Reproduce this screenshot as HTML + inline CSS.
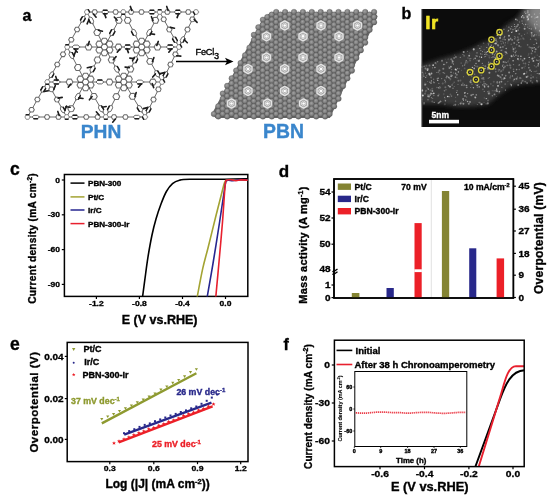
<!DOCTYPE html>
<html><head><meta charset="utf-8"><style>
html,body{margin:0;padding:0;background:#fff;}
svg{display:block;filter:blur(0.3px);}
</style></head><body>
<svg width="550" height="500" viewBox="0 0 550 500" font-family="Liberation Sans, sans-serif" font-weight="bold">
<text x="22.5" y="20.5" font-size="16" text-anchor="start" fill="#000"  stroke="#000" stroke-width="0.36">a</text>
<text x="401.5" y="19.0" font-size="16" text-anchor="start" fill="#000"  stroke="#000" stroke-width="0.36">b</text>
<text x="10.0" y="174.5" font-size="17.5" text-anchor="start" fill="#000"  stroke="#000" stroke-width="0.36">c</text>
<text x="278.8" y="176.8" font-size="17" text-anchor="start" fill="#000"  stroke="#000" stroke-width="0.36">d</text>
<text x="10.0" y="350.3" font-size="17.5" text-anchor="start" fill="#000"  stroke="#000" stroke-width="0.36">e</text>
<text x="283.5" y="350.0" font-size="16" text-anchor="start" fill="#000"  stroke="#000" stroke-width="0.36">f</text>
<g stroke-linecap="round">
<line x1="87.0" y1="12.0" x2="123.3" y2="12.0" stroke="#6a6a6a" stroke-width="1.0" />
<polyline points="97.4,12.0 96.1,14.3 93.4,14.3 92.0,12.0 93.4,9.7 96.1,9.7 97.4,12.0" fill="#fff" stroke="#6a6a6a" stroke-width="1.05" stroke-linejoin="round" />
<line x1="93.4" y1="14.0" x2="96.1" y2="17.2" stroke="#1c1c1c" stroke-width="1.6" />
<polyline points="108.8,12.0 107.0,13.7 103.4,13.7 101.6,12.0 103.4,10.3 107.0,10.3 108.8,12.0" fill="#fff" stroke="#6a6a6a" stroke-width="1.0" stroke-linejoin="round" />
<line x1="107.0" y1="13.7" x2="103.4" y2="13.7" stroke="#1c1c1c" stroke-width="1.5" />
<line x1="103.4" y1="10.3" x2="107.0" y2="10.3" stroke="#1c1c1c" stroke-width="1.5" />
<line x1="104.4" y1="13.6" x2="105.9" y2="17.6" stroke="#1c1c1c" stroke-width="1.6" />
<polyline points="118.3,12.0 117.0,14.3 114.3,14.3 112.9,12.0 114.3,9.7 117.0,9.7 118.3,12.0" fill="#fff" stroke="#6a6a6a" stroke-width="1.05" stroke-linejoin="round" />
<line x1="87.0" y1="12.0" x2="67.2" y2="47.0" stroke="#6a6a6a" stroke-width="1.0" />
<polyline points="81.1,22.4 80.5,20.0 82.3,16.9 84.6,16.2 85.2,18.6 83.5,21.7 81.1,22.4" fill="#fff" stroke="#6a6a6a" stroke-width="1.0" stroke-linejoin="round" />
<line x1="80.5" y1="20.0" x2="82.3" y2="16.9" stroke="#1c1c1c" stroke-width="1.5" />
<line x1="85.2" y1="18.6" x2="83.5" y2="21.7" stroke="#1c1c1c" stroke-width="1.5" />
<polyline points="75.8,31.8 74.4,29.5 75.7,27.2 78.4,27.2 79.8,29.5 78.5,31.8 75.8,31.8" fill="#fff" stroke="#6a6a6a" stroke-width="1.05" stroke-linejoin="round" />
<polyline points="70.0,42.1 68.6,39.7 69.9,37.4 72.6,37.4 74.0,39.7 72.7,42.0 70.0,42.1" fill="#fff" stroke="#6a6a6a" stroke-width="1.05" stroke-linejoin="round" />
<line x1="87.0" y1="12.0" x2="104.4" y2="47.0" stroke="#6a6a6a" stroke-width="1.0" />
<polyline points="92.9,23.8 90.3,22.9 88.6,19.4 89.4,16.8 92.0,17.7 93.7,21.2 92.9,23.8" fill="#fff" stroke="#6a6a6a" stroke-width="1.0" stroke-linejoin="round" />
<line x1="90.3" y1="22.9" x2="88.6" y2="19.4" stroke="#1c1c1c" stroke-width="1.5" />
<line x1="88.8" y1="20.0" x2="87.1" y2="23.8" stroke="#1c1c1c" stroke-width="1.6" />
<polyline points="98.7,35.5 95.3,35.3 93.8,32.2 95.7,29.4 99.1,29.6 100.6,32.6 98.7,35.5" fill="#fff" stroke="#6a6a6a" stroke-width="1.05" stroke-linejoin="round" />
<line x1="98.4" y1="30.3" x2="102.4" y2="31.3" stroke="#1c1c1c" stroke-width="1.6" />
<line x1="123.3" y1="12.0" x2="159.7" y2="12.0" stroke="#6a6a6a" stroke-width="1.0" />
<polyline points="133.8,12.0 132.4,14.3 129.7,14.3 128.4,12.0 129.7,9.7 132.4,9.7 133.8,12.0" fill="#fff" stroke="#6a6a6a" stroke-width="1.05" stroke-linejoin="round" />
<line x1="130.3" y1="6.4" x2="131.8" y2="10.4" stroke="#1c1c1c" stroke-width="1.6" />
<polyline points="144.2,12.0 142.8,14.3 140.2,14.3 138.8,12.0 140.2,9.7 142.8,9.7 144.2,12.0" fill="#fff" stroke="#6a6a6a" stroke-width="1.05" stroke-linejoin="round" />
<polyline points="155.5,12.0 153.7,13.7 150.1,13.7 148.3,12.0 150.1,10.3 153.7,10.3 155.5,12.0" fill="#fff" stroke="#6a6a6a" stroke-width="1.0" stroke-linejoin="round" />
<line x1="153.7" y1="13.7" x2="150.1" y2="13.7" stroke="#1c1c1c" stroke-width="1.5" />
<line x1="150.1" y1="10.3" x2="153.7" y2="10.3" stroke="#1c1c1c" stroke-width="1.5" />
<line x1="123.3" y1="12.0" x2="104.4" y2="47.0" stroke="#6a6a6a" stroke-width="1.0" />
<polyline points="117.2,23.3 115.4,20.4 117.1,17.4 120.5,17.3 122.2,20.2 120.6,23.2 117.2,23.3" fill="#fff" stroke="#6a6a6a" stroke-width="1.05" stroke-linejoin="round" />
<line x1="114.3" y1="17.0" x2="117.1" y2="20.2" stroke="#1c1c1c" stroke-width="1.6" />
<polyline points="110.4,36.0 109.7,33.3 111.5,29.9 114.1,29.1 114.9,31.7 113.0,35.1 110.4,36.0" fill="#fff" stroke="#6a6a6a" stroke-width="1.0" stroke-linejoin="round" />
<line x1="109.7" y1="33.3" x2="111.5" y2="29.9" stroke="#1c1c1c" stroke-width="1.5" />
<line x1="114.9" y1="31.7" x2="113.0" y2="35.1" stroke="#1c1c1c" stroke-width="1.5" />
<line x1="123.3" y1="12.0" x2="141.7" y2="47.0" stroke="#6a6a6a" stroke-width="1.0" />
<polyline points="129.3,23.3 125.9,23.2 124.3,20.2 126.1,17.3 129.5,17.4 131.1,20.4 129.3,23.3" fill="#fff" stroke="#6a6a6a" stroke-width="1.05" stroke-linejoin="round" />
<polyline points="135.9,35.9 133.3,35.1 131.5,31.7 132.3,29.0 134.9,29.9 136.7,33.3 135.9,35.9" fill="#fff" stroke="#6a6a6a" stroke-width="1.0" stroke-linejoin="round" />
<line x1="133.3" y1="35.1" x2="131.5" y2="31.7" stroke="#1c1c1c" stroke-width="1.5" />
<line x1="159.7" y1="12.0" x2="196.0" y2="12.0" stroke="#6a6a6a" stroke-width="1.0" />
<polyline points="170.1,12.0 168.7,14.3 166.0,14.3 164.7,12.0 166.0,9.7 168.7,9.7 170.1,12.0" fill="#fff" stroke="#6a6a6a" stroke-width="1.05" stroke-linejoin="round" />
<line x1="166.7" y1="6.4" x2="168.1" y2="10.4" stroke="#1c1c1c" stroke-width="1.6" />
<polyline points="181.4,12.0 179.6,13.7 176.0,13.7 174.2,12.0 176.0,10.3 179.6,10.3 181.4,12.0" fill="#fff" stroke="#6a6a6a" stroke-width="1.0" stroke-linejoin="round" />
<line x1="179.6" y1="13.7" x2="176.0" y2="13.7" stroke="#1c1c1c" stroke-width="1.5" />
<line x1="176.0" y1="10.3" x2="179.6" y2="10.3" stroke="#1c1c1c" stroke-width="1.5" />
<line x1="177.1" y1="17.6" x2="178.6" y2="13.6" stroke="#1c1c1c" stroke-width="1.6" />
<polyline points="191.0,12.0 189.6,14.3 186.9,14.3 185.6,12.0 186.9,9.7 189.6,9.7 191.0,12.0" fill="#fff" stroke="#6a6a6a" stroke-width="1.05" stroke-linejoin="round" />
<line x1="159.7" y1="12.0" x2="141.7" y2="47.0" stroke="#6a6a6a" stroke-width="1.0" />
<polyline points="153.9,23.3 152.0,20.5 153.6,17.4 157.0,17.3 158.8,20.1 157.3,23.2 153.9,23.3" fill="#fff" stroke="#6a6a6a" stroke-width="1.05" stroke-linejoin="round" />
<line x1="151.4" y1="16.7" x2="153.0" y2="20.6" stroke="#1c1c1c" stroke-width="1.6" />
<polyline points="147.4,35.9 146.6,33.3 148.4,29.9 151.0,29.0 151.8,31.6 150.0,35.1 147.4,35.9" fill="#fff" stroke="#6a6a6a" stroke-width="1.0" stroke-linejoin="round" />
<line x1="151.8" y1="31.6" x2="150.0" y2="35.1" stroke="#1c1c1c" stroke-width="1.5" />
<line x1="154.5" y1="34.4" x2="150.3" y2="33.8" stroke="#1c1c1c" stroke-width="1.6" />
<line x1="159.7" y1="12.0" x2="179.0" y2="47.0" stroke="#6a6a6a" stroke-width="1.0" />
<polyline points="165.0,21.7 162.3,21.6 161.0,19.2 162.4,16.9 165.1,17.0 166.4,19.3 165.0,21.7" fill="#fff" stroke="#6a6a6a" stroke-width="1.05" stroke-linejoin="round" />
<polyline points="170.6,31.9 167.9,31.8 166.6,29.4 168.0,27.1 170.7,27.2 172.0,29.6 170.6,31.9" fill="#fff" stroke="#6a6a6a" stroke-width="1.05" stroke-linejoin="round" />
<line x1="170.4" y1="27.4" x2="174.5" y2="28.2" stroke="#1c1c1c" stroke-width="1.6" />
<polyline points="176.7,42.9 174.4,42.1 172.6,39.0 173.2,36.6 175.6,37.3 177.3,40.5 176.7,42.9" fill="#fff" stroke="#6a6a6a" stroke-width="1.0" stroke-linejoin="round" />
<line x1="174.4" y1="42.1" x2="172.6" y2="39.0" stroke="#1c1c1c" stroke-width="1.5" />
<line x1="175.6" y1="37.3" x2="177.3" y2="40.5" stroke="#1c1c1c" stroke-width="1.5" />
<line x1="196.0" y1="12.0" x2="179.0" y2="47.0" stroke="#6a6a6a" stroke-width="1.0" />
<polyline points="191.3,21.8 189.7,19.5 190.9,17.1 193.6,16.9 195.1,19.1 194.0,21.6 191.3,21.8" fill="#fff" stroke="#6a6a6a" stroke-width="1.05" stroke-linejoin="round" />
<line x1="194.2" y1="19.4" x2="197.1" y2="22.4" stroke="#1c1c1c" stroke-width="1.6" />
<polyline points="186.3,31.9 184.8,29.7 186.0,27.3 188.7,27.1 190.2,29.3 189.0,31.7 186.3,31.9" fill="#fff" stroke="#6a6a6a" stroke-width="1.05" stroke-linejoin="round" />
<polyline points="181.0,42.9 180.2,40.5 181.8,37.3 184.1,36.4 184.9,38.8 183.3,42.0 181.0,42.9" fill="#fff" stroke="#6a6a6a" stroke-width="1.0" stroke-linejoin="round" />
<line x1="184.9" y1="38.8" x2="183.3" y2="42.0" stroke="#1c1c1c" stroke-width="1.5" />
<line x1="184.3" y1="39.7" x2="187.3" y2="42.7" stroke="#1c1c1c" stroke-width="1.6" />
<line x1="67.2" y1="47.0" x2="104.4" y2="47.0" stroke="#6a6a6a" stroke-width="1.0" />
<polyline points="79.9,47.0 77.9,48.9 74.0,48.9 72.1,47.0 74.0,45.1 77.9,45.1 79.9,47.0" fill="#fff" stroke="#6a6a6a" stroke-width="1.0" stroke-linejoin="round" />
<line x1="77.9" y1="48.9" x2="74.0" y2="48.9" stroke="#1c1c1c" stroke-width="1.5" />
<line x1="74.6" y1="49.0" x2="77.3" y2="52.2" stroke="#1c1c1c" stroke-width="1.6" />
<polyline points="92.0,47.0 90.3,49.9 86.9,49.9 85.2,47.0 86.9,44.1 90.3,44.1 92.0,47.0" fill="#fff" stroke="#6a6a6a" stroke-width="1.05" stroke-linejoin="round" />
<line x1="87.9" y1="45.4" x2="89.3" y2="41.4" stroke="#1c1c1c" stroke-width="1.6" />
<line x1="67.2" y1="47.0" x2="47.3" y2="82.0" stroke="#6a6a6a" stroke-width="1.0" />
<polyline points="61.7,56.6 60.3,54.3 61.7,52.0 64.4,51.9 65.7,54.3 64.4,56.6 61.7,56.6" fill="#fff" stroke="#6a6a6a" stroke-width="1.05" stroke-linejoin="round" />
<polyline points="55.9,66.8 54.6,64.5 55.9,62.2 58.6,62.2 59.9,64.5 58.6,66.8 55.9,66.8" fill="#fff" stroke="#6a6a6a" stroke-width="1.05" stroke-linejoin="round" />
<polyline points="49.7,77.8 49.1,75.4 50.9,72.3 53.2,71.6 53.8,74.0 52.1,77.1 49.7,77.8" fill="#fff" stroke="#6a6a6a" stroke-width="1.0" stroke-linejoin="round" />
<line x1="53.8" y1="74.0" x2="52.1" y2="77.1" stroke="#1c1c1c" stroke-width="1.5" />
<line x1="67.2" y1="47.0" x2="85.6" y2="82.0" stroke="#6a6a6a" stroke-width="1.0" />
<polyline points="73.3,58.8 70.8,57.9 68.9,54.5 69.7,51.9 72.3,52.7 74.1,56.1 73.3,58.8" fill="#fff" stroke="#6a6a6a" stroke-width="1.0" stroke-linejoin="round" />
<line x1="72.3" y1="52.7" x2="74.1" y2="56.1" stroke="#1c1c1c" stroke-width="1.5" />
<line x1="75.5" y1="51.7" x2="73.9" y2="55.6" stroke="#1c1c1c" stroke-width="1.6" />
<polyline points="79.5,70.5 76.1,70.4 74.5,67.4 76.4,64.5 79.8,64.6 81.3,67.6 79.5,70.5" fill="#fff" stroke="#6a6a6a" stroke-width="1.05" stroke-linejoin="round" />
<line x1="104.4" y1="47.0" x2="141.7" y2="47.0" stroke="#6a6a6a" stroke-width="1.0" />
<polyline points="121.9,47.0 120.2,49.9 116.8,49.9 115.1,47.0 116.8,44.1 120.2,44.1 121.9,47.0" fill="#fff" stroke="#6a6a6a" stroke-width="1.05" stroke-linejoin="round" />
<line x1="117.2" y1="52.2" x2="119.9" y2="49.0" stroke="#1c1c1c" stroke-width="1.6" />
<polyline points="131.6,47.0 129.6,48.9 125.7,48.9 123.8,47.0 125.7,45.1 129.6,45.1 131.6,47.0" fill="#fff" stroke="#6a6a6a" stroke-width="1.0" stroke-linejoin="round" />
<line x1="129.6" y1="48.9" x2="125.7" y2="48.9" stroke="#1c1c1c" stroke-width="1.5" />
<line x1="125.7" y1="45.1" x2="129.6" y2="45.1" stroke="#1c1c1c" stroke-width="1.5" />
<line x1="126.9" y1="48.6" x2="128.4" y2="52.6" stroke="#1c1c1c" stroke-width="1.6" />
<line x1="104.4" y1="47.0" x2="85.6" y2="82.0" stroke="#6a6a6a" stroke-width="1.0" />
<polyline points="95.9,62.9 94.1,60.0 95.7,57.0 99.1,56.9 100.9,59.8 99.3,62.8 95.9,62.9" fill="#fff" stroke="#6a6a6a" stroke-width="1.05" stroke-linejoin="round" />
<polyline points="90.7,72.5 89.9,69.9 91.8,66.5 94.4,65.6 95.1,68.3 93.3,71.7 90.7,72.5" fill="#fff" stroke="#6a6a6a" stroke-width="1.0" stroke-linejoin="round" />
<line x1="95.1" y1="68.3" x2="93.3" y2="71.7" stroke="#1c1c1c" stroke-width="1.5" />
<line x1="91.4" y1="66.9" x2="87.3" y2="67.8" stroke="#1c1c1c" stroke-width="1.6" />
<line x1="104.4" y1="47.0" x2="123.8" y2="82.0" stroke="#6a6a6a" stroke-width="1.0" />
<polyline points="113.2,62.9 109.8,62.8 108.2,59.8 109.9,56.9 113.3,57.0 115.0,60.0 113.2,62.9" fill="#fff" stroke="#6a6a6a" stroke-width="1.05" stroke-linejoin="round" />
<line x1="116.1" y1="56.6" x2="113.3" y2="59.8" stroke="#1c1c1c" stroke-width="1.6" />
<polyline points="118.5,72.5 115.9,71.7 114.0,68.3 114.8,65.7 117.4,66.5 119.3,69.9 118.5,72.5" fill="#fff" stroke="#6a6a6a" stroke-width="1.0" stroke-linejoin="round" />
<line x1="117.4" y1="66.5" x2="119.3" y2="69.9" stroke="#1c1c1c" stroke-width="1.5" />
<line x1="141.7" y1="47.0" x2="179.0" y2="47.0" stroke="#6a6a6a" stroke-width="1.0" />
<polyline points="160.9,47.0 159.2,49.9 155.8,49.9 154.1,47.0 155.8,44.1 159.2,44.1 160.9,47.0" fill="#fff" stroke="#6a6a6a" stroke-width="1.05" stroke-linejoin="round" />
<line x1="156.8" y1="45.4" x2="158.3" y2="41.4" stroke="#1c1c1c" stroke-width="1.6" />
<polyline points="174.1,47.0 172.1,48.9 168.2,48.9 166.3,47.0 168.2,45.1 172.1,45.1 174.1,47.0" fill="#fff" stroke="#6a6a6a" stroke-width="1.0" stroke-linejoin="round" />
<line x1="172.1" y1="48.9" x2="168.2" y2="48.9" stroke="#1c1c1c" stroke-width="1.5" />
<line x1="168.2" y1="45.1" x2="172.1" y2="45.1" stroke="#1c1c1c" stroke-width="1.5" />
<line x1="168.8" y1="52.2" x2="171.5" y2="49.0" stroke="#1c1c1c" stroke-width="1.6" />
<line x1="141.7" y1="47.0" x2="123.8" y2="82.0" stroke="#6a6a6a" stroke-width="1.0" />
<polyline points="133.3,63.4 132.5,60.8 134.3,57.4 136.8,56.5 137.6,59.1 135.9,62.6 133.3,63.4" fill="#fff" stroke="#6a6a6a" stroke-width="1.0" stroke-linejoin="round" />
<line x1="132.5" y1="60.8" x2="134.3" y2="57.4" stroke="#1c1c1c" stroke-width="1.5" />
<line x1="137.6" y1="59.1" x2="135.9" y2="62.6" stroke="#1c1c1c" stroke-width="1.5" />
<line x1="133.9" y1="58.6" x2="129.8" y2="58.1" stroke="#1c1c1c" stroke-width="1.6" />
<polyline points="128.9,72.0 127.0,69.2 128.6,66.2 132.0,66.0 133.8,68.9 132.3,71.9 128.9,72.0" fill="#fff" stroke="#6a6a6a" stroke-width="1.05" stroke-linejoin="round" />
<line x1="129.3" y1="67.6" x2="125.1" y2="67.1" stroke="#1c1c1c" stroke-width="1.6" />
<line x1="141.7" y1="47.0" x2="162.0" y2="82.0" stroke="#6a6a6a" stroke-width="1.0" />
<polyline points="151.8,64.3 148.4,64.3 146.7,61.4 148.3,58.4 151.7,58.4 153.5,61.4 151.8,64.3" fill="#fff" stroke="#6a6a6a" stroke-width="1.05" stroke-linejoin="round" />
<line x1="153.9" y1="57.6" x2="152.4" y2="61.5" stroke="#1c1c1c" stroke-width="1.6" />
<polyline points="159.1,77.1 156.5,76.3 154.6,72.9 155.2,70.3 157.8,71.0 159.8,74.4 159.1,77.1" fill="#fff" stroke="#6a6a6a" stroke-width="1.0" stroke-linejoin="round" />
<line x1="157.8" y1="71.0" x2="159.8" y2="74.4" stroke="#1c1c1c" stroke-width="1.5" />
<line x1="155.4" y1="73.9" x2="152.7" y2="77.1" stroke="#1c1c1c" stroke-width="1.6" />
<line x1="179.0" y1="47.0" x2="162.0" y2="82.0" stroke="#6a6a6a" stroke-width="1.0" />
<polyline points="174.3,56.8 172.7,54.5 173.9,52.1 176.6,51.9 178.1,54.1 177.0,56.6 174.3,56.8" fill="#fff" stroke="#6a6a6a" stroke-width="1.05" stroke-linejoin="round" />
<line x1="180.8" y1="56.1" x2="176.6" y2="55.7" stroke="#1c1c1c" stroke-width="1.6" />
<polyline points="169.3,66.9 167.8,64.7 169.0,62.3 171.7,62.1 173.2,64.3 172.0,66.7 169.3,66.9" fill="#fff" stroke="#6a6a6a" stroke-width="1.05" stroke-linejoin="round" />
<polyline points="164.0,77.9 163.2,75.5 164.8,72.3 167.1,71.4 167.9,73.8 166.3,77.0 164.0,77.9" fill="#fff" stroke="#6a6a6a" stroke-width="1.0" stroke-linejoin="round" />
<line x1="163.2" y1="75.5" x2="164.8" y2="72.3" stroke="#1c1c1c" stroke-width="1.5" />
<line x1="167.9" y1="73.8" x2="166.3" y2="77.0" stroke="#1c1c1c" stroke-width="1.5" />
<line x1="164.4" y1="72.6" x2="160.3" y2="73.6" stroke="#1c1c1c" stroke-width="1.6" />
<line x1="47.3" y1="82.0" x2="85.6" y2="82.0" stroke="#6a6a6a" stroke-width="1.0" />
<polyline points="60.3,82.0 58.3,83.9 54.4,83.9 52.5,82.0 54.4,80.1 58.3,80.1 60.3,82.0" fill="#fff" stroke="#6a6a6a" stroke-width="1.0" stroke-linejoin="round" />
<line x1="58.3" y1="83.9" x2="54.4" y2="83.9" stroke="#1c1c1c" stroke-width="1.5" />
<line x1="54.4" y1="80.1" x2="58.3" y2="80.1" stroke="#1c1c1c" stroke-width="1.5" />
<line x1="55.7" y1="76.4" x2="57.1" y2="80.4" stroke="#1c1c1c" stroke-width="1.6" />
<polyline points="72.9,82.0 71.2,84.9 67.8,84.9 66.1,82.0 67.8,79.1 71.2,79.1 72.9,82.0" fill="#fff" stroke="#6a6a6a" stroke-width="1.05" stroke-linejoin="round" />
<line x1="68.2" y1="87.2" x2="70.8" y2="84.0" stroke="#1c1c1c" stroke-width="1.6" />
<line x1="47.3" y1="82.0" x2="27.5" y2="117.0" stroke="#6a6a6a" stroke-width="1.0" />
<polyline points="41.4,92.4 40.8,90.0 42.6,86.9 45.0,86.2 45.6,88.6 43.8,91.7 41.4,92.4" fill="#fff" stroke="#6a6a6a" stroke-width="1.0" stroke-linejoin="round" />
<line x1="40.8" y1="90.0" x2="42.6" y2="86.9" stroke="#1c1c1c" stroke-width="1.5" />
<line x1="45.6" y1="88.6" x2="43.8" y2="91.7" stroke="#1c1c1c" stroke-width="1.5" />
<line x1="48.4" y1="90.7" x2="44.3" y2="91.4" stroke="#1c1c1c" stroke-width="1.6" />
<polyline points="36.1,101.8 34.7,99.5 36.0,97.2 38.7,97.2 40.1,99.5 38.8,101.8 36.1,101.8" fill="#fff" stroke="#6a6a6a" stroke-width="1.05" stroke-linejoin="round" />
<polyline points="30.3,112.1 28.9,109.7 30.3,107.4 33.0,107.4 34.3,109.7 33.0,112.0 30.3,112.1" fill="#fff" stroke="#6a6a6a" stroke-width="1.05" stroke-linejoin="round" />
<line x1="47.3" y1="82.0" x2="66.7" y2="117.0" stroke="#6a6a6a" stroke-width="1.0" />
<polyline points="52.7,91.7 50.0,91.6 48.7,89.2 50.1,86.9 52.8,87.0 54.1,89.3 52.7,91.7" fill="#fff" stroke="#6a6a6a" stroke-width="1.05" stroke-linejoin="round" />
<line x1="55.3" y1="85.6" x2="53.8" y2="89.5" stroke="#1c1c1c" stroke-width="1.6" />
<polyline points="58.3,101.9 55.6,101.8 54.3,99.4 55.7,97.1 58.4,97.2 59.7,99.6 58.3,101.9" fill="#fff" stroke="#6a6a6a" stroke-width="1.05" stroke-linejoin="round" />
<line x1="58.1" y1="98.1" x2="62.2" y2="97.4" stroke="#1c1c1c" stroke-width="1.6" />
<polyline points="64.4,112.9 62.0,112.1 60.3,109.0 60.9,106.6 63.3,107.3 65.0,110.5 64.4,112.9" fill="#fff" stroke="#6a6a6a" stroke-width="1.0" stroke-linejoin="round" />
<line x1="63.3" y1="107.3" x2="65.0" y2="110.5" stroke="#1c1c1c" stroke-width="1.5" />
<line x1="66.5" y1="106.0" x2="65.0" y2="109.9" stroke="#1c1c1c" stroke-width="1.6" />
<line x1="85.6" y1="82.0" x2="123.8" y2="82.0" stroke="#6a6a6a" stroke-width="1.0" />
<polyline points="103.8,82.0 101.8,83.9 97.9,83.9 96.0,82.0 97.9,80.1 101.8,80.1 103.8,82.0" fill="#fff" stroke="#6a6a6a" stroke-width="1.0" stroke-linejoin="round" />
<line x1="97.9" y1="80.1" x2="101.8" y2="80.1" stroke="#1c1c1c" stroke-width="1.5" />
<polyline points="112.9,82.0 111.2,84.9 107.8,84.9 106.1,82.0 107.8,79.1 111.2,79.1 112.9,82.0" fill="#fff" stroke="#6a6a6a" stroke-width="1.05" stroke-linejoin="round" />
<line x1="85.6" y1="82.0" x2="66.7" y2="117.0" stroke="#6a6a6a" stroke-width="1.0" />
<polyline points="75.9,99.9 75.1,97.3 77.0,93.9 79.6,93.0 80.3,95.7 78.5,99.1 75.9,99.9" fill="#fff" stroke="#6a6a6a" stroke-width="1.0" stroke-linejoin="round" />
<line x1="80.3" y1="95.7" x2="78.5" y2="99.1" stroke="#1c1c1c" stroke-width="1.5" />
<line x1="83.0" y1="98.5" x2="78.8" y2="97.9" stroke="#1c1c1c" stroke-width="1.6" />
<polyline points="69.5,111.7 67.8,108.8 69.4,105.8 72.8,105.7 74.6,108.6 72.9,111.6 69.5,111.7" fill="#fff" stroke="#6a6a6a" stroke-width="1.05" stroke-linejoin="round" />
<line x1="70.1" y1="107.3" x2="65.9" y2="106.7" stroke="#1c1c1c" stroke-width="1.6" />
<line x1="85.6" y1="82.0" x2="105.8" y2="117.0" stroke="#6a6a6a" stroke-width="1.0" />
<polyline points="95.6,99.3 92.2,99.3 90.5,96.4 92.2,93.4 95.6,93.4 97.3,96.4 95.6,99.3" fill="#fff" stroke="#6a6a6a" stroke-width="1.05" stroke-linejoin="round" />
<line x1="92.1" y1="96.6" x2="89.4" y2="99.8" stroke="#1c1c1c" stroke-width="1.6" />
<polyline points="103.0,112.1 100.3,111.3 98.4,107.9 99.1,105.3 101.7,106.0 103.6,109.4 103.0,112.1" fill="#fff" stroke="#6a6a6a" stroke-width="1.0" stroke-linejoin="round" />
<line x1="101.7" y1="106.0" x2="103.6" y2="109.4" stroke="#1c1c1c" stroke-width="1.5" />
<line x1="102.1" y1="107.2" x2="106.2" y2="106.5" stroke="#1c1c1c" stroke-width="1.6" />
<line x1="123.8" y1="82.0" x2="162.0" y2="82.0" stroke="#6a6a6a" stroke-width="1.0" />
<polyline points="143.7,82.0 141.8,83.9 137.9,83.9 135.9,82.0 137.9,80.1 141.8,80.1 143.7,82.0" fill="#fff" stroke="#6a6a6a" stroke-width="1.0" stroke-linejoin="round" />
<line x1="141.8" y1="83.9" x2="137.9" y2="83.9" stroke="#1c1c1c" stroke-width="1.5" />
<line x1="138.5" y1="87.2" x2="141.2" y2="84.0" stroke="#1c1c1c" stroke-width="1.6" />
<polyline points="156.3,82.0 154.6,84.9 151.2,84.9 149.5,82.0 151.2,79.1 154.6,79.1 156.3,82.0" fill="#fff" stroke="#6a6a6a" stroke-width="1.05" stroke-linejoin="round" />
<line x1="152.2" y1="83.6" x2="153.7" y2="87.6" stroke="#1c1c1c" stroke-width="1.6" />
<line x1="123.8" y1="82.0" x2="105.8" y2="117.0" stroke="#6a6a6a" stroke-width="1.0" />
<polyline points="114.8,99.6 112.9,96.7 114.5,93.7 117.9,93.5 119.7,96.4 118.2,99.4 114.8,99.6" fill="#fff" stroke="#6a6a6a" stroke-width="1.05" stroke-linejoin="round" />
<polyline points="108.3,112.2 107.5,109.6 109.3,106.1 111.9,105.2 112.7,107.8 110.9,111.3 108.3,112.2" fill="#fff" stroke="#6a6a6a" stroke-width="1.0" stroke-linejoin="round" />
<line x1="107.5" y1="109.6" x2="109.3" y2="106.1" stroke="#1c1c1c" stroke-width="1.5" />
<line x1="123.8" y1="82.0" x2="145.0" y2="117.0" stroke="#6a6a6a" stroke-width="1.0" />
<polyline points="134.2,99.2 130.8,99.3 129.1,96.4 130.7,93.4 134.1,93.3 135.9,96.2 134.2,99.2" fill="#fff" stroke="#6a6a6a" stroke-width="1.05" stroke-linejoin="round" />
<line x1="136.2" y1="92.5" x2="134.9" y2="96.4" stroke="#1c1c1c" stroke-width="1.6" />
<polyline points="142.0,112.0 139.3,111.3 137.3,108.0 137.9,105.3 140.6,106.0 142.6,109.4 142.0,112.0" fill="#fff" stroke="#6a6a6a" stroke-width="1.0" stroke-linejoin="round" />
<line x1="139.3" y1="111.3" x2="137.3" y2="108.0" stroke="#1c1c1c" stroke-width="1.5" />
<line x1="162.0" y1="82.0" x2="145.0" y2="117.0" stroke="#6a6a6a" stroke-width="1.0" />
<polyline points="157.3,91.8 155.7,89.5 156.9,87.1 159.6,86.9 161.1,89.1 160.0,91.6 157.3,91.8" fill="#fff" stroke="#6a6a6a" stroke-width="1.05" stroke-linejoin="round" />
<polyline points="152.3,101.9 150.8,99.7 152.0,97.3 154.7,97.1 156.2,99.3 155.0,101.7 152.3,101.9" fill="#fff" stroke="#6a6a6a" stroke-width="1.05" stroke-linejoin="round" />
<polyline points="147.0,112.9 146.2,110.5 147.8,107.3 150.1,106.4 150.9,108.8 149.3,112.0 147.0,112.9" fill="#fff" stroke="#6a6a6a" stroke-width="1.0" stroke-linejoin="round" />
<line x1="146.2" y1="110.5" x2="147.8" y2="107.3" stroke="#1c1c1c" stroke-width="1.5" />
<line x1="150.9" y1="108.8" x2="149.3" y2="112.0" stroke="#1c1c1c" stroke-width="1.5" />
<line x1="147.4" y1="107.6" x2="143.3" y2="108.6" stroke="#1c1c1c" stroke-width="1.6" />
<line x1="27.5" y1="117.0" x2="66.7" y2="117.0" stroke="#6a6a6a" stroke-width="1.0" />
<polyline points="39.3,117.0 37.5,118.7 33.9,118.7 32.1,117.0 33.9,115.3 37.5,115.3 39.3,117.0" fill="#fff" stroke="#6a6a6a" stroke-width="1.0" stroke-linejoin="round" />
<line x1="37.5" y1="118.7" x2="33.9" y2="118.7" stroke="#1c1c1c" stroke-width="1.5" />
<polyline points="49.8,117.0 48.4,119.3 45.7,119.3 44.4,117.0 45.7,114.7 48.4,114.7 49.8,117.0" fill="#fff" stroke="#6a6a6a" stroke-width="1.05" stroke-linejoin="round" />
<polyline points="61.2,117.0 59.8,119.3 57.1,119.3 55.8,117.0 57.1,114.7 59.8,114.7 61.2,117.0" fill="#fff" stroke="#6a6a6a" stroke-width="1.05" stroke-linejoin="round" />
<line x1="57.8" y1="111.4" x2="59.2" y2="115.4" stroke="#1c1c1c" stroke-width="1.6" />
<line x1="66.7" y1="117.0" x2="105.8" y2="117.0" stroke="#6a6a6a" stroke-width="1.0" />
<polyline points="78.5,117.0 76.7,118.7 73.1,118.7 71.3,117.0 73.1,115.3 76.7,115.3 78.5,117.0" fill="#fff" stroke="#6a6a6a" stroke-width="1.0" stroke-linejoin="round" />
<line x1="76.7" y1="118.7" x2="73.1" y2="118.7" stroke="#1c1c1c" stroke-width="1.5" />
<line x1="73.1" y1="115.3" x2="76.7" y2="115.3" stroke="#1c1c1c" stroke-width="1.5" />
<polyline points="89.0,117.0 87.6,119.3 84.9,119.3 83.5,117.0 84.9,114.7 87.6,114.7 89.0,117.0" fill="#fff" stroke="#6a6a6a" stroke-width="1.05" stroke-linejoin="round" />
<polyline points="100.3,117.0 99.0,119.3 96.3,119.3 94.9,117.0 96.3,114.7 99.0,114.7 100.3,117.0" fill="#fff" stroke="#6a6a6a" stroke-width="1.05" stroke-linejoin="round" />
<line x1="96.3" y1="111.8" x2="99.0" y2="115.0" stroke="#1c1c1c" stroke-width="1.6" />
<line x1="105.8" y1="117.0" x2="145.0" y2="117.0" stroke="#6a6a6a" stroke-width="1.0" />
<polyline points="116.7,117.0 115.4,119.3 112.7,119.3 111.3,117.0 112.7,114.7 115.4,114.7 116.7,117.0" fill="#fff" stroke="#6a6a6a" stroke-width="1.05" stroke-linejoin="round" />
<line x1="112.7" y1="122.2" x2="115.4" y2="119.0" stroke="#1c1c1c" stroke-width="1.6" />
<polyline points="128.1,117.0 126.8,119.3 124.1,119.3 122.7,117.0 124.1,114.7 126.8,114.7 128.1,117.0" fill="#fff" stroke="#6a6a6a" stroke-width="1.05" stroke-linejoin="round" />
<polyline points="140.4,117.0 138.6,118.7 135.0,118.7 133.2,117.0 135.0,115.3 138.6,115.3 140.4,117.0" fill="#fff" stroke="#6a6a6a" stroke-width="1.0" stroke-linejoin="round" />
<line x1="138.6" y1="118.7" x2="135.0" y2="118.7" stroke="#1c1c1c" stroke-width="1.5" />
<polyline points="89.6,12.0 88.3,14.3 85.7,14.3 84.4,12.0 85.7,9.7 88.3,9.7 89.6,12.0" fill="#fff" stroke="#7a7a7a" stroke-width="0.85" stroke-linejoin="round" />
<line x1="88.3" y1="9.7" x2="89.6" y2="12.0" stroke="#1e1e1e" stroke-width="1.5" />
<polyline points="125.9,12.0 124.6,14.3 122.0,14.3 120.7,12.0 122.0,9.7 124.6,9.7 125.9,12.0" fill="#fff" stroke="#7a7a7a" stroke-width="0.85" stroke-linejoin="round" />
<line x1="124.6" y1="14.3" x2="122.0" y2="14.3" stroke="#1e1e1e" stroke-width="1.5" />
<polyline points="162.3,12.0 161.0,14.3 158.4,14.3 157.1,12.0 158.4,9.7 161.0,9.7 162.3,12.0" fill="#fff" stroke="#7a7a7a" stroke-width="0.85" stroke-linejoin="round" />
<line x1="158.4" y1="9.7" x2="161.0" y2="9.7" stroke="#1e1e1e" stroke-width="1.5" />
<polyline points="198.6,12.0 197.3,14.3 194.7,14.3 193.4,12.0 194.7,9.7 197.3,9.7 198.6,12.0" fill="#fff" stroke="#7a7a7a" stroke-width="0.85" stroke-linejoin="round" />
<line x1="194.7" y1="14.3" x2="193.4" y2="12.0" stroke="#1e1e1e" stroke-width="1.5" />
<polyline points="69.8,47.0 68.5,49.3 65.9,49.3 64.6,47.0 65.9,44.7 68.5,44.7 69.8,47.0" fill="#fff" stroke="#7a7a7a" stroke-width="0.85" stroke-linejoin="round" />
<line x1="65.9" y1="44.7" x2="68.5" y2="44.7" stroke="#1e1e1e" stroke-width="1.5" />
<polyline points="107.8,47.0 106.1,49.9 102.7,49.9 101.0,47.0 102.7,44.1 106.1,44.1 107.8,47.0" fill="#fff" stroke="#6a6a6a" stroke-width="1.05" stroke-linejoin="round" />
<polyline points="113.0,50.0 111.3,52.9 107.9,52.9 106.2,50.0 107.9,47.0 111.3,47.0 113.0,50.0" fill="#fff" stroke="#6a6a6a" stroke-width="1.05" stroke-linejoin="round" />
<line x1="107.9" y1="52.9" x2="106.2" y2="50.0" stroke="#1e1e1e" stroke-width="1.5" />
<polyline points="107.8,52.9 106.1,55.8 102.7,55.8 101.0,52.9 102.7,50.0 106.1,50.0 107.8,52.9" fill="#fff" stroke="#6a6a6a" stroke-width="1.05" stroke-linejoin="round" />
<polyline points="102.7,50.0 101.0,52.9 97.6,52.9 95.9,50.0 97.6,47.0 101.0,47.0 102.7,50.0" fill="#fff" stroke="#6a6a6a" stroke-width="1.05" stroke-linejoin="round" />
<line x1="97.6" y1="47.0" x2="101.0" y2="47.0" stroke="#1e1e1e" stroke-width="1.5" />
<polyline points="102.7,44.0 101.0,47.0 97.6,47.0 95.9,44.0 97.6,41.1 101.0,41.1 102.7,44.0" fill="#fff" stroke="#6a6a6a" stroke-width="1.05" stroke-linejoin="round" />
<polyline points="107.8,41.1 106.1,44.0 102.7,44.0 101.0,41.1 102.7,38.2 106.1,38.2 107.8,41.1" fill="#fff" stroke="#6a6a6a" stroke-width="1.05" stroke-linejoin="round" />
<line x1="107.8" y1="41.1" x2="106.1" y2="44.0" stroke="#1e1e1e" stroke-width="1.5" />
<polyline points="113.0,44.0 111.3,47.0 107.9,47.0 106.2,44.0 107.9,41.1 111.3,41.1 113.0,44.0" fill="#fff" stroke="#6a6a6a" stroke-width="1.05" stroke-linejoin="round" />
<polyline points="145.1,47.0 143.4,49.9 140.0,49.9 138.3,47.0 140.0,44.1 143.4,44.1 145.1,47.0" fill="#fff" stroke="#6a6a6a" stroke-width="1.05" stroke-linejoin="round" />
<polyline points="150.2,50.0 148.5,52.9 145.1,52.9 143.4,50.0 145.1,47.0 148.5,47.0 150.2,50.0" fill="#fff" stroke="#6a6a6a" stroke-width="1.05" stroke-linejoin="round" />
<line x1="145.1" y1="52.9" x2="143.4" y2="50.0" stroke="#1e1e1e" stroke-width="1.5" />
<polyline points="145.1,52.9 143.4,55.8 140.0,55.8 138.3,52.9 140.0,50.0 143.4,50.0 145.1,52.9" fill="#fff" stroke="#6a6a6a" stroke-width="1.05" stroke-linejoin="round" />
<polyline points="140.0,50.0 138.3,52.9 134.9,52.9 133.2,50.0 134.9,47.0 138.3,47.0 140.0,50.0" fill="#fff" stroke="#6a6a6a" stroke-width="1.05" stroke-linejoin="round" />
<line x1="134.9" y1="47.0" x2="138.3" y2="47.0" stroke="#1e1e1e" stroke-width="1.5" />
<polyline points="140.0,44.0 138.3,47.0 134.9,47.0 133.2,44.0 134.9,41.1 138.3,41.1 140.0,44.0" fill="#fff" stroke="#6a6a6a" stroke-width="1.05" stroke-linejoin="round" />
<polyline points="145.1,41.1 143.4,44.0 140.0,44.0 138.3,41.1 140.0,38.2 143.4,38.2 145.1,41.1" fill="#fff" stroke="#6a6a6a" stroke-width="1.05" stroke-linejoin="round" />
<line x1="145.1" y1="41.1" x2="143.4" y2="44.0" stroke="#1e1e1e" stroke-width="1.5" />
<polyline points="150.2,44.0 148.5,47.0 145.1,47.0 143.4,44.0 145.1,41.1 148.5,41.1 150.2,44.0" fill="#fff" stroke="#6a6a6a" stroke-width="1.05" stroke-linejoin="round" />
<polyline points="181.6,47.0 180.3,49.3 177.7,49.3 176.4,47.0 177.7,44.7 180.3,44.7 181.6,47.0" fill="#fff" stroke="#7a7a7a" stroke-width="0.85" stroke-linejoin="round" />
<line x1="180.3" y1="44.7" x2="181.6" y2="47.0" stroke="#1e1e1e" stroke-width="1.5" />
<polyline points="49.9,82.0 48.6,84.3 46.0,84.3 44.7,82.0 46.0,79.7 48.6,79.7 49.9,82.0" fill="#fff" stroke="#7a7a7a" stroke-width="0.85" stroke-linejoin="round" />
<line x1="48.6" y1="84.3" x2="46.0" y2="84.3" stroke="#1e1e1e" stroke-width="1.5" />
<polyline points="89.0,82.0 87.3,84.9 83.9,84.9 82.2,82.0 83.9,79.1 87.3,79.1 89.0,82.0" fill="#fff" stroke="#6a6a6a" stroke-width="1.05" stroke-linejoin="round" />
<polyline points="94.1,85.0 92.4,87.9 89.0,87.9 87.3,85.0 89.0,82.0 92.4,82.0 94.1,85.0" fill="#fff" stroke="#6a6a6a" stroke-width="1.05" stroke-linejoin="round" />
<line x1="89.0" y1="87.9" x2="87.3" y2="85.0" stroke="#1e1e1e" stroke-width="1.5" />
<polyline points="89.0,87.9 87.3,90.8 83.9,90.8 82.2,87.9 83.9,85.0 87.3,85.0 89.0,87.9" fill="#fff" stroke="#6a6a6a" stroke-width="1.05" stroke-linejoin="round" />
<polyline points="83.8,85.0 82.1,87.9 78.7,87.9 77.0,85.0 78.7,82.0 82.1,82.0 83.8,85.0" fill="#fff" stroke="#6a6a6a" stroke-width="1.05" stroke-linejoin="round" />
<line x1="78.7" y1="82.0" x2="82.1" y2="82.0" stroke="#1e1e1e" stroke-width="1.5" />
<polyline points="83.8,79.0 82.1,82.0 78.7,82.0 77.0,79.0 78.7,76.1 82.1,76.1 83.8,79.0" fill="#fff" stroke="#6a6a6a" stroke-width="1.05" stroke-linejoin="round" />
<polyline points="89.0,76.1 87.3,79.0 83.9,79.0 82.2,76.1 83.9,73.2 87.3,73.2 89.0,76.1" fill="#fff" stroke="#6a6a6a" stroke-width="1.05" stroke-linejoin="round" />
<line x1="89.0" y1="76.1" x2="87.3" y2="79.0" stroke="#1e1e1e" stroke-width="1.5" />
<polyline points="94.1,79.0 92.4,82.0 89.0,82.0 87.3,79.0 89.0,76.1 92.4,76.1 94.1,79.0" fill="#fff" stroke="#6a6a6a" stroke-width="1.05" stroke-linejoin="round" />
<polyline points="127.2,82.0 125.5,84.9 122.1,84.9 120.4,82.0 122.1,79.1 125.5,79.1 127.2,82.0" fill="#fff" stroke="#6a6a6a" stroke-width="1.05" stroke-linejoin="round" />
<polyline points="132.3,85.0 130.6,87.9 127.2,87.9 125.5,85.0 127.2,82.0 130.6,82.0 132.3,85.0" fill="#fff" stroke="#6a6a6a" stroke-width="1.05" stroke-linejoin="round" />
<line x1="127.2" y1="87.9" x2="125.5" y2="85.0" stroke="#1e1e1e" stroke-width="1.5" />
<polyline points="127.2,87.9 125.5,90.8 122.1,90.8 120.4,87.9 122.1,85.0 125.5,85.0 127.2,87.9" fill="#fff" stroke="#6a6a6a" stroke-width="1.05" stroke-linejoin="round" />
<polyline points="122.1,85.0 120.4,87.9 117.0,87.9 115.3,85.0 117.0,82.0 120.4,82.0 122.1,85.0" fill="#fff" stroke="#6a6a6a" stroke-width="1.05" stroke-linejoin="round" />
<line x1="117.0" y1="82.0" x2="120.4" y2="82.0" stroke="#1e1e1e" stroke-width="1.5" />
<polyline points="122.1,79.0 120.4,82.0 117.0,82.0 115.3,79.0 117.0,76.1 120.4,76.1 122.1,79.0" fill="#fff" stroke="#6a6a6a" stroke-width="1.05" stroke-linejoin="round" />
<polyline points="127.2,76.1 125.5,79.0 122.1,79.0 120.4,76.1 122.1,73.2 125.5,73.2 127.2,76.1" fill="#fff" stroke="#6a6a6a" stroke-width="1.05" stroke-linejoin="round" />
<line x1="127.2" y1="76.1" x2="125.5" y2="79.0" stroke="#1e1e1e" stroke-width="1.5" />
<polyline points="132.3,79.0 130.6,82.0 127.2,82.0 125.5,79.0 127.2,76.1 130.6,76.1 132.3,79.0" fill="#fff" stroke="#6a6a6a" stroke-width="1.05" stroke-linejoin="round" />
<polyline points="164.6,82.0 163.3,84.3 160.7,84.3 159.4,82.0 160.7,79.7 163.3,79.7 164.6,82.0" fill="#fff" stroke="#7a7a7a" stroke-width="0.85" stroke-linejoin="round" />
<line x1="163.3" y1="79.7" x2="164.6" y2="82.0" stroke="#1e1e1e" stroke-width="1.5" />
<polyline points="30.1,117.0 28.8,119.3 26.2,119.3 24.9,117.0 26.2,114.7 28.8,114.7 30.1,117.0" fill="#fff" stroke="#7a7a7a" stroke-width="0.85" stroke-linejoin="round" />
<line x1="26.2" y1="114.7" x2="28.8" y2="114.7" stroke="#1e1e1e" stroke-width="1.5" />
<polyline points="69.3,117.0 68.0,119.3 65.4,119.3 64.1,117.0 65.4,114.7 68.0,114.7 69.3,117.0" fill="#fff" stroke="#7a7a7a" stroke-width="0.85" stroke-linejoin="round" />
<line x1="68.0" y1="119.3" x2="65.4" y2="119.3" stroke="#1e1e1e" stroke-width="1.5" />
<polyline points="108.4,117.0 107.1,119.3 104.5,119.3 103.2,117.0 104.5,114.7 107.1,114.7 108.4,117.0" fill="#fff" stroke="#7a7a7a" stroke-width="0.85" stroke-linejoin="round" />
<line x1="107.1" y1="119.3" x2="104.5" y2="119.3" stroke="#1e1e1e" stroke-width="1.5" />
<polyline points="147.6,117.0 146.3,119.3 143.7,119.3 142.4,117.0 143.7,114.7 146.3,114.7 147.6,117.0" fill="#fff" stroke="#7a7a7a" stroke-width="0.85" stroke-linejoin="round" />
<line x1="143.7" y1="119.3" x2="142.4" y2="117.0" stroke="#1e1e1e" stroke-width="1.5" />
</g>
<line x1="176.0" y1="61.5" x2="228.0" y2="61.5" stroke="#000" stroke-width="1.3" />
<polygon points="233.5,61.5 225,57.8 227,61.5 225,65.2" fill="#000"/>
<text x="195.5" y="55.0" font-size="9.2" text-anchor="start" fill="#000" font-weight="normal" stroke="#000" stroke-width="0.35" letter-spacing="-0.2">FeCl<tspan font-size="9.2" dy="4">3</tspan></text>
<text x="80.8" y="137.6" font-size="19.2" text-anchor="start" fill="#3a86cc"  stroke="#3a86cc" stroke-width="0.36">PHN</text>
<text x="263.0" y="137.8" font-size="19.4" text-anchor="start" fill="#3a86cc"  stroke="#3a86cc" stroke-width="0.36">PBN</text>
<defs><radialGradient id="sph" cx="0.42" cy="0.38" r="0.6"><stop offset="0" stop-color="#a2a2a2"/><stop offset="0.6" stop-color="#808080"/><stop offset="1" stop-color="#5e5e5e"/></radialGradient></defs>
<polygon points="270,9.5 376,9.5 380.5,16 331.5,120.5 214,120.5 209.5,113 260,18.5" fill="#666" stroke="#fff" stroke-width="5" stroke-linejoin="round"/>
<circle cx="213.9" cy="114.0" r="2.8" fill="url(#sph)" stroke="#555" stroke-width="0.3"/>
<circle cx="218.3" cy="106.3" r="2.8" fill="url(#sph)" stroke="#555" stroke-width="0.3"/>
<circle cx="218.3" cy="111.4" r="2.8" fill="url(#sph)" stroke="#555" stroke-width="0.3"/>
<circle cx="218.3" cy="116.5" r="2.8" fill="url(#sph)" stroke="#555" stroke-width="0.3"/>
<circle cx="222.8" cy="93.6" r="2.8" fill="url(#sph)" stroke="#555" stroke-width="0.3"/>
<circle cx="222.8" cy="98.7" r="2.8" fill="url(#sph)" stroke="#555" stroke-width="0.3"/>
<circle cx="222.8" cy="103.8" r="2.8" fill="url(#sph)" stroke="#555" stroke-width="0.3"/>
<circle cx="222.8" cy="108.9" r="2.8" fill="url(#sph)" stroke="#555" stroke-width="0.3"/>
<circle cx="222.8" cy="114.0" r="2.8" fill="url(#sph)" stroke="#555" stroke-width="0.3"/>
<circle cx="227.2" cy="85.9" r="2.8" fill="url(#sph)" stroke="#555" stroke-width="0.3"/>
<circle cx="227.2" cy="91.0" r="2.8" fill="url(#sph)" stroke="#555" stroke-width="0.3"/>
<circle cx="227.2" cy="96.1" r="2.8" fill="url(#sph)" stroke="#555" stroke-width="0.3"/>
<circle cx="227.2" cy="101.2" r="2.8" fill="url(#sph)" stroke="#555" stroke-width="0.3"/>
<circle cx="227.2" cy="106.3" r="2.8" fill="url(#sph)" stroke="#555" stroke-width="0.3"/>
<circle cx="227.2" cy="111.4" r="2.8" fill="url(#sph)" stroke="#555" stroke-width="0.3"/>
<circle cx="227.2" cy="116.5" r="2.8" fill="url(#sph)" stroke="#555" stroke-width="0.3"/>
<circle cx="231.7" cy="78.3" r="2.8" fill="url(#sph)" stroke="#555" stroke-width="0.3"/>
<circle cx="231.7" cy="83.4" r="2.8" fill="url(#sph)" stroke="#555" stroke-width="0.3"/>
<circle cx="231.7" cy="88.5" r="2.8" fill="url(#sph)" stroke="#555" stroke-width="0.3"/>
<circle cx="231.7" cy="93.6" r="2.8" fill="url(#sph)" stroke="#555" stroke-width="0.3"/>
<circle cx="231.7" cy="98.7" r="2.8" fill="url(#sph)" stroke="#555" stroke-width="0.3"/>
<circle cx="231.7" cy="103.8" r="2.8" fill="url(#sph)" stroke="#555" stroke-width="0.3"/>
<circle cx="231.7" cy="108.9" r="2.8" fill="url(#sph)" stroke="#555" stroke-width="0.3"/>
<circle cx="231.7" cy="114.0" r="2.8" fill="url(#sph)" stroke="#555" stroke-width="0.3"/>
<circle cx="236.2" cy="70.6" r="2.8" fill="url(#sph)" stroke="#555" stroke-width="0.3"/>
<circle cx="236.2" cy="75.7" r="2.8" fill="url(#sph)" stroke="#555" stroke-width="0.3"/>
<circle cx="236.2" cy="80.8" r="2.8" fill="url(#sph)" stroke="#555" stroke-width="0.3"/>
<circle cx="236.2" cy="85.9" r="2.8" fill="url(#sph)" stroke="#555" stroke-width="0.3"/>
<circle cx="236.2" cy="91.0" r="2.8" fill="url(#sph)" stroke="#555" stroke-width="0.3"/>
<circle cx="236.2" cy="96.1" r="2.8" fill="url(#sph)" stroke="#555" stroke-width="0.3"/>
<circle cx="236.2" cy="101.2" r="2.8" fill="url(#sph)" stroke="#555" stroke-width="0.3"/>
<circle cx="236.2" cy="106.3" r="2.8" fill="url(#sph)" stroke="#555" stroke-width="0.3"/>
<circle cx="236.2" cy="111.4" r="2.8" fill="url(#sph)" stroke="#555" stroke-width="0.3"/>
<circle cx="236.2" cy="116.5" r="2.8" fill="url(#sph)" stroke="#555" stroke-width="0.3"/>
<circle cx="240.6" cy="63.0" r="2.8" fill="url(#sph)" stroke="#555" stroke-width="0.3"/>
<circle cx="240.6" cy="68.1" r="2.8" fill="url(#sph)" stroke="#555" stroke-width="0.3"/>
<circle cx="240.6" cy="73.2" r="2.8" fill="url(#sph)" stroke="#555" stroke-width="0.3"/>
<circle cx="240.6" cy="78.3" r="2.8" fill="url(#sph)" stroke="#555" stroke-width="0.3"/>
<circle cx="240.6" cy="83.4" r="2.8" fill="url(#sph)" stroke="#555" stroke-width="0.3"/>
<circle cx="240.6" cy="88.5" r="2.8" fill="url(#sph)" stroke="#555" stroke-width="0.3"/>
<circle cx="240.6" cy="93.6" r="2.8" fill="url(#sph)" stroke="#555" stroke-width="0.3"/>
<circle cx="240.6" cy="98.7" r="2.8" fill="url(#sph)" stroke="#555" stroke-width="0.3"/>
<circle cx="240.6" cy="103.8" r="2.8" fill="url(#sph)" stroke="#555" stroke-width="0.3"/>
<circle cx="240.6" cy="108.9" r="2.8" fill="url(#sph)" stroke="#555" stroke-width="0.3"/>
<circle cx="240.6" cy="114.0" r="2.8" fill="url(#sph)" stroke="#555" stroke-width="0.3"/>
<circle cx="245.1" cy="55.3" r="2.8" fill="url(#sph)" stroke="#555" stroke-width="0.3"/>
<circle cx="245.1" cy="60.4" r="2.8" fill="url(#sph)" stroke="#555" stroke-width="0.3"/>
<circle cx="245.1" cy="65.5" r="2.8" fill="url(#sph)" stroke="#555" stroke-width="0.3"/>
<circle cx="245.1" cy="70.6" r="2.8" fill="url(#sph)" stroke="#555" stroke-width="0.3"/>
<circle cx="245.1" cy="75.7" r="2.8" fill="url(#sph)" stroke="#555" stroke-width="0.3"/>
<circle cx="245.1" cy="80.8" r="2.8" fill="url(#sph)" stroke="#555" stroke-width="0.3"/>
<circle cx="245.1" cy="85.9" r="2.8" fill="url(#sph)" stroke="#555" stroke-width="0.3"/>
<circle cx="245.1" cy="91.0" r="2.8" fill="url(#sph)" stroke="#555" stroke-width="0.3"/>
<circle cx="245.1" cy="96.1" r="2.8" fill="url(#sph)" stroke="#555" stroke-width="0.3"/>
<circle cx="245.1" cy="101.2" r="2.8" fill="url(#sph)" stroke="#555" stroke-width="0.3"/>
<circle cx="245.1" cy="106.3" r="2.8" fill="url(#sph)" stroke="#555" stroke-width="0.3"/>
<circle cx="245.1" cy="111.4" r="2.8" fill="url(#sph)" stroke="#555" stroke-width="0.3"/>
<circle cx="245.1" cy="116.5" r="2.8" fill="url(#sph)" stroke="#555" stroke-width="0.3"/>
<circle cx="249.5" cy="47.7" r="2.8" fill="url(#sph)" stroke="#555" stroke-width="0.3"/>
<circle cx="249.5" cy="52.8" r="2.8" fill="url(#sph)" stroke="#555" stroke-width="0.3"/>
<circle cx="249.5" cy="57.9" r="2.8" fill="url(#sph)" stroke="#555" stroke-width="0.3"/>
<circle cx="249.5" cy="63.0" r="2.8" fill="url(#sph)" stroke="#555" stroke-width="0.3"/>
<circle cx="249.5" cy="68.1" r="2.8" fill="url(#sph)" stroke="#555" stroke-width="0.3"/>
<circle cx="249.5" cy="73.2" r="2.8" fill="url(#sph)" stroke="#555" stroke-width="0.3"/>
<circle cx="249.5" cy="78.3" r="2.8" fill="url(#sph)" stroke="#555" stroke-width="0.3"/>
<circle cx="249.5" cy="83.4" r="2.8" fill="url(#sph)" stroke="#555" stroke-width="0.3"/>
<circle cx="249.5" cy="88.5" r="2.8" fill="url(#sph)" stroke="#555" stroke-width="0.3"/>
<circle cx="249.5" cy="93.6" r="2.8" fill="url(#sph)" stroke="#555" stroke-width="0.3"/>
<circle cx="249.5" cy="98.7" r="2.8" fill="url(#sph)" stroke="#555" stroke-width="0.3"/>
<circle cx="249.5" cy="103.8" r="2.8" fill="url(#sph)" stroke="#555" stroke-width="0.3"/>
<circle cx="249.5" cy="108.9" r="2.8" fill="url(#sph)" stroke="#555" stroke-width="0.3"/>
<circle cx="249.5" cy="114.0" r="2.8" fill="url(#sph)" stroke="#555" stroke-width="0.3"/>
<circle cx="253.9" cy="34.9" r="2.8" fill="url(#sph)" stroke="#555" stroke-width="0.3"/>
<circle cx="253.9" cy="40.0" r="2.8" fill="url(#sph)" stroke="#555" stroke-width="0.3"/>
<circle cx="253.9" cy="45.1" r="2.8" fill="url(#sph)" stroke="#555" stroke-width="0.3"/>
<circle cx="253.9" cy="50.2" r="2.8" fill="url(#sph)" stroke="#555" stroke-width="0.3"/>
<circle cx="253.9" cy="55.3" r="2.8" fill="url(#sph)" stroke="#555" stroke-width="0.3"/>
<circle cx="253.9" cy="60.4" r="2.8" fill="url(#sph)" stroke="#555" stroke-width="0.3"/>
<circle cx="253.9" cy="65.5" r="2.8" fill="url(#sph)" stroke="#555" stroke-width="0.3"/>
<circle cx="253.9" cy="70.6" r="2.8" fill="url(#sph)" stroke="#555" stroke-width="0.3"/>
<circle cx="253.9" cy="75.7" r="2.8" fill="url(#sph)" stroke="#555" stroke-width="0.3"/>
<circle cx="253.9" cy="80.8" r="2.8" fill="url(#sph)" stroke="#555" stroke-width="0.3"/>
<circle cx="253.9" cy="85.9" r="2.8" fill="url(#sph)" stroke="#555" stroke-width="0.3"/>
<circle cx="253.9" cy="91.0" r="2.8" fill="url(#sph)" stroke="#555" stroke-width="0.3"/>
<circle cx="253.9" cy="96.1" r="2.8" fill="url(#sph)" stroke="#555" stroke-width="0.3"/>
<circle cx="253.9" cy="101.2" r="2.8" fill="url(#sph)" stroke="#555" stroke-width="0.3"/>
<circle cx="253.9" cy="106.3" r="2.8" fill="url(#sph)" stroke="#555" stroke-width="0.3"/>
<circle cx="253.9" cy="111.4" r="2.8" fill="url(#sph)" stroke="#555" stroke-width="0.3"/>
<circle cx="253.9" cy="116.5" r="2.8" fill="url(#sph)" stroke="#555" stroke-width="0.3"/>
<circle cx="258.4" cy="27.3" r="2.8" fill="url(#sph)" stroke="#555" stroke-width="0.3"/>
<circle cx="258.4" cy="32.4" r="2.8" fill="url(#sph)" stroke="#555" stroke-width="0.3"/>
<circle cx="258.4" cy="37.5" r="2.8" fill="url(#sph)" stroke="#555" stroke-width="0.3"/>
<circle cx="258.4" cy="42.6" r="2.8" fill="url(#sph)" stroke="#555" stroke-width="0.3"/>
<circle cx="258.4" cy="47.7" r="2.8" fill="url(#sph)" stroke="#555" stroke-width="0.3"/>
<circle cx="258.4" cy="52.8" r="2.8" fill="url(#sph)" stroke="#555" stroke-width="0.3"/>
<circle cx="258.4" cy="57.9" r="2.8" fill="url(#sph)" stroke="#555" stroke-width="0.3"/>
<circle cx="258.4" cy="63.0" r="2.8" fill="url(#sph)" stroke="#555" stroke-width="0.3"/>
<circle cx="258.4" cy="68.1" r="2.8" fill="url(#sph)" stroke="#555" stroke-width="0.3"/>
<circle cx="258.4" cy="73.2" r="2.8" fill="url(#sph)" stroke="#555" stroke-width="0.3"/>
<circle cx="258.4" cy="78.3" r="2.8" fill="url(#sph)" stroke="#555" stroke-width="0.3"/>
<circle cx="258.4" cy="83.4" r="2.8" fill="url(#sph)" stroke="#555" stroke-width="0.3"/>
<circle cx="258.4" cy="88.5" r="2.8" fill="url(#sph)" stroke="#555" stroke-width="0.3"/>
<circle cx="258.4" cy="93.6" r="2.8" fill="url(#sph)" stroke="#555" stroke-width="0.3"/>
<circle cx="258.4" cy="98.7" r="2.8" fill="url(#sph)" stroke="#555" stroke-width="0.3"/>
<circle cx="258.4" cy="103.8" r="2.8" fill="url(#sph)" stroke="#555" stroke-width="0.3"/>
<circle cx="258.4" cy="108.9" r="2.8" fill="url(#sph)" stroke="#555" stroke-width="0.3"/>
<circle cx="258.4" cy="114.0" r="2.8" fill="url(#sph)" stroke="#555" stroke-width="0.3"/>
<circle cx="262.9" cy="19.7" r="2.8" fill="url(#sph)" stroke="#555" stroke-width="0.3"/>
<circle cx="262.9" cy="24.8" r="2.8" fill="url(#sph)" stroke="#555" stroke-width="0.3"/>
<circle cx="262.9" cy="29.8" r="2.8" fill="url(#sph)" stroke="#555" stroke-width="0.3"/>
<circle cx="262.9" cy="34.9" r="2.8" fill="url(#sph)" stroke="#555" stroke-width="0.3"/>
<circle cx="262.9" cy="40.0" r="2.8" fill="url(#sph)" stroke="#555" stroke-width="0.3"/>
<circle cx="262.9" cy="45.1" r="2.8" fill="url(#sph)" stroke="#555" stroke-width="0.3"/>
<circle cx="262.9" cy="50.2" r="2.8" fill="url(#sph)" stroke="#555" stroke-width="0.3"/>
<circle cx="262.9" cy="55.3" r="2.8" fill="url(#sph)" stroke="#555" stroke-width="0.3"/>
<circle cx="262.9" cy="60.4" r="2.8" fill="url(#sph)" stroke="#555" stroke-width="0.3"/>
<circle cx="262.9" cy="65.5" r="2.8" fill="url(#sph)" stroke="#555" stroke-width="0.3"/>
<circle cx="262.9" cy="70.6" r="2.8" fill="url(#sph)" stroke="#555" stroke-width="0.3"/>
<circle cx="262.9" cy="75.7" r="2.8" fill="url(#sph)" stroke="#555" stroke-width="0.3"/>
<circle cx="262.9" cy="80.8" r="2.8" fill="url(#sph)" stroke="#555" stroke-width="0.3"/>
<circle cx="262.9" cy="85.9" r="2.8" fill="url(#sph)" stroke="#555" stroke-width="0.3"/>
<circle cx="262.9" cy="91.0" r="2.8" fill="url(#sph)" stroke="#555" stroke-width="0.3"/>
<circle cx="262.9" cy="96.1" r="2.8" fill="url(#sph)" stroke="#555" stroke-width="0.3"/>
<circle cx="262.9" cy="101.2" r="2.8" fill="url(#sph)" stroke="#555" stroke-width="0.3"/>
<circle cx="262.9" cy="106.3" r="2.8" fill="url(#sph)" stroke="#555" stroke-width="0.3"/>
<circle cx="262.9" cy="111.4" r="2.8" fill="url(#sph)" stroke="#555" stroke-width="0.3"/>
<circle cx="262.9" cy="116.5" r="2.8" fill="url(#sph)" stroke="#555" stroke-width="0.3"/>
<circle cx="267.3" cy="17.1" r="2.8" fill="url(#sph)" stroke="#555" stroke-width="0.3"/>
<circle cx="267.3" cy="22.2" r="2.8" fill="url(#sph)" stroke="#555" stroke-width="0.3"/>
<circle cx="267.3" cy="27.3" r="2.8" fill="url(#sph)" stroke="#555" stroke-width="0.3"/>
<circle cx="267.3" cy="32.4" r="2.8" fill="url(#sph)" stroke="#555" stroke-width="0.3"/>
<circle cx="267.3" cy="37.5" r="2.8" fill="url(#sph)" stroke="#555" stroke-width="0.3"/>
<circle cx="267.3" cy="42.6" r="2.8" fill="url(#sph)" stroke="#555" stroke-width="0.3"/>
<circle cx="267.3" cy="47.7" r="2.8" fill="url(#sph)" stroke="#555" stroke-width="0.3"/>
<circle cx="267.3" cy="52.8" r="2.8" fill="url(#sph)" stroke="#555" stroke-width="0.3"/>
<circle cx="267.3" cy="57.9" r="2.8" fill="url(#sph)" stroke="#555" stroke-width="0.3"/>
<circle cx="267.3" cy="63.0" r="2.8" fill="url(#sph)" stroke="#555" stroke-width="0.3"/>
<circle cx="267.3" cy="68.1" r="2.8" fill="url(#sph)" stroke="#555" stroke-width="0.3"/>
<circle cx="267.3" cy="73.2" r="2.8" fill="url(#sph)" stroke="#555" stroke-width="0.3"/>
<circle cx="267.3" cy="78.3" r="2.8" fill="url(#sph)" stroke="#555" stroke-width="0.3"/>
<circle cx="267.3" cy="83.4" r="2.8" fill="url(#sph)" stroke="#555" stroke-width="0.3"/>
<circle cx="267.3" cy="88.5" r="2.8" fill="url(#sph)" stroke="#555" stroke-width="0.3"/>
<circle cx="267.3" cy="93.6" r="2.8" fill="url(#sph)" stroke="#555" stroke-width="0.3"/>
<circle cx="267.3" cy="98.7" r="2.8" fill="url(#sph)" stroke="#555" stroke-width="0.3"/>
<circle cx="267.3" cy="103.8" r="2.8" fill="url(#sph)" stroke="#555" stroke-width="0.3"/>
<circle cx="267.3" cy="108.9" r="2.8" fill="url(#sph)" stroke="#555" stroke-width="0.3"/>
<circle cx="267.3" cy="114.0" r="2.8" fill="url(#sph)" stroke="#555" stroke-width="0.3"/>
<circle cx="271.8" cy="14.6" r="2.8" fill="url(#sph)" stroke="#555" stroke-width="0.3"/>
<circle cx="271.8" cy="19.7" r="2.8" fill="url(#sph)" stroke="#555" stroke-width="0.3"/>
<circle cx="271.8" cy="24.8" r="2.8" fill="url(#sph)" stroke="#555" stroke-width="0.3"/>
<circle cx="271.8" cy="29.8" r="2.8" fill="url(#sph)" stroke="#555" stroke-width="0.3"/>
<circle cx="271.8" cy="34.9" r="2.8" fill="url(#sph)" stroke="#555" stroke-width="0.3"/>
<circle cx="271.8" cy="40.0" r="2.8" fill="url(#sph)" stroke="#555" stroke-width="0.3"/>
<circle cx="271.8" cy="45.1" r="2.8" fill="url(#sph)" stroke="#555" stroke-width="0.3"/>
<circle cx="271.8" cy="50.2" r="2.8" fill="url(#sph)" stroke="#555" stroke-width="0.3"/>
<circle cx="271.8" cy="55.3" r="2.8" fill="url(#sph)" stroke="#555" stroke-width="0.3"/>
<circle cx="271.8" cy="60.4" r="2.8" fill="url(#sph)" stroke="#555" stroke-width="0.3"/>
<circle cx="271.8" cy="65.5" r="2.8" fill="url(#sph)" stroke="#555" stroke-width="0.3"/>
<circle cx="271.8" cy="70.6" r="2.8" fill="url(#sph)" stroke="#555" stroke-width="0.3"/>
<circle cx="271.8" cy="75.7" r="2.8" fill="url(#sph)" stroke="#555" stroke-width="0.3"/>
<circle cx="271.8" cy="80.8" r="2.8" fill="url(#sph)" stroke="#555" stroke-width="0.3"/>
<circle cx="271.8" cy="85.9" r="2.8" fill="url(#sph)" stroke="#555" stroke-width="0.3"/>
<circle cx="271.8" cy="91.0" r="2.8" fill="url(#sph)" stroke="#555" stroke-width="0.3"/>
<circle cx="271.8" cy="96.1" r="2.8" fill="url(#sph)" stroke="#555" stroke-width="0.3"/>
<circle cx="271.8" cy="101.2" r="2.8" fill="url(#sph)" stroke="#555" stroke-width="0.3"/>
<circle cx="271.8" cy="106.3" r="2.8" fill="url(#sph)" stroke="#555" stroke-width="0.3"/>
<circle cx="271.8" cy="111.4" r="2.8" fill="url(#sph)" stroke="#555" stroke-width="0.3"/>
<circle cx="271.8" cy="116.5" r="2.8" fill="url(#sph)" stroke="#555" stroke-width="0.3"/>
<circle cx="276.2" cy="12.0" r="2.8" fill="url(#sph)" stroke="#555" stroke-width="0.3"/>
<circle cx="276.2" cy="17.1" r="2.8" fill="url(#sph)" stroke="#555" stroke-width="0.3"/>
<circle cx="276.2" cy="22.2" r="2.8" fill="url(#sph)" stroke="#555" stroke-width="0.3"/>
<circle cx="276.2" cy="27.3" r="2.8" fill="url(#sph)" stroke="#555" stroke-width="0.3"/>
<circle cx="276.2" cy="32.4" r="2.8" fill="url(#sph)" stroke="#555" stroke-width="0.3"/>
<circle cx="276.2" cy="37.5" r="2.8" fill="url(#sph)" stroke="#555" stroke-width="0.3"/>
<circle cx="276.2" cy="42.6" r="2.8" fill="url(#sph)" stroke="#555" stroke-width="0.3"/>
<circle cx="276.2" cy="47.7" r="2.8" fill="url(#sph)" stroke="#555" stroke-width="0.3"/>
<circle cx="276.2" cy="52.8" r="2.8" fill="url(#sph)" stroke="#555" stroke-width="0.3"/>
<circle cx="276.2" cy="57.9" r="2.8" fill="url(#sph)" stroke="#555" stroke-width="0.3"/>
<circle cx="276.2" cy="63.0" r="2.8" fill="url(#sph)" stroke="#555" stroke-width="0.3"/>
<circle cx="276.2" cy="68.1" r="2.8" fill="url(#sph)" stroke="#555" stroke-width="0.3"/>
<circle cx="276.2" cy="73.2" r="2.8" fill="url(#sph)" stroke="#555" stroke-width="0.3"/>
<circle cx="276.2" cy="78.3" r="2.8" fill="url(#sph)" stroke="#555" stroke-width="0.3"/>
<circle cx="276.2" cy="83.4" r="2.8" fill="url(#sph)" stroke="#555" stroke-width="0.3"/>
<circle cx="276.2" cy="88.5" r="2.8" fill="url(#sph)" stroke="#555" stroke-width="0.3"/>
<circle cx="276.2" cy="93.6" r="2.8" fill="url(#sph)" stroke="#555" stroke-width="0.3"/>
<circle cx="276.2" cy="98.7" r="2.8" fill="url(#sph)" stroke="#555" stroke-width="0.3"/>
<circle cx="276.2" cy="103.8" r="2.8" fill="url(#sph)" stroke="#555" stroke-width="0.3"/>
<circle cx="276.2" cy="108.9" r="2.8" fill="url(#sph)" stroke="#555" stroke-width="0.3"/>
<circle cx="276.2" cy="114.0" r="2.8" fill="url(#sph)" stroke="#555" stroke-width="0.3"/>
<circle cx="280.6" cy="14.6" r="2.8" fill="url(#sph)" stroke="#555" stroke-width="0.3"/>
<circle cx="280.6" cy="19.7" r="2.8" fill="url(#sph)" stroke="#555" stroke-width="0.3"/>
<circle cx="280.6" cy="24.8" r="2.8" fill="url(#sph)" stroke="#555" stroke-width="0.3"/>
<circle cx="280.6" cy="29.8" r="2.8" fill="url(#sph)" stroke="#555" stroke-width="0.3"/>
<circle cx="280.6" cy="34.9" r="2.8" fill="url(#sph)" stroke="#555" stroke-width="0.3"/>
<circle cx="280.6" cy="40.0" r="2.8" fill="url(#sph)" stroke="#555" stroke-width="0.3"/>
<circle cx="280.6" cy="45.1" r="2.8" fill="url(#sph)" stroke="#555" stroke-width="0.3"/>
<circle cx="280.6" cy="50.2" r="2.8" fill="url(#sph)" stroke="#555" stroke-width="0.3"/>
<circle cx="280.6" cy="55.3" r="2.8" fill="url(#sph)" stroke="#555" stroke-width="0.3"/>
<circle cx="280.6" cy="60.4" r="2.8" fill="url(#sph)" stroke="#555" stroke-width="0.3"/>
<circle cx="280.6" cy="65.5" r="2.8" fill="url(#sph)" stroke="#555" stroke-width="0.3"/>
<circle cx="280.6" cy="70.6" r="2.8" fill="url(#sph)" stroke="#555" stroke-width="0.3"/>
<circle cx="280.6" cy="75.7" r="2.8" fill="url(#sph)" stroke="#555" stroke-width="0.3"/>
<circle cx="280.6" cy="80.8" r="2.8" fill="url(#sph)" stroke="#555" stroke-width="0.3"/>
<circle cx="280.6" cy="85.9" r="2.8" fill="url(#sph)" stroke="#555" stroke-width="0.3"/>
<circle cx="280.6" cy="91.0" r="2.8" fill="url(#sph)" stroke="#555" stroke-width="0.3"/>
<circle cx="280.6" cy="96.1" r="2.8" fill="url(#sph)" stroke="#555" stroke-width="0.3"/>
<circle cx="280.6" cy="101.2" r="2.8" fill="url(#sph)" stroke="#555" stroke-width="0.3"/>
<circle cx="280.6" cy="106.3" r="2.8" fill="url(#sph)" stroke="#555" stroke-width="0.3"/>
<circle cx="280.6" cy="111.4" r="2.8" fill="url(#sph)" stroke="#555" stroke-width="0.3"/>
<circle cx="280.6" cy="116.5" r="2.8" fill="url(#sph)" stroke="#555" stroke-width="0.3"/>
<circle cx="285.1" cy="12.0" r="2.8" fill="url(#sph)" stroke="#555" stroke-width="0.3"/>
<circle cx="285.1" cy="17.1" r="2.8" fill="url(#sph)" stroke="#555" stroke-width="0.3"/>
<circle cx="285.1" cy="22.2" r="2.8" fill="url(#sph)" stroke="#555" stroke-width="0.3"/>
<circle cx="285.1" cy="27.3" r="2.8" fill="url(#sph)" stroke="#555" stroke-width="0.3"/>
<circle cx="285.1" cy="32.4" r="2.8" fill="url(#sph)" stroke="#555" stroke-width="0.3"/>
<circle cx="285.1" cy="37.5" r="2.8" fill="url(#sph)" stroke="#555" stroke-width="0.3"/>
<circle cx="285.1" cy="42.6" r="2.8" fill="url(#sph)" stroke="#555" stroke-width="0.3"/>
<circle cx="285.1" cy="47.7" r="2.8" fill="url(#sph)" stroke="#555" stroke-width="0.3"/>
<circle cx="285.1" cy="52.8" r="2.8" fill="url(#sph)" stroke="#555" stroke-width="0.3"/>
<circle cx="285.1" cy="57.9" r="2.8" fill="url(#sph)" stroke="#555" stroke-width="0.3"/>
<circle cx="285.1" cy="63.0" r="2.8" fill="url(#sph)" stroke="#555" stroke-width="0.3"/>
<circle cx="285.1" cy="68.1" r="2.8" fill="url(#sph)" stroke="#555" stroke-width="0.3"/>
<circle cx="285.1" cy="73.2" r="2.8" fill="url(#sph)" stroke="#555" stroke-width="0.3"/>
<circle cx="285.1" cy="78.3" r="2.8" fill="url(#sph)" stroke="#555" stroke-width="0.3"/>
<circle cx="285.1" cy="83.4" r="2.8" fill="url(#sph)" stroke="#555" stroke-width="0.3"/>
<circle cx="285.1" cy="88.5" r="2.8" fill="url(#sph)" stroke="#555" stroke-width="0.3"/>
<circle cx="285.1" cy="93.6" r="2.8" fill="url(#sph)" stroke="#555" stroke-width="0.3"/>
<circle cx="285.1" cy="98.7" r="2.8" fill="url(#sph)" stroke="#555" stroke-width="0.3"/>
<circle cx="285.1" cy="103.8" r="2.8" fill="url(#sph)" stroke="#555" stroke-width="0.3"/>
<circle cx="285.1" cy="108.9" r="2.8" fill="url(#sph)" stroke="#555" stroke-width="0.3"/>
<circle cx="285.1" cy="114.0" r="2.8" fill="url(#sph)" stroke="#555" stroke-width="0.3"/>
<circle cx="289.6" cy="14.6" r="2.8" fill="url(#sph)" stroke="#555" stroke-width="0.3"/>
<circle cx="289.6" cy="19.7" r="2.8" fill="url(#sph)" stroke="#555" stroke-width="0.3"/>
<circle cx="289.6" cy="24.8" r="2.8" fill="url(#sph)" stroke="#555" stroke-width="0.3"/>
<circle cx="289.6" cy="29.8" r="2.8" fill="url(#sph)" stroke="#555" stroke-width="0.3"/>
<circle cx="289.6" cy="34.9" r="2.8" fill="url(#sph)" stroke="#555" stroke-width="0.3"/>
<circle cx="289.6" cy="40.0" r="2.8" fill="url(#sph)" stroke="#555" stroke-width="0.3"/>
<circle cx="289.6" cy="45.1" r="2.8" fill="url(#sph)" stroke="#555" stroke-width="0.3"/>
<circle cx="289.6" cy="50.2" r="2.8" fill="url(#sph)" stroke="#555" stroke-width="0.3"/>
<circle cx="289.6" cy="55.3" r="2.8" fill="url(#sph)" stroke="#555" stroke-width="0.3"/>
<circle cx="289.6" cy="60.4" r="2.8" fill="url(#sph)" stroke="#555" stroke-width="0.3"/>
<circle cx="289.6" cy="65.5" r="2.8" fill="url(#sph)" stroke="#555" stroke-width="0.3"/>
<circle cx="289.6" cy="70.6" r="2.8" fill="url(#sph)" stroke="#555" stroke-width="0.3"/>
<circle cx="289.6" cy="75.7" r="2.8" fill="url(#sph)" stroke="#555" stroke-width="0.3"/>
<circle cx="289.6" cy="80.8" r="2.8" fill="url(#sph)" stroke="#555" stroke-width="0.3"/>
<circle cx="289.6" cy="85.9" r="2.8" fill="url(#sph)" stroke="#555" stroke-width="0.3"/>
<circle cx="289.6" cy="91.0" r="2.8" fill="url(#sph)" stroke="#555" stroke-width="0.3"/>
<circle cx="289.6" cy="96.1" r="2.8" fill="url(#sph)" stroke="#555" stroke-width="0.3"/>
<circle cx="289.6" cy="101.2" r="2.8" fill="url(#sph)" stroke="#555" stroke-width="0.3"/>
<circle cx="289.6" cy="106.3" r="2.8" fill="url(#sph)" stroke="#555" stroke-width="0.3"/>
<circle cx="289.6" cy="111.4" r="2.8" fill="url(#sph)" stroke="#555" stroke-width="0.3"/>
<circle cx="289.6" cy="116.5" r="2.8" fill="url(#sph)" stroke="#555" stroke-width="0.3"/>
<circle cx="294.0" cy="12.0" r="2.8" fill="url(#sph)" stroke="#555" stroke-width="0.3"/>
<circle cx="294.0" cy="17.1" r="2.8" fill="url(#sph)" stroke="#555" stroke-width="0.3"/>
<circle cx="294.0" cy="22.2" r="2.8" fill="url(#sph)" stroke="#555" stroke-width="0.3"/>
<circle cx="294.0" cy="27.3" r="2.8" fill="url(#sph)" stroke="#555" stroke-width="0.3"/>
<circle cx="294.0" cy="32.4" r="2.8" fill="url(#sph)" stroke="#555" stroke-width="0.3"/>
<circle cx="294.0" cy="37.5" r="2.8" fill="url(#sph)" stroke="#555" stroke-width="0.3"/>
<circle cx="294.0" cy="42.6" r="2.8" fill="url(#sph)" stroke="#555" stroke-width="0.3"/>
<circle cx="294.0" cy="47.7" r="2.8" fill="url(#sph)" stroke="#555" stroke-width="0.3"/>
<circle cx="294.0" cy="52.8" r="2.8" fill="url(#sph)" stroke="#555" stroke-width="0.3"/>
<circle cx="294.0" cy="57.9" r="2.8" fill="url(#sph)" stroke="#555" stroke-width="0.3"/>
<circle cx="294.0" cy="63.0" r="2.8" fill="url(#sph)" stroke="#555" stroke-width="0.3"/>
<circle cx="294.0" cy="68.1" r="2.8" fill="url(#sph)" stroke="#555" stroke-width="0.3"/>
<circle cx="294.0" cy="73.2" r="2.8" fill="url(#sph)" stroke="#555" stroke-width="0.3"/>
<circle cx="294.0" cy="78.3" r="2.8" fill="url(#sph)" stroke="#555" stroke-width="0.3"/>
<circle cx="294.0" cy="83.4" r="2.8" fill="url(#sph)" stroke="#555" stroke-width="0.3"/>
<circle cx="294.0" cy="88.5" r="2.8" fill="url(#sph)" stroke="#555" stroke-width="0.3"/>
<circle cx="294.0" cy="93.6" r="2.8" fill="url(#sph)" stroke="#555" stroke-width="0.3"/>
<circle cx="294.0" cy="98.7" r="2.8" fill="url(#sph)" stroke="#555" stroke-width="0.3"/>
<circle cx="294.0" cy="103.8" r="2.8" fill="url(#sph)" stroke="#555" stroke-width="0.3"/>
<circle cx="294.0" cy="108.9" r="2.8" fill="url(#sph)" stroke="#555" stroke-width="0.3"/>
<circle cx="294.0" cy="114.0" r="2.8" fill="url(#sph)" stroke="#555" stroke-width="0.3"/>
<circle cx="298.4" cy="14.6" r="2.8" fill="url(#sph)" stroke="#555" stroke-width="0.3"/>
<circle cx="298.4" cy="19.7" r="2.8" fill="url(#sph)" stroke="#555" stroke-width="0.3"/>
<circle cx="298.4" cy="24.8" r="2.8" fill="url(#sph)" stroke="#555" stroke-width="0.3"/>
<circle cx="298.4" cy="29.8" r="2.8" fill="url(#sph)" stroke="#555" stroke-width="0.3"/>
<circle cx="298.4" cy="34.9" r="2.8" fill="url(#sph)" stroke="#555" stroke-width="0.3"/>
<circle cx="298.4" cy="40.0" r="2.8" fill="url(#sph)" stroke="#555" stroke-width="0.3"/>
<circle cx="298.4" cy="45.1" r="2.8" fill="url(#sph)" stroke="#555" stroke-width="0.3"/>
<circle cx="298.4" cy="50.2" r="2.8" fill="url(#sph)" stroke="#555" stroke-width="0.3"/>
<circle cx="298.4" cy="55.3" r="2.8" fill="url(#sph)" stroke="#555" stroke-width="0.3"/>
<circle cx="298.4" cy="60.4" r="2.8" fill="url(#sph)" stroke="#555" stroke-width="0.3"/>
<circle cx="298.4" cy="65.5" r="2.8" fill="url(#sph)" stroke="#555" stroke-width="0.3"/>
<circle cx="298.4" cy="70.6" r="2.8" fill="url(#sph)" stroke="#555" stroke-width="0.3"/>
<circle cx="298.4" cy="75.7" r="2.8" fill="url(#sph)" stroke="#555" stroke-width="0.3"/>
<circle cx="298.4" cy="80.8" r="2.8" fill="url(#sph)" stroke="#555" stroke-width="0.3"/>
<circle cx="298.4" cy="85.9" r="2.8" fill="url(#sph)" stroke="#555" stroke-width="0.3"/>
<circle cx="298.4" cy="91.0" r="2.8" fill="url(#sph)" stroke="#555" stroke-width="0.3"/>
<circle cx="298.4" cy="96.1" r="2.8" fill="url(#sph)" stroke="#555" stroke-width="0.3"/>
<circle cx="298.4" cy="101.2" r="2.8" fill="url(#sph)" stroke="#555" stroke-width="0.3"/>
<circle cx="298.4" cy="106.3" r="2.8" fill="url(#sph)" stroke="#555" stroke-width="0.3"/>
<circle cx="298.4" cy="111.4" r="2.8" fill="url(#sph)" stroke="#555" stroke-width="0.3"/>
<circle cx="298.4" cy="116.5" r="2.8" fill="url(#sph)" stroke="#555" stroke-width="0.3"/>
<circle cx="302.9" cy="12.0" r="2.8" fill="url(#sph)" stroke="#555" stroke-width="0.3"/>
<circle cx="302.9" cy="17.1" r="2.8" fill="url(#sph)" stroke="#555" stroke-width="0.3"/>
<circle cx="302.9" cy="22.2" r="2.8" fill="url(#sph)" stroke="#555" stroke-width="0.3"/>
<circle cx="302.9" cy="27.3" r="2.8" fill="url(#sph)" stroke="#555" stroke-width="0.3"/>
<circle cx="302.9" cy="32.4" r="2.8" fill="url(#sph)" stroke="#555" stroke-width="0.3"/>
<circle cx="302.9" cy="37.5" r="2.8" fill="url(#sph)" stroke="#555" stroke-width="0.3"/>
<circle cx="302.9" cy="42.6" r="2.8" fill="url(#sph)" stroke="#555" stroke-width="0.3"/>
<circle cx="302.9" cy="47.7" r="2.8" fill="url(#sph)" stroke="#555" stroke-width="0.3"/>
<circle cx="302.9" cy="52.8" r="2.8" fill="url(#sph)" stroke="#555" stroke-width="0.3"/>
<circle cx="302.9" cy="57.9" r="2.8" fill="url(#sph)" stroke="#555" stroke-width="0.3"/>
<circle cx="302.9" cy="63.0" r="2.8" fill="url(#sph)" stroke="#555" stroke-width="0.3"/>
<circle cx="302.9" cy="68.1" r="2.8" fill="url(#sph)" stroke="#555" stroke-width="0.3"/>
<circle cx="302.9" cy="73.2" r="2.8" fill="url(#sph)" stroke="#555" stroke-width="0.3"/>
<circle cx="302.9" cy="78.3" r="2.8" fill="url(#sph)" stroke="#555" stroke-width="0.3"/>
<circle cx="302.9" cy="83.4" r="2.8" fill="url(#sph)" stroke="#555" stroke-width="0.3"/>
<circle cx="302.9" cy="88.5" r="2.8" fill="url(#sph)" stroke="#555" stroke-width="0.3"/>
<circle cx="302.9" cy="93.6" r="2.8" fill="url(#sph)" stroke="#555" stroke-width="0.3"/>
<circle cx="302.9" cy="98.7" r="2.8" fill="url(#sph)" stroke="#555" stroke-width="0.3"/>
<circle cx="302.9" cy="103.8" r="2.8" fill="url(#sph)" stroke="#555" stroke-width="0.3"/>
<circle cx="302.9" cy="108.9" r="2.8" fill="url(#sph)" stroke="#555" stroke-width="0.3"/>
<circle cx="302.9" cy="114.0" r="2.8" fill="url(#sph)" stroke="#555" stroke-width="0.3"/>
<circle cx="307.4" cy="14.6" r="2.8" fill="url(#sph)" stroke="#555" stroke-width="0.3"/>
<circle cx="307.4" cy="19.7" r="2.8" fill="url(#sph)" stroke="#555" stroke-width="0.3"/>
<circle cx="307.4" cy="24.8" r="2.8" fill="url(#sph)" stroke="#555" stroke-width="0.3"/>
<circle cx="307.4" cy="29.8" r="2.8" fill="url(#sph)" stroke="#555" stroke-width="0.3"/>
<circle cx="307.4" cy="34.9" r="2.8" fill="url(#sph)" stroke="#555" stroke-width="0.3"/>
<circle cx="307.4" cy="40.0" r="2.8" fill="url(#sph)" stroke="#555" stroke-width="0.3"/>
<circle cx="307.4" cy="45.1" r="2.8" fill="url(#sph)" stroke="#555" stroke-width="0.3"/>
<circle cx="307.4" cy="50.2" r="2.8" fill="url(#sph)" stroke="#555" stroke-width="0.3"/>
<circle cx="307.4" cy="55.3" r="2.8" fill="url(#sph)" stroke="#555" stroke-width="0.3"/>
<circle cx="307.4" cy="60.4" r="2.8" fill="url(#sph)" stroke="#555" stroke-width="0.3"/>
<circle cx="307.4" cy="65.5" r="2.8" fill="url(#sph)" stroke="#555" stroke-width="0.3"/>
<circle cx="307.4" cy="70.6" r="2.8" fill="url(#sph)" stroke="#555" stroke-width="0.3"/>
<circle cx="307.4" cy="75.7" r="2.8" fill="url(#sph)" stroke="#555" stroke-width="0.3"/>
<circle cx="307.4" cy="80.8" r="2.8" fill="url(#sph)" stroke="#555" stroke-width="0.3"/>
<circle cx="307.4" cy="85.9" r="2.8" fill="url(#sph)" stroke="#555" stroke-width="0.3"/>
<circle cx="307.4" cy="91.0" r="2.8" fill="url(#sph)" stroke="#555" stroke-width="0.3"/>
<circle cx="307.4" cy="96.1" r="2.8" fill="url(#sph)" stroke="#555" stroke-width="0.3"/>
<circle cx="307.4" cy="101.2" r="2.8" fill="url(#sph)" stroke="#555" stroke-width="0.3"/>
<circle cx="307.4" cy="106.3" r="2.8" fill="url(#sph)" stroke="#555" stroke-width="0.3"/>
<circle cx="307.4" cy="111.4" r="2.8" fill="url(#sph)" stroke="#555" stroke-width="0.3"/>
<circle cx="307.4" cy="116.5" r="2.8" fill="url(#sph)" stroke="#555" stroke-width="0.3"/>
<circle cx="311.8" cy="12.0" r="2.8" fill="url(#sph)" stroke="#555" stroke-width="0.3"/>
<circle cx="311.8" cy="17.1" r="2.8" fill="url(#sph)" stroke="#555" stroke-width="0.3"/>
<circle cx="311.8" cy="22.2" r="2.8" fill="url(#sph)" stroke="#555" stroke-width="0.3"/>
<circle cx="311.8" cy="27.3" r="2.8" fill="url(#sph)" stroke="#555" stroke-width="0.3"/>
<circle cx="311.8" cy="32.4" r="2.8" fill="url(#sph)" stroke="#555" stroke-width="0.3"/>
<circle cx="311.8" cy="37.5" r="2.8" fill="url(#sph)" stroke="#555" stroke-width="0.3"/>
<circle cx="311.8" cy="42.6" r="2.8" fill="url(#sph)" stroke="#555" stroke-width="0.3"/>
<circle cx="311.8" cy="47.7" r="2.8" fill="url(#sph)" stroke="#555" stroke-width="0.3"/>
<circle cx="311.8" cy="52.8" r="2.8" fill="url(#sph)" stroke="#555" stroke-width="0.3"/>
<circle cx="311.8" cy="57.9" r="2.8" fill="url(#sph)" stroke="#555" stroke-width="0.3"/>
<circle cx="311.8" cy="63.0" r="2.8" fill="url(#sph)" stroke="#555" stroke-width="0.3"/>
<circle cx="311.8" cy="68.1" r="2.8" fill="url(#sph)" stroke="#555" stroke-width="0.3"/>
<circle cx="311.8" cy="73.2" r="2.8" fill="url(#sph)" stroke="#555" stroke-width="0.3"/>
<circle cx="311.8" cy="78.3" r="2.8" fill="url(#sph)" stroke="#555" stroke-width="0.3"/>
<circle cx="311.8" cy="83.4" r="2.8" fill="url(#sph)" stroke="#555" stroke-width="0.3"/>
<circle cx="311.8" cy="88.5" r="2.8" fill="url(#sph)" stroke="#555" stroke-width="0.3"/>
<circle cx="311.8" cy="93.6" r="2.8" fill="url(#sph)" stroke="#555" stroke-width="0.3"/>
<circle cx="311.8" cy="98.7" r="2.8" fill="url(#sph)" stroke="#555" stroke-width="0.3"/>
<circle cx="311.8" cy="103.8" r="2.8" fill="url(#sph)" stroke="#555" stroke-width="0.3"/>
<circle cx="311.8" cy="108.9" r="2.8" fill="url(#sph)" stroke="#555" stroke-width="0.3"/>
<circle cx="311.8" cy="114.0" r="2.8" fill="url(#sph)" stroke="#555" stroke-width="0.3"/>
<circle cx="316.2" cy="14.6" r="2.8" fill="url(#sph)" stroke="#555" stroke-width="0.3"/>
<circle cx="316.2" cy="19.7" r="2.8" fill="url(#sph)" stroke="#555" stroke-width="0.3"/>
<circle cx="316.2" cy="24.8" r="2.8" fill="url(#sph)" stroke="#555" stroke-width="0.3"/>
<circle cx="316.2" cy="29.8" r="2.8" fill="url(#sph)" stroke="#555" stroke-width="0.3"/>
<circle cx="316.2" cy="34.9" r="2.8" fill="url(#sph)" stroke="#555" stroke-width="0.3"/>
<circle cx="316.2" cy="40.0" r="2.8" fill="url(#sph)" stroke="#555" stroke-width="0.3"/>
<circle cx="316.2" cy="45.1" r="2.8" fill="url(#sph)" stroke="#555" stroke-width="0.3"/>
<circle cx="316.2" cy="50.2" r="2.8" fill="url(#sph)" stroke="#555" stroke-width="0.3"/>
<circle cx="316.2" cy="55.3" r="2.8" fill="url(#sph)" stroke="#555" stroke-width="0.3"/>
<circle cx="316.2" cy="60.4" r="2.8" fill="url(#sph)" stroke="#555" stroke-width="0.3"/>
<circle cx="316.2" cy="65.5" r="2.8" fill="url(#sph)" stroke="#555" stroke-width="0.3"/>
<circle cx="316.2" cy="70.6" r="2.8" fill="url(#sph)" stroke="#555" stroke-width="0.3"/>
<circle cx="316.2" cy="75.7" r="2.8" fill="url(#sph)" stroke="#555" stroke-width="0.3"/>
<circle cx="316.2" cy="80.8" r="2.8" fill="url(#sph)" stroke="#555" stroke-width="0.3"/>
<circle cx="316.2" cy="85.9" r="2.8" fill="url(#sph)" stroke="#555" stroke-width="0.3"/>
<circle cx="316.2" cy="91.0" r="2.8" fill="url(#sph)" stroke="#555" stroke-width="0.3"/>
<circle cx="316.2" cy="96.1" r="2.8" fill="url(#sph)" stroke="#555" stroke-width="0.3"/>
<circle cx="316.2" cy="101.2" r="2.8" fill="url(#sph)" stroke="#555" stroke-width="0.3"/>
<circle cx="316.2" cy="106.3" r="2.8" fill="url(#sph)" stroke="#555" stroke-width="0.3"/>
<circle cx="316.2" cy="111.4" r="2.8" fill="url(#sph)" stroke="#555" stroke-width="0.3"/>
<circle cx="316.2" cy="116.5" r="2.8" fill="url(#sph)" stroke="#555" stroke-width="0.3"/>
<circle cx="320.7" cy="12.0" r="2.8" fill="url(#sph)" stroke="#555" stroke-width="0.3"/>
<circle cx="320.7" cy="17.1" r="2.8" fill="url(#sph)" stroke="#555" stroke-width="0.3"/>
<circle cx="320.7" cy="22.2" r="2.8" fill="url(#sph)" stroke="#555" stroke-width="0.3"/>
<circle cx="320.7" cy="27.3" r="2.8" fill="url(#sph)" stroke="#555" stroke-width="0.3"/>
<circle cx="320.7" cy="32.4" r="2.8" fill="url(#sph)" stroke="#555" stroke-width="0.3"/>
<circle cx="320.7" cy="37.5" r="2.8" fill="url(#sph)" stroke="#555" stroke-width="0.3"/>
<circle cx="320.7" cy="42.6" r="2.8" fill="url(#sph)" stroke="#555" stroke-width="0.3"/>
<circle cx="320.7" cy="47.7" r="2.8" fill="url(#sph)" stroke="#555" stroke-width="0.3"/>
<circle cx="320.7" cy="52.8" r="2.8" fill="url(#sph)" stroke="#555" stroke-width="0.3"/>
<circle cx="320.7" cy="57.9" r="2.8" fill="url(#sph)" stroke="#555" stroke-width="0.3"/>
<circle cx="320.7" cy="63.0" r="2.8" fill="url(#sph)" stroke="#555" stroke-width="0.3"/>
<circle cx="320.7" cy="68.1" r="2.8" fill="url(#sph)" stroke="#555" stroke-width="0.3"/>
<circle cx="320.7" cy="73.2" r="2.8" fill="url(#sph)" stroke="#555" stroke-width="0.3"/>
<circle cx="320.7" cy="78.3" r="2.8" fill="url(#sph)" stroke="#555" stroke-width="0.3"/>
<circle cx="320.7" cy="83.4" r="2.8" fill="url(#sph)" stroke="#555" stroke-width="0.3"/>
<circle cx="320.7" cy="88.5" r="2.8" fill="url(#sph)" stroke="#555" stroke-width="0.3"/>
<circle cx="320.7" cy="93.6" r="2.8" fill="url(#sph)" stroke="#555" stroke-width="0.3"/>
<circle cx="320.7" cy="98.7" r="2.8" fill="url(#sph)" stroke="#555" stroke-width="0.3"/>
<circle cx="320.7" cy="103.8" r="2.8" fill="url(#sph)" stroke="#555" stroke-width="0.3"/>
<circle cx="320.7" cy="108.9" r="2.8" fill="url(#sph)" stroke="#555" stroke-width="0.3"/>
<circle cx="320.7" cy="114.0" r="2.8" fill="url(#sph)" stroke="#555" stroke-width="0.3"/>
<circle cx="325.1" cy="14.6" r="2.8" fill="url(#sph)" stroke="#555" stroke-width="0.3"/>
<circle cx="325.1" cy="19.7" r="2.8" fill="url(#sph)" stroke="#555" stroke-width="0.3"/>
<circle cx="325.1" cy="24.8" r="2.8" fill="url(#sph)" stroke="#555" stroke-width="0.3"/>
<circle cx="325.1" cy="29.8" r="2.8" fill="url(#sph)" stroke="#555" stroke-width="0.3"/>
<circle cx="325.1" cy="34.9" r="2.8" fill="url(#sph)" stroke="#555" stroke-width="0.3"/>
<circle cx="325.1" cy="40.0" r="2.8" fill="url(#sph)" stroke="#555" stroke-width="0.3"/>
<circle cx="325.1" cy="45.1" r="2.8" fill="url(#sph)" stroke="#555" stroke-width="0.3"/>
<circle cx="325.1" cy="50.2" r="2.8" fill="url(#sph)" stroke="#555" stroke-width="0.3"/>
<circle cx="325.1" cy="55.3" r="2.8" fill="url(#sph)" stroke="#555" stroke-width="0.3"/>
<circle cx="325.1" cy="60.4" r="2.8" fill="url(#sph)" stroke="#555" stroke-width="0.3"/>
<circle cx="325.1" cy="65.5" r="2.8" fill="url(#sph)" stroke="#555" stroke-width="0.3"/>
<circle cx="325.1" cy="70.6" r="2.8" fill="url(#sph)" stroke="#555" stroke-width="0.3"/>
<circle cx="325.1" cy="75.7" r="2.8" fill="url(#sph)" stroke="#555" stroke-width="0.3"/>
<circle cx="325.1" cy="80.8" r="2.8" fill="url(#sph)" stroke="#555" stroke-width="0.3"/>
<circle cx="325.1" cy="85.9" r="2.8" fill="url(#sph)" stroke="#555" stroke-width="0.3"/>
<circle cx="325.1" cy="91.0" r="2.8" fill="url(#sph)" stroke="#555" stroke-width="0.3"/>
<circle cx="325.1" cy="96.1" r="2.8" fill="url(#sph)" stroke="#555" stroke-width="0.3"/>
<circle cx="325.1" cy="101.2" r="2.8" fill="url(#sph)" stroke="#555" stroke-width="0.3"/>
<circle cx="325.1" cy="106.3" r="2.8" fill="url(#sph)" stroke="#555" stroke-width="0.3"/>
<circle cx="325.1" cy="111.4" r="2.8" fill="url(#sph)" stroke="#555" stroke-width="0.3"/>
<circle cx="325.1" cy="116.5" r="2.8" fill="url(#sph)" stroke="#555" stroke-width="0.3"/>
<circle cx="329.6" cy="12.0" r="2.8" fill="url(#sph)" stroke="#555" stroke-width="0.3"/>
<circle cx="329.6" cy="17.1" r="2.8" fill="url(#sph)" stroke="#555" stroke-width="0.3"/>
<circle cx="329.6" cy="22.2" r="2.8" fill="url(#sph)" stroke="#555" stroke-width="0.3"/>
<circle cx="329.6" cy="27.3" r="2.8" fill="url(#sph)" stroke="#555" stroke-width="0.3"/>
<circle cx="329.6" cy="32.4" r="2.8" fill="url(#sph)" stroke="#555" stroke-width="0.3"/>
<circle cx="329.6" cy="37.5" r="2.8" fill="url(#sph)" stroke="#555" stroke-width="0.3"/>
<circle cx="329.6" cy="42.6" r="2.8" fill="url(#sph)" stroke="#555" stroke-width="0.3"/>
<circle cx="329.6" cy="47.7" r="2.8" fill="url(#sph)" stroke="#555" stroke-width="0.3"/>
<circle cx="329.6" cy="52.8" r="2.8" fill="url(#sph)" stroke="#555" stroke-width="0.3"/>
<circle cx="329.6" cy="57.9" r="2.8" fill="url(#sph)" stroke="#555" stroke-width="0.3"/>
<circle cx="329.6" cy="63.0" r="2.8" fill="url(#sph)" stroke="#555" stroke-width="0.3"/>
<circle cx="329.6" cy="68.1" r="2.8" fill="url(#sph)" stroke="#555" stroke-width="0.3"/>
<circle cx="329.6" cy="73.2" r="2.8" fill="url(#sph)" stroke="#555" stroke-width="0.3"/>
<circle cx="329.6" cy="78.3" r="2.8" fill="url(#sph)" stroke="#555" stroke-width="0.3"/>
<circle cx="329.6" cy="83.4" r="2.8" fill="url(#sph)" stroke="#555" stroke-width="0.3"/>
<circle cx="329.6" cy="88.5" r="2.8" fill="url(#sph)" stroke="#555" stroke-width="0.3"/>
<circle cx="329.6" cy="93.6" r="2.8" fill="url(#sph)" stroke="#555" stroke-width="0.3"/>
<circle cx="329.6" cy="98.7" r="2.8" fill="url(#sph)" stroke="#555" stroke-width="0.3"/>
<circle cx="329.6" cy="103.8" r="2.8" fill="url(#sph)" stroke="#555" stroke-width="0.3"/>
<circle cx="329.6" cy="108.9" r="2.8" fill="url(#sph)" stroke="#555" stroke-width="0.3"/>
<circle cx="329.6" cy="114.0" r="2.8" fill="url(#sph)" stroke="#555" stroke-width="0.3"/>
<circle cx="334.1" cy="14.6" r="2.8" fill="url(#sph)" stroke="#555" stroke-width="0.3"/>
<circle cx="334.1" cy="19.7" r="2.8" fill="url(#sph)" stroke="#555" stroke-width="0.3"/>
<circle cx="334.1" cy="24.8" r="2.8" fill="url(#sph)" stroke="#555" stroke-width="0.3"/>
<circle cx="334.1" cy="29.8" r="2.8" fill="url(#sph)" stroke="#555" stroke-width="0.3"/>
<circle cx="334.1" cy="34.9" r="2.8" fill="url(#sph)" stroke="#555" stroke-width="0.3"/>
<circle cx="334.1" cy="40.0" r="2.8" fill="url(#sph)" stroke="#555" stroke-width="0.3"/>
<circle cx="334.1" cy="45.1" r="2.8" fill="url(#sph)" stroke="#555" stroke-width="0.3"/>
<circle cx="334.1" cy="50.2" r="2.8" fill="url(#sph)" stroke="#555" stroke-width="0.3"/>
<circle cx="334.1" cy="55.3" r="2.8" fill="url(#sph)" stroke="#555" stroke-width="0.3"/>
<circle cx="334.1" cy="60.4" r="2.8" fill="url(#sph)" stroke="#555" stroke-width="0.3"/>
<circle cx="334.1" cy="65.5" r="2.8" fill="url(#sph)" stroke="#555" stroke-width="0.3"/>
<circle cx="334.1" cy="70.6" r="2.8" fill="url(#sph)" stroke="#555" stroke-width="0.3"/>
<circle cx="334.1" cy="75.7" r="2.8" fill="url(#sph)" stroke="#555" stroke-width="0.3"/>
<circle cx="334.1" cy="80.8" r="2.8" fill="url(#sph)" stroke="#555" stroke-width="0.3"/>
<circle cx="334.1" cy="85.9" r="2.8" fill="url(#sph)" stroke="#555" stroke-width="0.3"/>
<circle cx="334.1" cy="91.0" r="2.8" fill="url(#sph)" stroke="#555" stroke-width="0.3"/>
<circle cx="334.1" cy="96.1" r="2.8" fill="url(#sph)" stroke="#555" stroke-width="0.3"/>
<circle cx="334.1" cy="101.2" r="2.8" fill="url(#sph)" stroke="#555" stroke-width="0.3"/>
<circle cx="334.1" cy="106.3" r="2.8" fill="url(#sph)" stroke="#555" stroke-width="0.3"/>
<circle cx="338.5" cy="12.0" r="2.8" fill="url(#sph)" stroke="#555" stroke-width="0.3"/>
<circle cx="338.5" cy="17.1" r="2.8" fill="url(#sph)" stroke="#555" stroke-width="0.3"/>
<circle cx="338.5" cy="22.2" r="2.8" fill="url(#sph)" stroke="#555" stroke-width="0.3"/>
<circle cx="338.5" cy="27.3" r="2.8" fill="url(#sph)" stroke="#555" stroke-width="0.3"/>
<circle cx="338.5" cy="32.4" r="2.8" fill="url(#sph)" stroke="#555" stroke-width="0.3"/>
<circle cx="338.5" cy="37.5" r="2.8" fill="url(#sph)" stroke="#555" stroke-width="0.3"/>
<circle cx="338.5" cy="42.6" r="2.8" fill="url(#sph)" stroke="#555" stroke-width="0.3"/>
<circle cx="338.5" cy="47.7" r="2.8" fill="url(#sph)" stroke="#555" stroke-width="0.3"/>
<circle cx="338.5" cy="52.8" r="2.8" fill="url(#sph)" stroke="#555" stroke-width="0.3"/>
<circle cx="338.5" cy="57.9" r="2.8" fill="url(#sph)" stroke="#555" stroke-width="0.3"/>
<circle cx="338.5" cy="63.0" r="2.8" fill="url(#sph)" stroke="#555" stroke-width="0.3"/>
<circle cx="338.5" cy="68.1" r="2.8" fill="url(#sph)" stroke="#555" stroke-width="0.3"/>
<circle cx="338.5" cy="73.2" r="2.8" fill="url(#sph)" stroke="#555" stroke-width="0.3"/>
<circle cx="338.5" cy="78.3" r="2.8" fill="url(#sph)" stroke="#555" stroke-width="0.3"/>
<circle cx="338.5" cy="83.4" r="2.8" fill="url(#sph)" stroke="#555" stroke-width="0.3"/>
<circle cx="338.5" cy="88.5" r="2.8" fill="url(#sph)" stroke="#555" stroke-width="0.3"/>
<circle cx="338.5" cy="93.6" r="2.8" fill="url(#sph)" stroke="#555" stroke-width="0.3"/>
<circle cx="338.5" cy="98.7" r="2.8" fill="url(#sph)" stroke="#555" stroke-width="0.3"/>
<circle cx="343.0" cy="14.6" r="2.8" fill="url(#sph)" stroke="#555" stroke-width="0.3"/>
<circle cx="343.0" cy="19.7" r="2.8" fill="url(#sph)" stroke="#555" stroke-width="0.3"/>
<circle cx="343.0" cy="24.8" r="2.8" fill="url(#sph)" stroke="#555" stroke-width="0.3"/>
<circle cx="343.0" cy="29.8" r="2.8" fill="url(#sph)" stroke="#555" stroke-width="0.3"/>
<circle cx="343.0" cy="34.9" r="2.8" fill="url(#sph)" stroke="#555" stroke-width="0.3"/>
<circle cx="343.0" cy="40.0" r="2.8" fill="url(#sph)" stroke="#555" stroke-width="0.3"/>
<circle cx="343.0" cy="45.1" r="2.8" fill="url(#sph)" stroke="#555" stroke-width="0.3"/>
<circle cx="343.0" cy="50.2" r="2.8" fill="url(#sph)" stroke="#555" stroke-width="0.3"/>
<circle cx="343.0" cy="55.3" r="2.8" fill="url(#sph)" stroke="#555" stroke-width="0.3"/>
<circle cx="343.0" cy="60.4" r="2.8" fill="url(#sph)" stroke="#555" stroke-width="0.3"/>
<circle cx="343.0" cy="65.5" r="2.8" fill="url(#sph)" stroke="#555" stroke-width="0.3"/>
<circle cx="343.0" cy="70.6" r="2.8" fill="url(#sph)" stroke="#555" stroke-width="0.3"/>
<circle cx="343.0" cy="75.7" r="2.8" fill="url(#sph)" stroke="#555" stroke-width="0.3"/>
<circle cx="343.0" cy="80.8" r="2.8" fill="url(#sph)" stroke="#555" stroke-width="0.3"/>
<circle cx="343.0" cy="85.9" r="2.8" fill="url(#sph)" stroke="#555" stroke-width="0.3"/>
<circle cx="347.4" cy="12.0" r="2.8" fill="url(#sph)" stroke="#555" stroke-width="0.3"/>
<circle cx="347.4" cy="17.1" r="2.8" fill="url(#sph)" stroke="#555" stroke-width="0.3"/>
<circle cx="347.4" cy="22.2" r="2.8" fill="url(#sph)" stroke="#555" stroke-width="0.3"/>
<circle cx="347.4" cy="27.3" r="2.8" fill="url(#sph)" stroke="#555" stroke-width="0.3"/>
<circle cx="347.4" cy="32.4" r="2.8" fill="url(#sph)" stroke="#555" stroke-width="0.3"/>
<circle cx="347.4" cy="37.5" r="2.8" fill="url(#sph)" stroke="#555" stroke-width="0.3"/>
<circle cx="347.4" cy="42.6" r="2.8" fill="url(#sph)" stroke="#555" stroke-width="0.3"/>
<circle cx="347.4" cy="47.7" r="2.8" fill="url(#sph)" stroke="#555" stroke-width="0.3"/>
<circle cx="347.4" cy="52.8" r="2.8" fill="url(#sph)" stroke="#555" stroke-width="0.3"/>
<circle cx="347.4" cy="57.9" r="2.8" fill="url(#sph)" stroke="#555" stroke-width="0.3"/>
<circle cx="347.4" cy="63.0" r="2.8" fill="url(#sph)" stroke="#555" stroke-width="0.3"/>
<circle cx="347.4" cy="68.1" r="2.8" fill="url(#sph)" stroke="#555" stroke-width="0.3"/>
<circle cx="347.4" cy="73.2" r="2.8" fill="url(#sph)" stroke="#555" stroke-width="0.3"/>
<circle cx="347.4" cy="78.3" r="2.8" fill="url(#sph)" stroke="#555" stroke-width="0.3"/>
<circle cx="351.9" cy="14.6" r="2.8" fill="url(#sph)" stroke="#555" stroke-width="0.3"/>
<circle cx="351.9" cy="19.7" r="2.8" fill="url(#sph)" stroke="#555" stroke-width="0.3"/>
<circle cx="351.9" cy="24.8" r="2.8" fill="url(#sph)" stroke="#555" stroke-width="0.3"/>
<circle cx="351.9" cy="29.8" r="2.8" fill="url(#sph)" stroke="#555" stroke-width="0.3"/>
<circle cx="351.9" cy="34.9" r="2.8" fill="url(#sph)" stroke="#555" stroke-width="0.3"/>
<circle cx="351.9" cy="40.0" r="2.8" fill="url(#sph)" stroke="#555" stroke-width="0.3"/>
<circle cx="351.9" cy="45.1" r="2.8" fill="url(#sph)" stroke="#555" stroke-width="0.3"/>
<circle cx="351.9" cy="50.2" r="2.8" fill="url(#sph)" stroke="#555" stroke-width="0.3"/>
<circle cx="351.9" cy="55.3" r="2.8" fill="url(#sph)" stroke="#555" stroke-width="0.3"/>
<circle cx="351.9" cy="60.4" r="2.8" fill="url(#sph)" stroke="#555" stroke-width="0.3"/>
<circle cx="351.9" cy="65.5" r="2.8" fill="url(#sph)" stroke="#555" stroke-width="0.3"/>
<circle cx="351.9" cy="70.6" r="2.8" fill="url(#sph)" stroke="#555" stroke-width="0.3"/>
<circle cx="356.3" cy="12.0" r="2.8" fill="url(#sph)" stroke="#555" stroke-width="0.3"/>
<circle cx="356.3" cy="17.1" r="2.8" fill="url(#sph)" stroke="#555" stroke-width="0.3"/>
<circle cx="356.3" cy="22.2" r="2.8" fill="url(#sph)" stroke="#555" stroke-width="0.3"/>
<circle cx="356.3" cy="27.3" r="2.8" fill="url(#sph)" stroke="#555" stroke-width="0.3"/>
<circle cx="356.3" cy="32.4" r="2.8" fill="url(#sph)" stroke="#555" stroke-width="0.3"/>
<circle cx="356.3" cy="37.5" r="2.8" fill="url(#sph)" stroke="#555" stroke-width="0.3"/>
<circle cx="356.3" cy="42.6" r="2.8" fill="url(#sph)" stroke="#555" stroke-width="0.3"/>
<circle cx="356.3" cy="47.7" r="2.8" fill="url(#sph)" stroke="#555" stroke-width="0.3"/>
<circle cx="356.3" cy="52.8" r="2.8" fill="url(#sph)" stroke="#555" stroke-width="0.3"/>
<circle cx="356.3" cy="57.9" r="2.8" fill="url(#sph)" stroke="#555" stroke-width="0.3"/>
<circle cx="360.8" cy="14.6" r="2.8" fill="url(#sph)" stroke="#555" stroke-width="0.3"/>
<circle cx="360.8" cy="19.7" r="2.8" fill="url(#sph)" stroke="#555" stroke-width="0.3"/>
<circle cx="360.8" cy="24.8" r="2.8" fill="url(#sph)" stroke="#555" stroke-width="0.3"/>
<circle cx="360.8" cy="29.8" r="2.8" fill="url(#sph)" stroke="#555" stroke-width="0.3"/>
<circle cx="360.8" cy="34.9" r="2.8" fill="url(#sph)" stroke="#555" stroke-width="0.3"/>
<circle cx="360.8" cy="40.0" r="2.8" fill="url(#sph)" stroke="#555" stroke-width="0.3"/>
<circle cx="360.8" cy="45.1" r="2.8" fill="url(#sph)" stroke="#555" stroke-width="0.3"/>
<circle cx="360.8" cy="50.2" r="2.8" fill="url(#sph)" stroke="#555" stroke-width="0.3"/>
<circle cx="365.2" cy="12.0" r="2.8" fill="url(#sph)" stroke="#555" stroke-width="0.3"/>
<circle cx="365.2" cy="17.1" r="2.8" fill="url(#sph)" stroke="#555" stroke-width="0.3"/>
<circle cx="365.2" cy="22.2" r="2.8" fill="url(#sph)" stroke="#555" stroke-width="0.3"/>
<circle cx="365.2" cy="27.3" r="2.8" fill="url(#sph)" stroke="#555" stroke-width="0.3"/>
<circle cx="365.2" cy="32.4" r="2.8" fill="url(#sph)" stroke="#555" stroke-width="0.3"/>
<circle cx="365.2" cy="37.5" r="2.8" fill="url(#sph)" stroke="#555" stroke-width="0.3"/>
<circle cx="365.2" cy="42.6" r="2.8" fill="url(#sph)" stroke="#555" stroke-width="0.3"/>
<circle cx="369.6" cy="14.6" r="2.8" fill="url(#sph)" stroke="#555" stroke-width="0.3"/>
<circle cx="369.6" cy="19.7" r="2.8" fill="url(#sph)" stroke="#555" stroke-width="0.3"/>
<circle cx="369.6" cy="24.8" r="2.8" fill="url(#sph)" stroke="#555" stroke-width="0.3"/>
<circle cx="369.6" cy="29.8" r="2.8" fill="url(#sph)" stroke="#555" stroke-width="0.3"/>
<circle cx="374.1" cy="12.0" r="2.8" fill="url(#sph)" stroke="#555" stroke-width="0.3"/>
<circle cx="374.1" cy="17.1" r="2.8" fill="url(#sph)" stroke="#555" stroke-width="0.3"/>
<circle cx="374.1" cy="22.2" r="2.8" fill="url(#sph)" stroke="#555" stroke-width="0.3"/>
<circle cx="284.7" cy="25.5" r="5.3" fill="#858585"/>
<polyline points="288.7,27.8 284.7,30.1 280.7,27.8 280.7,23.2 284.7,20.9 288.7,23.2 288.7,27.8" fill="#a0a0a0" stroke="#e4e4e4" stroke-width="1.4" stroke-linejoin="round" />
<polyline points="286.8,26.7 284.7,27.9 282.6,26.7 282.6,24.3 284.7,23.1 286.8,24.3 286.8,26.7" fill="none" stroke="#ececec" stroke-width="0.8" stroke-linejoin="round" />
<circle cx="284.7" cy="25.5" r="1.3" fill="#fff"/>
<circle cx="321" cy="25.5" r="5.3" fill="#858585"/>
<polyline points="325.0,27.8 321.0,30.1 317.0,27.8 317.0,23.2 321.0,20.9 325.0,23.2 325.0,27.8" fill="#a0a0a0" stroke="#e4e4e4" stroke-width="1.4" stroke-linejoin="round" />
<polyline points="323.1,26.7 321.0,27.9 318.9,26.7 318.9,24.3 321.0,23.1 323.1,24.3 323.1,26.7" fill="none" stroke="#ececec" stroke-width="0.8" stroke-linejoin="round" />
<circle cx="321" cy="25.5" r="1.3" fill="#fff"/>
<circle cx="357.5" cy="25.5" r="5.3" fill="#858585"/>
<polyline points="361.5,27.8 357.5,30.1 353.5,27.8 353.5,23.2 357.5,20.9 361.5,23.2 361.5,27.8" fill="#a0a0a0" stroke="#e4e4e4" stroke-width="1.4" stroke-linejoin="round" />
<polyline points="359.6,26.7 357.5,27.9 355.4,26.7 355.4,24.3 357.5,23.1 359.6,24.3 359.6,26.7" fill="none" stroke="#ececec" stroke-width="0.8" stroke-linejoin="round" />
<circle cx="357.5" cy="25.5" r="1.3" fill="#fff"/>
<circle cx="266.5" cy="36.4" r="5.3" fill="#858585"/>
<polyline points="270.5,38.7 266.5,41.0 262.5,38.7 262.5,34.1 266.5,31.8 270.5,34.1 270.5,38.7" fill="#a0a0a0" stroke="#e4e4e4" stroke-width="1.4" stroke-linejoin="round" />
<polyline points="268.6,37.6 266.5,38.8 264.4,37.6 264.4,35.2 266.5,34.0 268.6,35.2 268.6,37.6" fill="none" stroke="#ececec" stroke-width="0.8" stroke-linejoin="round" />
<circle cx="266.5" cy="36.4" r="1.3" fill="#fff"/>
<circle cx="303" cy="36.4" r="5.3" fill="#858585"/>
<polyline points="307.0,38.7 303.0,41.0 299.0,38.7 299.0,34.1 303.0,31.8 307.0,34.1 307.0,38.7" fill="#a0a0a0" stroke="#e4e4e4" stroke-width="1.4" stroke-linejoin="round" />
<polyline points="305.1,37.6 303.0,38.8 300.9,37.6 300.9,35.2 303.0,34.0 305.1,35.2 305.1,37.6" fill="none" stroke="#ececec" stroke-width="0.8" stroke-linejoin="round" />
<circle cx="303" cy="36.4" r="1.3" fill="#fff"/>
<circle cx="339" cy="36.4" r="5.3" fill="#858585"/>
<polyline points="343.0,38.7 339.0,41.0 335.0,38.7 335.0,34.1 339.0,31.8 343.0,34.1 343.0,38.7" fill="#a0a0a0" stroke="#e4e4e4" stroke-width="1.4" stroke-linejoin="round" />
<polyline points="341.1,37.6 339.0,38.8 336.9,37.6 336.9,35.2 339.0,34.0 341.1,35.2 341.1,37.6" fill="none" stroke="#ececec" stroke-width="0.8" stroke-linejoin="round" />
<circle cx="339" cy="36.4" r="1.3" fill="#fff"/>
<circle cx="266.5" cy="57.5" r="5.3" fill="#858585"/>
<polyline points="270.5,59.8 266.5,62.1 262.5,59.8 262.5,55.2 266.5,52.9 270.5,55.2 270.5,59.8" fill="#a0a0a0" stroke="#e4e4e4" stroke-width="1.4" stroke-linejoin="round" />
<polyline points="268.6,58.7 266.5,59.9 264.4,58.7 264.4,56.3 266.5,55.1 268.6,56.3 268.6,58.7" fill="none" stroke="#ececec" stroke-width="0.8" stroke-linejoin="round" />
<circle cx="266.5" cy="57.5" r="1.3" fill="#fff"/>
<circle cx="303" cy="57.5" r="5.3" fill="#858585"/>
<polyline points="307.0,59.8 303.0,62.1 299.0,59.8 299.0,55.2 303.0,52.9 307.0,55.2 307.0,59.8" fill="#a0a0a0" stroke="#e4e4e4" stroke-width="1.4" stroke-linejoin="round" />
<polyline points="305.1,58.7 303.0,59.9 300.9,58.7 300.9,56.3 303.0,55.1 305.1,56.3 305.1,58.7" fill="none" stroke="#ececec" stroke-width="0.8" stroke-linejoin="round" />
<circle cx="303" cy="57.5" r="1.3" fill="#fff"/>
<circle cx="339" cy="57.5" r="5.3" fill="#858585"/>
<polyline points="343.0,59.8 339.0,62.1 335.0,59.8 335.0,55.2 339.0,52.9 343.0,55.2 343.0,59.8" fill="#a0a0a0" stroke="#e4e4e4" stroke-width="1.4" stroke-linejoin="round" />
<polyline points="341.1,58.7 339.0,59.9 336.9,58.7 336.9,56.3 339.0,55.1 341.1,56.3 341.1,58.7" fill="none" stroke="#ececec" stroke-width="0.8" stroke-linejoin="round" />
<circle cx="339" cy="57.5" r="1.3" fill="#fff"/>
<circle cx="248" cy="69" r="5.3" fill="#858585"/>
<polyline points="252.0,71.3 248.0,73.6 244.0,71.3 244.0,66.7 248.0,64.4 252.0,66.7 252.0,71.3" fill="#a0a0a0" stroke="#e4e4e4" stroke-width="1.4" stroke-linejoin="round" />
<polyline points="250.1,70.2 248.0,71.4 245.9,70.2 245.9,67.8 248.0,66.6 250.1,67.8 250.1,70.2" fill="none" stroke="#ececec" stroke-width="0.8" stroke-linejoin="round" />
<circle cx="248" cy="69" r="1.3" fill="#fff"/>
<circle cx="284.7" cy="69" r="5.3" fill="#858585"/>
<polyline points="288.7,71.3 284.7,73.6 280.7,71.3 280.7,66.7 284.7,64.4 288.7,66.7 288.7,71.3" fill="#a0a0a0" stroke="#e4e4e4" stroke-width="1.4" stroke-linejoin="round" />
<polyline points="286.8,70.2 284.7,71.4 282.6,70.2 282.6,67.8 284.7,66.6 286.8,67.8 286.8,70.2" fill="none" stroke="#ececec" stroke-width="0.8" stroke-linejoin="round" />
<circle cx="284.7" cy="69" r="1.3" fill="#fff"/>
<circle cx="321" cy="69" r="5.3" fill="#858585"/>
<polyline points="325.0,71.3 321.0,73.6 317.0,71.3 317.0,66.7 321.0,64.4 325.0,66.7 325.0,71.3" fill="#a0a0a0" stroke="#e4e4e4" stroke-width="1.4" stroke-linejoin="round" />
<polyline points="323.1,70.2 321.0,71.4 318.9,70.2 318.9,67.8 321.0,66.6 323.1,67.8 323.1,70.2" fill="none" stroke="#ececec" stroke-width="0.8" stroke-linejoin="round" />
<circle cx="321" cy="69" r="1.3" fill="#fff"/>
<circle cx="248" cy="91" r="5.3" fill="#858585"/>
<polyline points="252.0,93.3 248.0,95.6 244.0,93.3 244.0,88.7 248.0,86.4 252.0,88.7 252.0,93.3" fill="#a0a0a0" stroke="#e4e4e4" stroke-width="1.4" stroke-linejoin="round" />
<polyline points="250.1,92.2 248.0,93.4 245.9,92.2 245.9,89.8 248.0,88.6 250.1,89.8 250.1,92.2" fill="none" stroke="#ececec" stroke-width="0.8" stroke-linejoin="round" />
<circle cx="248" cy="91" r="1.3" fill="#fff"/>
<circle cx="284.7" cy="91" r="5.3" fill="#858585"/>
<polyline points="288.7,93.3 284.7,95.6 280.7,93.3 280.7,88.7 284.7,86.4 288.7,88.7 288.7,93.3" fill="#a0a0a0" stroke="#e4e4e4" stroke-width="1.4" stroke-linejoin="round" />
<polyline points="286.8,92.2 284.7,93.4 282.6,92.2 282.6,89.8 284.7,88.6 286.8,89.8 286.8,92.2" fill="none" stroke="#ececec" stroke-width="0.8" stroke-linejoin="round" />
<circle cx="284.7" cy="91" r="1.3" fill="#fff"/>
<circle cx="321" cy="91" r="5.3" fill="#858585"/>
<polyline points="325.0,93.3 321.0,95.6 317.0,93.3 317.0,88.7 321.0,86.4 325.0,88.7 325.0,93.3" fill="#a0a0a0" stroke="#e4e4e4" stroke-width="1.4" stroke-linejoin="round" />
<polyline points="323.1,92.2 321.0,93.4 318.9,92.2 318.9,89.8 321.0,88.6 323.1,89.8 323.1,92.2" fill="none" stroke="#ececec" stroke-width="0.8" stroke-linejoin="round" />
<circle cx="321" cy="91" r="1.3" fill="#fff"/>
<circle cx="231.5" cy="103.5" r="5.3" fill="#858585"/>
<polyline points="235.5,105.8 231.5,108.1 227.5,105.8 227.5,101.2 231.5,98.9 235.5,101.2 235.5,105.8" fill="#a0a0a0" stroke="#e4e4e4" stroke-width="1.4" stroke-linejoin="round" />
<polyline points="233.6,104.7 231.5,105.9 229.4,104.7 229.4,102.3 231.5,101.1 233.6,102.3 233.6,104.7" fill="none" stroke="#ececec" stroke-width="0.8" stroke-linejoin="round" />
<circle cx="231.5" cy="103.5" r="1.3" fill="#fff"/>
<circle cx="267.5" cy="103.5" r="5.3" fill="#858585"/>
<polyline points="271.5,105.8 267.5,108.1 263.5,105.8 263.5,101.2 267.5,98.9 271.5,101.2 271.5,105.8" fill="#a0a0a0" stroke="#e4e4e4" stroke-width="1.4" stroke-linejoin="round" />
<polyline points="269.6,104.7 267.5,105.9 265.4,104.7 265.4,102.3 267.5,101.1 269.6,102.3 269.6,104.7" fill="none" stroke="#ececec" stroke-width="0.8" stroke-linejoin="round" />
<circle cx="267.5" cy="103.5" r="1.3" fill="#fff"/>
<circle cx="303.6" cy="103.5" r="5.3" fill="#858585"/>
<polyline points="307.6,105.8 303.6,108.1 299.6,105.8 299.6,101.2 303.6,98.9 307.6,101.2 307.6,105.8" fill="#a0a0a0" stroke="#e4e4e4" stroke-width="1.4" stroke-linejoin="round" />
<polyline points="305.7,104.7 303.6,105.9 301.5,104.7 301.5,102.3 303.6,101.1 305.7,102.3 305.7,104.7" fill="none" stroke="#ececec" stroke-width="0.8" stroke-linejoin="round" />
<circle cx="303.6" cy="103.5" r="1.3" fill="#fff"/>
<defs><filter id="blur3" x="-20%" y="-20%" width="140%" height="140%"><feGaussianBlur stdDeviation="2.2"/></filter><filter id="blur5" x="-50%" y="-50%" width="200%" height="200%"><feGaussianBlur stdDeviation="5"/></filter><filter id="blurd" x="-5%" y="-5%" width="110%" height="110%"><feGaussianBlur stdDeviation="0.45"/></filter><clipPath id="temclip"><rect x="421.5" y="9" width="118.5" height="118"/></clipPath></defs>
<rect x="421.5" y="9.0" width="118.5" height="118.0" fill="#0c0c0c" />
<g clip-path="url(#temclip)">
<polygon points="416,67 440,59 457.5,54 472.5,48 484,42 490,41 497,35 504,28 514,20 521,13 525,7 545,4 545,82 522.5,84 510,87 500,94 488,104 477,106 460,107 440,104 416,104" fill="#3b3b3b" filter="url(#blur3)"/>
<ellipse cx="540" cy="16" rx="14" ry="20" fill="#858585" filter="url(#blur5)"/>
<ellipse cx="520" cy="50" rx="22" ry="26" fill="#3a3a3a" filter="url(#blur5)" opacity="0.8"/>
<g filter="url(#blurd)">
<circle cx="484.8" cy="52.2" r="0.6" fill="rgb(124,124,124)" opacity="0.80"/>
<circle cx="489.7" cy="55.8" r="0.6" fill="rgb(166,166,166)" opacity="0.33"/>
<circle cx="518.1" cy="30.3" r="0.9" fill="rgb(158,158,158)" opacity="0.50"/>
<circle cx="505.7" cy="75.6" r="0.9" fill="rgb(162,162,162)" opacity="0.57"/>
<circle cx="490.7" cy="62.5" r="0.6" fill="rgb(186,186,186)" opacity="0.44"/>
<circle cx="504.2" cy="37.8" r="0.7" fill="rgb(186,186,186)" opacity="0.59"/>
<circle cx="507.8" cy="43.0" r="0.8" fill="rgb(128,128,128)" opacity="0.36"/>
<circle cx="532.1" cy="58.8" r="0.9" fill="rgb(129,129,129)" opacity="0.72"/>
<circle cx="480.1" cy="103.0" r="0.7" fill="rgb(127,127,127)" opacity="0.76"/>
<circle cx="477.4" cy="87.4" r="0.7" fill="rgb(125,125,125)" opacity="0.70"/>
<circle cx="518.8" cy="42.6" r="0.7" fill="rgb(208,208,208)" opacity="0.79"/>
<circle cx="428.0" cy="99.7" r="0.8" fill="rgb(143,143,143)" opacity="0.71"/>
<circle cx="454.1" cy="58.0" r="0.8" fill="rgb(201,201,201)" opacity="0.68"/>
<circle cx="535.0" cy="26.8" r="1.0" fill="rgb(155,155,155)" opacity="0.38"/>
<circle cx="448.8" cy="66.2" r="0.5" fill="rgb(156,156,156)" opacity="0.44"/>
<circle cx="438.3" cy="72.1" r="0.6" fill="rgb(254,254,254)" opacity="0.48"/>
<circle cx="503.2" cy="69.8" r="1.0" fill="rgb(123,123,123)" opacity="0.55"/>
<circle cx="515.9" cy="55.3" r="0.8" fill="rgb(212,212,212)" opacity="0.52"/>
<circle cx="525.0" cy="81.5" r="0.7" fill="rgb(148,148,148)" opacity="0.65"/>
<circle cx="492.7" cy="64.9" r="0.8" fill="rgb(139,139,139)" opacity="0.77"/>
<circle cx="478.2" cy="45.8" r="0.7" fill="rgb(146,146,146)" opacity="0.36"/>
<circle cx="509.1" cy="65.5" r="0.6" fill="rgb(151,151,151)" opacity="0.58"/>
<circle cx="534.2" cy="71.3" r="0.5" fill="rgb(147,147,147)" opacity="0.68"/>
<circle cx="511.2" cy="44.2" r="0.7" fill="rgb(133,133,133)" opacity="0.68"/>
<circle cx="485.4" cy="68.3" r="0.6" fill="rgb(167,167,167)" opacity="0.64"/>
<circle cx="509.0" cy="35.8" r="1.0" fill="rgb(242,242,242)" opacity="0.57"/>
<circle cx="445.3" cy="82.6" r="1.0" fill="rgb(110,110,110)" opacity="0.56"/>
<circle cx="461.9" cy="84.9" r="1.0" fill="rgb(140,140,140)" opacity="0.80"/>
<circle cx="510.3" cy="65.4" r="1.0" fill="rgb(155,155,155)" opacity="0.54"/>
<circle cx="460.6" cy="103.5" r="1.0" fill="rgb(211,211,211)" opacity="0.55"/>
<circle cx="517.0" cy="26.2" r="0.7" fill="rgb(231,231,231)" opacity="0.66"/>
<circle cx="439.6" cy="73.7" r="1.0" fill="rgb(115,115,115)" opacity="0.31"/>
<circle cx="498.3" cy="71.1" r="0.6" fill="rgb(145,145,145)" opacity="0.54"/>
<circle cx="519.3" cy="33.9" r="0.9" fill="rgb(174,174,174)" opacity="0.42"/>
<circle cx="449.6" cy="78.2" r="0.6" fill="rgb(176,176,176)" opacity="0.60"/>
<circle cx="428.2" cy="96.3" r="0.9" fill="rgb(227,227,227)" opacity="0.66"/>
<circle cx="480.7" cy="71.8" r="0.8" fill="rgb(244,244,244)" opacity="0.58"/>
<circle cx="513.4" cy="80.8" r="0.8" fill="rgb(148,148,148)" opacity="0.39"/>
<circle cx="428.3" cy="89.5" r="0.5" fill="rgb(245,245,245)" opacity="0.61"/>
<circle cx="526.1" cy="15.7" r="0.5" fill="rgb(158,158,158)" opacity="0.45"/>
<circle cx="481.4" cy="75.3" r="0.9" fill="rgb(126,126,126)" opacity="0.54"/>
<circle cx="536.8" cy="80.5" r="0.8" fill="rgb(161,161,161)" opacity="0.68"/>
<circle cx="481.5" cy="104.3" r="1.0" fill="rgb(239,239,239)" opacity="0.82"/>
<circle cx="527.2" cy="32.9" r="0.5" fill="rgb(224,224,224)" opacity="0.38"/>
<circle cx="500.9" cy="59.5" r="0.5" fill="rgb(164,164,164)" opacity="0.67"/>
<circle cx="527.7" cy="27.2" r="0.6" fill="rgb(203,203,203)" opacity="0.38"/>
<circle cx="536.1" cy="34.9" r="0.8" fill="rgb(134,134,134)" opacity="0.52"/>
<circle cx="440.4" cy="87.8" r="0.8" fill="rgb(167,167,167)" opacity="0.39"/>
<circle cx="539.3" cy="56.6" r="0.7" fill="rgb(217,217,217)" opacity="0.41"/>
<circle cx="461.2" cy="63.1" r="0.9" fill="rgb(114,114,114)" opacity="0.51"/>
<circle cx="495.2" cy="69.4" r="0.6" fill="rgb(126,126,126)" opacity="0.36"/>
<circle cx="536.6" cy="21.4" r="0.6" fill="rgb(177,177,177)" opacity="0.45"/>
<circle cx="518.5" cy="39.5" r="0.9" fill="rgb(148,148,148)" opacity="0.60"/>
<circle cx="488.9" cy="91.6" r="1.0" fill="rgb(132,132,132)" opacity="0.45"/>
<circle cx="536.3" cy="39.9" r="0.7" fill="rgb(156,156,156)" opacity="0.41"/>
<circle cx="495.8" cy="71.7" r="0.9" fill="rgb(162,162,162)" opacity="0.46"/>
<circle cx="501.0" cy="40.9" r="0.5" fill="rgb(114,114,114)" opacity="0.85"/>
<circle cx="422.8" cy="95.5" r="0.9" fill="rgb(251,251,251)" opacity="0.84"/>
<circle cx="472.4" cy="67.4" r="0.7" fill="rgb(210,210,210)" opacity="0.83"/>
<circle cx="505.1" cy="84.0" r="0.5" fill="rgb(213,213,213)" opacity="0.84"/>
<circle cx="500.2" cy="53.9" r="0.7" fill="rgb(239,239,239)" opacity="0.67"/>
<circle cx="492.3" cy="90.7" r="0.6" fill="rgb(121,121,121)" opacity="0.55"/>
<circle cx="538.2" cy="47.2" r="0.7" fill="rgb(118,118,118)" opacity="0.83"/>
<circle cx="454.2" cy="86.4" r="0.5" fill="rgb(173,173,173)" opacity="0.58"/>
<circle cx="438.1" cy="78.2" r="0.7" fill="rgb(210,210,210)" opacity="0.31"/>
<circle cx="514.3" cy="79.4" r="0.8" fill="rgb(193,193,193)" opacity="0.70"/>
<circle cx="438.8" cy="94.5" r="1.0" fill="rgb(147,147,147)" opacity="0.32"/>
<circle cx="527.1" cy="83.0" r="0.9" fill="rgb(239,239,239)" opacity="0.38"/>
<circle cx="510.6" cy="76.1" r="0.9" fill="rgb(114,114,114)" opacity="0.75"/>
<circle cx="465.8" cy="62.3" r="1.0" fill="rgb(122,122,122)" opacity="0.65"/>
<circle cx="452.4" cy="62.9" r="0.9" fill="rgb(127,127,127)" opacity="0.71"/>
<circle cx="527.8" cy="19.8" r="1.0" fill="rgb(244,244,244)" opacity="0.34"/>
<circle cx="477.4" cy="104.5" r="0.6" fill="rgb(177,177,177)" opacity="0.43"/>
<circle cx="448.5" cy="85.7" r="0.8" fill="rgb(227,227,227)" opacity="0.57"/>
<circle cx="492.4" cy="48.1" r="0.6" fill="rgb(187,187,187)" opacity="0.64"/>
<circle cx="453.0" cy="88.3" r="0.7" fill="rgb(165,165,165)" opacity="0.67"/>
<circle cx="505.4" cy="42.7" r="0.5" fill="rgb(229,229,229)" opacity="0.56"/>
<circle cx="539.2" cy="73.8" r="0.8" fill="rgb(189,189,189)" opacity="0.84"/>
<circle cx="446.1" cy="77.6" r="0.7" fill="rgb(146,146,146)" opacity="0.71"/>
<circle cx="534.4" cy="24.6" r="0.5" fill="rgb(240,240,240)" opacity="0.45"/>
<circle cx="504.7" cy="36.3" r="0.6" fill="rgb(234,234,234)" opacity="0.52"/>
<circle cx="421.4" cy="67.0" r="1.0" fill="rgb(225,225,225)" opacity="0.52"/>
<circle cx="421.2" cy="97.6" r="0.6" fill="rgb(211,211,211)" opacity="0.37"/>
<circle cx="491.1" cy="51.6" r="0.5" fill="rgb(219,219,219)" opacity="0.72"/>
<circle cx="499.8" cy="83.9" r="0.7" fill="rgb(148,148,148)" opacity="0.44"/>
<circle cx="511.6" cy="56.2" r="1.0" fill="rgb(251,251,251)" opacity="0.60"/>
<circle cx="469.9" cy="81.6" r="0.7" fill="rgb(145,145,145)" opacity="0.65"/>
<circle cx="451.4" cy="96.2" r="0.6" fill="rgb(176,176,176)" opacity="0.52"/>
<circle cx="456.8" cy="74.8" r="1.0" fill="rgb(210,210,210)" opacity="0.37"/>
<circle cx="528.8" cy="67.7" r="0.7" fill="rgb(166,166,166)" opacity="0.55"/>
<circle cx="539.6" cy="62.1" r="0.6" fill="rgb(145,145,145)" opacity="0.60"/>
<circle cx="451.7" cy="76.2" r="0.8" fill="rgb(115,115,115)" opacity="0.71"/>
<circle cx="466.6" cy="97.0" r="0.7" fill="rgb(163,163,163)" opacity="0.51"/>
<circle cx="510.5" cy="67.8" r="0.9" fill="rgb(202,202,202)" opacity="0.37"/>
<circle cx="484.0" cy="102.3" r="0.6" fill="rgb(165,165,165)" opacity="0.35"/>
<circle cx="466.8" cy="85.2" r="0.5" fill="rgb(220,220,220)" opacity="0.82"/>
<circle cx="536.2" cy="66.8" r="0.9" fill="rgb(128,128,128)" opacity="0.52"/>
<circle cx="439.4" cy="70.6" r="1.0" fill="rgb(137,137,137)" opacity="0.82"/>
<circle cx="527.5" cy="19.0" r="0.6" fill="rgb(120,120,120)" opacity="0.30"/>
<circle cx="497.8" cy="44.8" r="0.9" fill="rgb(142,142,142)" opacity="0.64"/>
<circle cx="496.7" cy="91.4" r="0.7" fill="rgb(138,138,138)" opacity="0.35"/>
<circle cx="483.4" cy="77.8" r="0.9" fill="rgb(209,209,209)" opacity="0.44"/>
<circle cx="421.1" cy="72.4" r="0.7" fill="rgb(227,227,227)" opacity="0.45"/>
<circle cx="504.9" cy="45.3" r="1.0" fill="rgb(115,115,115)" opacity="0.41"/>
<circle cx="448.1" cy="59.1" r="0.5" fill="rgb(204,204,204)" opacity="0.42"/>
<circle cx="464.1" cy="55.8" r="1.0" fill="rgb(111,111,111)" opacity="0.74"/>
<circle cx="521.6" cy="17.0" r="0.7" fill="rgb(236,236,236)" opacity="0.83"/>
<circle cx="512.1" cy="31.9" r="0.7" fill="rgb(229,229,229)" opacity="0.42"/>
<circle cx="434.0" cy="82.6" r="0.8" fill="rgb(157,157,157)" opacity="0.79"/>
<circle cx="470.6" cy="87.5" r="0.5" fill="rgb(147,147,147)" opacity="0.81"/>
<circle cx="531.9" cy="47.9" r="0.9" fill="rgb(157,157,157)" opacity="0.66"/>
<circle cx="500.1" cy="53.7" r="0.8" fill="rgb(205,205,205)" opacity="0.84"/>
<circle cx="534.7" cy="23.6" r="0.7" fill="rgb(163,163,163)" opacity="0.51"/>
<circle cx="518.8" cy="60.0" r="0.6" fill="rgb(122,122,122)" opacity="0.69"/>
<circle cx="527.7" cy="12.6" r="1.0" fill="rgb(215,215,215)" opacity="0.44"/>
<circle cx="530.5" cy="39.3" r="0.7" fill="rgb(126,126,126)" opacity="0.79"/>
<circle cx="534.5" cy="14.1" r="0.7" fill="rgb(191,191,191)" opacity="0.81"/>
<circle cx="421.4" cy="98.2" r="0.6" fill="rgb(126,126,126)" opacity="0.31"/>
<circle cx="433.8" cy="93.4" r="0.8" fill="rgb(229,229,229)" opacity="0.82"/>
<circle cx="518.0" cy="24.7" r="1.0" fill="rgb(237,237,237)" opacity="0.40"/>
<circle cx="457.1" cy="90.7" r="0.7" fill="rgb(148,148,148)" opacity="0.63"/>
<circle cx="523.5" cy="63.4" r="0.8" fill="rgb(130,130,130)" opacity="0.58"/>
<circle cx="510.6" cy="38.2" r="0.8" fill="rgb(126,126,126)" opacity="0.66"/>
<circle cx="486.8" cy="47.4" r="0.5" fill="rgb(219,219,219)" opacity="0.79"/>
<circle cx="432.5" cy="67.8" r="0.6" fill="rgb(224,224,224)" opacity="0.40"/>
<circle cx="470.6" cy="82.2" r="1.0" fill="rgb(170,170,170)" opacity="0.71"/>
<circle cx="452.0" cy="60.8" r="0.6" fill="rgb(157,157,157)" opacity="0.43"/>
<circle cx="483.6" cy="85.7" r="0.5" fill="rgb(135,135,135)" opacity="0.66"/>
<circle cx="433.2" cy="65.0" r="0.7" fill="rgb(169,169,169)" opacity="0.76"/>
<circle cx="536.8" cy="77.8" r="0.6" fill="rgb(129,129,129)" opacity="0.50"/>
<circle cx="433.6" cy="79.3" r="0.7" fill="rgb(199,199,199)" opacity="0.42"/>
<circle cx="540.0" cy="13.5" r="0.7" fill="rgb(162,162,162)" opacity="0.75"/>
<circle cx="469.7" cy="52.9" r="0.5" fill="rgb(189,189,189)" opacity="0.34"/>
<circle cx="515.6" cy="73.7" r="0.8" fill="rgb(126,126,126)" opacity="0.52"/>
<circle cx="484.5" cy="86.1" r="0.8" fill="rgb(211,211,211)" opacity="0.68"/>
<circle cx="497.7" cy="55.1" r="0.5" fill="rgb(213,213,213)" opacity="0.41"/>
<circle cx="489.8" cy="52.0" r="0.5" fill="rgb(151,151,151)" opacity="0.37"/>
<circle cx="486.6" cy="84.6" r="0.9" fill="rgb(211,211,211)" opacity="0.35"/>
<circle cx="516.8" cy="44.6" r="0.8" fill="rgb(121,121,121)" opacity="0.84"/>
<circle cx="458.4" cy="80.7" r="1.0" fill="rgb(209,209,209)" opacity="0.35"/>
<circle cx="440.1" cy="101.7" r="0.9" fill="rgb(166,166,166)" opacity="0.64"/>
<circle cx="468.6" cy="70.1" r="0.6" fill="rgb(208,208,208)" opacity="0.50"/>
<circle cx="450.4" cy="94.5" r="0.9" fill="rgb(159,159,159)" opacity="0.32"/>
<circle cx="500.5" cy="47.3" r="0.9" fill="rgb(209,209,209)" opacity="0.63"/>
<circle cx="498.2" cy="45.4" r="1.0" fill="rgb(173,173,173)" opacity="0.53"/>
<circle cx="464.7" cy="68.4" r="0.9" fill="rgb(155,155,155)" opacity="0.31"/>
<circle cx="538.4" cy="63.9" r="0.8" fill="rgb(224,224,224)" opacity="0.72"/>
<circle cx="463.7" cy="52.1" r="1.0" fill="rgb(223,223,223)" opacity="0.58"/>
<circle cx="425.9" cy="84.1" r="0.7" fill="rgb(131,131,131)" opacity="0.81"/>
<circle cx="513.5" cy="69.4" r="0.8" fill="rgb(123,123,123)" opacity="0.71"/>
<circle cx="494.1" cy="90.7" r="0.8" fill="rgb(138,138,138)" opacity="0.41"/>
<circle cx="455.3" cy="104.7" r="1.0" fill="rgb(152,152,152)" opacity="0.68"/>
<circle cx="531.7" cy="16.7" r="0.7" fill="rgb(199,199,199)" opacity="0.64"/>
<circle cx="453.7" cy="105.2" r="0.8" fill="rgb(146,146,146)" opacity="0.44"/>
<circle cx="481.2" cy="46.7" r="0.8" fill="rgb(119,119,119)" opacity="0.41"/>
<circle cx="441.1" cy="101.6" r="0.5" fill="rgb(139,139,139)" opacity="0.72"/>
<circle cx="496.7" cy="51.5" r="0.9" fill="rgb(225,225,225)" opacity="0.61"/>
<circle cx="451.0" cy="72.2" r="0.7" fill="rgb(210,210,210)" opacity="0.71"/>
<circle cx="489.7" cy="51.5" r="0.6" fill="rgb(130,130,130)" opacity="0.54"/>
<circle cx="456.3" cy="69.9" r="0.9" fill="rgb(189,189,189)" opacity="0.65"/>
<circle cx="495.4" cy="58.3" r="0.6" fill="rgb(203,203,203)" opacity="0.79"/>
<circle cx="479.1" cy="81.3" r="0.5" fill="rgb(121,121,121)" opacity="0.31"/>
<circle cx="488.5" cy="44.8" r="0.6" fill="rgb(243,243,243)" opacity="0.50"/>
<circle cx="519.6" cy="27.7" r="0.6" fill="rgb(113,113,113)" opacity="0.82"/>
<circle cx="505.2" cy="62.2" r="1.0" fill="rgb(126,126,126)" opacity="0.65"/>
<circle cx="514.1" cy="56.4" r="0.5" fill="rgb(177,177,177)" opacity="0.83"/>
<circle cx="497.7" cy="75.4" r="0.9" fill="rgb(199,199,199)" opacity="0.63"/>
<circle cx="508.3" cy="38.3" r="0.9" fill="rgb(110,110,110)" opacity="0.32"/>
<circle cx="433.5" cy="81.3" r="0.6" fill="rgb(160,160,160)" opacity="0.38"/>
<circle cx="482.7" cy="84.8" r="0.6" fill="rgb(216,216,216)" opacity="0.75"/>
<circle cx="507.2" cy="65.4" r="0.8" fill="rgb(247,247,247)" opacity="0.30"/>
<circle cx="509.7" cy="63.9" r="0.5" fill="rgb(225,225,225)" opacity="0.40"/>
<circle cx="452.1" cy="85.0" r="1.0" fill="rgb(141,141,141)" opacity="0.48"/>
<circle cx="496.7" cy="89.1" r="0.7" fill="rgb(243,243,243)" opacity="0.83"/>
<circle cx="449.1" cy="96.8" r="0.7" fill="rgb(150,150,150)" opacity="0.71"/>
<circle cx="492.5" cy="53.8" r="0.9" fill="rgb(247,247,247)" opacity="0.56"/>
<circle cx="473.0" cy="94.5" r="0.8" fill="rgb(188,188,188)" opacity="0.73"/>
<circle cx="529.4" cy="26.1" r="0.9" fill="rgb(116,116,116)" opacity="0.36"/>
<circle cx="531.5" cy="49.7" r="0.5" fill="rgb(146,146,146)" opacity="0.69"/>
<circle cx="426.0" cy="90.7" r="1.0" fill="rgb(120,120,120)" opacity="0.68"/>
<circle cx="511.7" cy="32.5" r="0.5" fill="rgb(246,246,246)" opacity="0.79"/>
<circle cx="505.6" cy="54.3" r="0.5" fill="rgb(173,173,173)" opacity="0.41"/>
<circle cx="431.4" cy="97.7" r="0.6" fill="rgb(183,183,183)" opacity="0.56"/>
<circle cx="432.6" cy="98.4" r="0.7" fill="rgb(162,162,162)" opacity="0.46"/>
<circle cx="506.2" cy="52.4" r="0.9" fill="rgb(192,192,192)" opacity="0.72"/>
<circle cx="470.1" cy="60.5" r="1.0" fill="rgb(135,135,135)" opacity="0.49"/>
<circle cx="426.7" cy="75.8" r="0.7" fill="rgb(133,133,133)" opacity="0.62"/>
<circle cx="445.0" cy="98.9" r="0.8" fill="rgb(123,123,123)" opacity="0.30"/>
<circle cx="432.4" cy="91.0" r="0.9" fill="rgb(157,157,157)" opacity="0.83"/>
<circle cx="504.2" cy="67.8" r="0.5" fill="rgb(138,138,138)" opacity="0.82"/>
<circle cx="509.7" cy="58.8" r="0.7" fill="rgb(116,116,116)" opacity="0.50"/>
<circle cx="480.6" cy="53.8" r="0.6" fill="rgb(169,169,169)" opacity="0.82"/>
<circle cx="484.3" cy="98.0" r="0.7" fill="rgb(118,118,118)" opacity="0.49"/>
<circle cx="474.6" cy="74.3" r="0.8" fill="rgb(192,192,192)" opacity="0.39"/>
<circle cx="503.0" cy="39.4" r="0.8" fill="rgb(169,169,169)" opacity="0.37"/>
<circle cx="497.5" cy="91.2" r="0.7" fill="rgb(239,239,239)" opacity="0.41"/>
<circle cx="494.5" cy="94.4" r="0.9" fill="rgb(173,173,173)" opacity="0.70"/>
<circle cx="508.3" cy="60.3" r="0.5" fill="rgb(160,160,160)" opacity="0.36"/>
<circle cx="522.7" cy="60.5" r="1.0" fill="rgb(166,166,166)" opacity="0.58"/>
<circle cx="451.6" cy="96.1" r="0.8" fill="rgb(111,111,111)" opacity="0.71"/>
<circle cx="504.4" cy="78.3" r="1.0" fill="rgb(217,217,217)" opacity="0.77"/>
<circle cx="497.3" cy="62.6" r="1.0" fill="rgb(190,190,190)" opacity="0.44"/>
<circle cx="495.9" cy="38.5" r="0.5" fill="rgb(218,218,218)" opacity="0.57"/>
<circle cx="495.0" cy="57.3" r="0.7" fill="rgb(156,156,156)" opacity="0.79"/>
<circle cx="513.6" cy="54.9" r="0.5" fill="rgb(235,235,235)" opacity="0.80"/>
<circle cx="425.5" cy="73.1" r="0.6" fill="rgb(151,151,151)" opacity="0.69"/>
<circle cx="489.4" cy="72.8" r="1.0" fill="rgb(231,231,231)" opacity="0.58"/>
<circle cx="515.3" cy="52.6" r="0.8" fill="rgb(197,197,197)" opacity="0.53"/>
<circle cx="446.0" cy="89.8" r="0.5" fill="rgb(210,210,210)" opacity="0.58"/>
<circle cx="507.8" cy="81.5" r="0.8" fill="rgb(124,124,124)" opacity="0.44"/>
<circle cx="470.8" cy="58.6" r="0.5" fill="rgb(200,200,200)" opacity="0.62"/>
<circle cx="447.7" cy="96.5" r="0.8" fill="rgb(244,244,244)" opacity="0.83"/>
<circle cx="531.6" cy="17.1" r="0.9" fill="rgb(159,159,159)" opacity="0.56"/>
<circle cx="438.4" cy="87.6" r="0.7" fill="rgb(215,215,215)" opacity="0.56"/>
<circle cx="511.4" cy="85.7" r="0.6" fill="rgb(230,230,230)" opacity="0.50"/>
<circle cx="451.2" cy="59.3" r="1.0" fill="rgb(157,157,157)" opacity="0.56"/>
<circle cx="516.1" cy="51.2" r="0.8" fill="rgb(187,187,187)" opacity="0.48"/>
<circle cx="472.0" cy="84.2" r="0.7" fill="rgb(202,202,202)" opacity="0.38"/>
<circle cx="522.7" cy="15.7" r="0.6" fill="rgb(254,254,254)" opacity="0.80"/>
<circle cx="484.1" cy="49.7" r="0.6" fill="rgb(113,113,113)" opacity="0.66"/>
<circle cx="513.4" cy="49.9" r="0.8" fill="rgb(149,149,149)" opacity="0.41"/>
<circle cx="515.2" cy="28.8" r="0.9" fill="rgb(133,133,133)" opacity="0.67"/>
<circle cx="444.5" cy="90.7" r="0.8" fill="rgb(245,245,245)" opacity="0.34"/>
<circle cx="519.4" cy="64.8" r="0.8" fill="rgb(252,252,252)" opacity="0.33"/>
<circle cx="492.4" cy="95.7" r="0.8" fill="rgb(151,151,151)" opacity="0.76"/>
<circle cx="503.8" cy="67.7" r="0.7" fill="rgb(185,185,185)" opacity="0.76"/>
<circle cx="463.9" cy="85.3" r="1.0" fill="rgb(115,115,115)" opacity="0.64"/>
<circle cx="517.2" cy="20.1" r="0.6" fill="rgb(233,233,233)" opacity="0.57"/>
<circle cx="425.0" cy="93.7" r="1.0" fill="rgb(142,142,142)" opacity="0.49"/>
<circle cx="464.6" cy="65.0" r="0.6" fill="rgb(244,244,244)" opacity="0.60"/>
<circle cx="479.8" cy="48.4" r="0.7" fill="rgb(179,179,179)" opacity="0.78"/>
<circle cx="515.2" cy="48.0" r="0.6" fill="rgb(191,191,191)" opacity="0.69"/>
<circle cx="490.8" cy="83.9" r="0.9" fill="rgb(120,120,120)" opacity="0.52"/>
<circle cx="526.4" cy="73.4" r="0.5" fill="rgb(122,122,122)" opacity="0.52"/>
<circle cx="530.7" cy="80.8" r="0.9" fill="rgb(125,125,125)" opacity="0.73"/>
<circle cx="493.8" cy="81.8" r="1.0" fill="rgb(131,131,131)" opacity="0.42"/>
<circle cx="496.4" cy="82.8" r="0.6" fill="rgb(154,154,154)" opacity="0.36"/>
<circle cx="524.4" cy="58.7" r="1.0" fill="rgb(135,135,135)" opacity="0.80"/>
<circle cx="423.4" cy="75.8" r="0.9" fill="rgb(123,123,123)" opacity="0.57"/>
<circle cx="517.4" cy="76.9" r="0.5" fill="rgb(213,213,213)" opacity="0.55"/>
<circle cx="501.9" cy="79.1" r="0.8" fill="rgb(149,149,149)" opacity="0.56"/>
<circle cx="495.6" cy="59.4" r="0.5" fill="rgb(112,112,112)" opacity="0.68"/>
<circle cx="488.7" cy="62.2" r="0.7" fill="rgb(157,157,157)" opacity="0.81"/>
<circle cx="431.0" cy="83.2" r="0.7" fill="rgb(237,237,237)" opacity="0.55"/>
<circle cx="529.7" cy="15.2" r="0.5" fill="rgb(118,118,118)" opacity="0.31"/>
<circle cx="494.6" cy="54.9" r="0.6" fill="rgb(189,189,189)" opacity="0.70"/>
<circle cx="493.5" cy="46.3" r="0.6" fill="rgb(222,222,222)" opacity="0.56"/>
<circle cx="438.2" cy="103.1" r="0.6" fill="rgb(202,202,202)" opacity="0.82"/>
<circle cx="495.9" cy="58.3" r="0.8" fill="rgb(208,208,208)" opacity="0.73"/>
<circle cx="488.5" cy="43.5" r="1.0" fill="rgb(125,125,125)" opacity="0.64"/>
<circle cx="460.5" cy="80.5" r="0.9" fill="rgb(113,113,113)" opacity="0.76"/>
<circle cx="520.1" cy="78.0" r="1.0" fill="rgb(173,173,173)" opacity="0.51"/>
<circle cx="465.8" cy="100.0" r="0.7" fill="rgb(169,169,169)" opacity="0.74"/>
<circle cx="502.9" cy="46.9" r="0.9" fill="rgb(178,178,178)" opacity="0.53"/>
<circle cx="514.2" cy="43.0" r="0.9" fill="rgb(146,146,146)" opacity="0.75"/>
<circle cx="515.9" cy="73.6" r="0.5" fill="rgb(237,237,237)" opacity="0.49"/>
<circle cx="485.3" cy="66.2" r="1.0" fill="rgb(207,207,207)" opacity="0.41"/>
<circle cx="531.9" cy="36.6" r="0.8" fill="rgb(124,124,124)" opacity="0.67"/>
<circle cx="466.8" cy="72.8" r="0.5" fill="rgb(247,247,247)" opacity="0.74"/>
<circle cx="448.7" cy="77.4" r="0.9" fill="rgb(176,176,176)" opacity="0.79"/>
<circle cx="459.2" cy="68.7" r="0.6" fill="rgb(161,161,161)" opacity="0.40"/>
<circle cx="455.5" cy="77.2" r="0.9" fill="rgb(201,201,201)" opacity="0.52"/>
<circle cx="523.0" cy="38.1" r="0.5" fill="rgb(236,236,236)" opacity="0.51"/>
<circle cx="465.2" cy="63.7" r="0.9" fill="rgb(130,130,130)" opacity="0.39"/>
<circle cx="488.3" cy="78.2" r="0.7" fill="rgb(164,164,164)" opacity="0.44"/>
<circle cx="535.7" cy="39.0" r="0.6" fill="rgb(119,119,119)" opacity="0.49"/>
<circle cx="505.0" cy="66.4" r="1.0" fill="rgb(126,126,126)" opacity="0.77"/>
<circle cx="535.2" cy="39.3" r="0.5" fill="rgb(254,254,254)" opacity="0.43"/>
<circle cx="467.8" cy="61.9" r="0.6" fill="rgb(150,150,150)" opacity="0.50"/>
<circle cx="539.0" cy="35.2" r="0.7" fill="rgb(119,119,119)" opacity="0.82"/>
<circle cx="428.1" cy="74.2" r="0.5" fill="rgb(117,117,117)" opacity="0.76"/>
<circle cx="451.7" cy="69.6" r="0.6" fill="rgb(233,233,233)" opacity="0.33"/>
<circle cx="444.7" cy="97.3" r="0.5" fill="rgb(222,222,222)" opacity="0.72"/>
<circle cx="477.0" cy="52.9" r="0.8" fill="rgb(209,209,209)" opacity="0.37"/>
<circle cx="466.2" cy="61.1" r="0.5" fill="rgb(146,146,146)" opacity="0.80"/>
<circle cx="516.1" cy="27.5" r="0.9" fill="rgb(166,166,166)" opacity="0.34"/>
<circle cx="437.6" cy="61.8" r="0.8" fill="rgb(134,134,134)" opacity="0.81"/>
<circle cx="521.2" cy="83.1" r="0.7" fill="rgb(225,225,225)" opacity="0.83"/>
<circle cx="518.9" cy="65.3" r="0.6" fill="rgb(203,203,203)" opacity="0.38"/>
<circle cx="508.6" cy="30.3" r="0.6" fill="rgb(225,225,225)" opacity="0.60"/>
<circle cx="424.0" cy="76.4" r="0.6" fill="rgb(185,185,185)" opacity="0.48"/>
<circle cx="475.3" cy="65.9" r="0.5" fill="rgb(149,149,149)" opacity="0.84"/>
<circle cx="531.1" cy="75.1" r="0.6" fill="rgb(183,183,183)" opacity="0.37"/>
<circle cx="536.5" cy="60.0" r="0.6" fill="rgb(176,176,176)" opacity="0.85"/>
<circle cx="527.6" cy="15.8" r="1.0" fill="rgb(185,185,185)" opacity="0.38"/>
<circle cx="447.0" cy="76.4" r="0.9" fill="rgb(145,145,145)" opacity="0.76"/>
<circle cx="431.4" cy="80.8" r="0.6" fill="rgb(236,236,236)" opacity="0.72"/>
<circle cx="445.5" cy="81.3" r="0.6" fill="rgb(159,159,159)" opacity="0.62"/>
<circle cx="422.2" cy="90.7" r="1.0" fill="rgb(243,243,243)" opacity="0.52"/>
<circle cx="530.0" cy="70.2" r="1.0" fill="rgb(198,198,198)" opacity="0.48"/>
<circle cx="523.9" cy="67.2" r="0.8" fill="rgb(113,113,113)" opacity="0.53"/>
<circle cx="436.9" cy="87.5" r="0.7" fill="rgb(173,173,173)" opacity="0.40"/>
<circle cx="425.4" cy="91.9" r="0.8" fill="rgb(111,111,111)" opacity="0.50"/>
<circle cx="536.3" cy="17.4" r="0.7" fill="rgb(201,201,201)" opacity="0.69"/>
<circle cx="508.0" cy="61.7" r="0.9" fill="rgb(116,116,116)" opacity="0.59"/>
<circle cx="431.5" cy="82.1" r="0.7" fill="rgb(152,152,152)" opacity="0.36"/>
<circle cx="508.9" cy="39.8" r="1.0" fill="rgb(228,228,228)" opacity="0.59"/>
<circle cx="473.9" cy="50.4" r="0.5" fill="rgb(134,134,134)" opacity="0.69"/>
<circle cx="453.5" cy="63.9" r="0.5" fill="rgb(238,238,238)" opacity="0.72"/>
<circle cx="437.3" cy="78.8" r="0.9" fill="rgb(168,168,168)" opacity="0.38"/>
<circle cx="476.0" cy="55.8" r="0.8" fill="rgb(114,114,114)" opacity="0.82"/>
<circle cx="503.6" cy="79.5" r="0.5" fill="rgb(244,244,244)" opacity="0.32"/>
<circle cx="513.5" cy="48.9" r="1.0" fill="rgb(171,171,171)" opacity="0.76"/>
<circle cx="427.4" cy="70.1" r="0.8" fill="rgb(200,200,200)" opacity="0.44"/>
<circle cx="500.6" cy="35.6" r="0.8" fill="rgb(217,217,217)" opacity="0.83"/>
<circle cx="425.1" cy="84.7" r="0.9" fill="rgb(178,178,178)" opacity="0.80"/>
<circle cx="453.5" cy="73.0" r="0.7" fill="rgb(119,119,119)" opacity="0.64"/>
<circle cx="528.3" cy="19.0" r="0.8" fill="rgb(246,246,246)" opacity="0.81"/>
<circle cx="455.9" cy="57.0" r="1.0" fill="rgb(183,183,183)" opacity="0.45"/>
<circle cx="431.5" cy="73.5" r="0.9" fill="rgb(226,226,226)" opacity="0.64"/>
<circle cx="486.3" cy="52.3" r="0.8" fill="rgb(250,250,250)" opacity="0.47"/>
<circle cx="482.0" cy="54.2" r="0.7" fill="rgb(211,211,211)" opacity="0.31"/>
<circle cx="423.6" cy="74.0" r="0.5" fill="rgb(199,199,199)" opacity="0.54"/>
<circle cx="463.1" cy="99.0" r="1.0" fill="rgb(243,243,243)" opacity="0.42"/>
<circle cx="508.9" cy="27.2" r="0.6" fill="rgb(196,196,196)" opacity="0.67"/>
<circle cx="501.4" cy="81.7" r="0.9" fill="rgb(180,180,180)" opacity="0.75"/>
<circle cx="453.0" cy="83.4" r="0.5" fill="rgb(142,142,142)" opacity="0.53"/>
<circle cx="421.5" cy="99.3" r="0.9" fill="rgb(140,140,140)" opacity="0.57"/>
<circle cx="454.2" cy="82.3" r="0.8" fill="rgb(138,138,138)" opacity="0.51"/>
<circle cx="503.4" cy="43.0" r="0.8" fill="rgb(200,200,200)" opacity="0.46"/>
<circle cx="483.6" cy="79.3" r="1.0" fill="rgb(192,192,192)" opacity="0.30"/>
<circle cx="522.1" cy="67.9" r="0.9" fill="rgb(223,223,223)" opacity="0.47"/>
<circle cx="489.5" cy="77.6" r="0.7" fill="rgb(132,132,132)" opacity="0.75"/>
<circle cx="445.3" cy="59.3" r="0.7" fill="rgb(112,112,112)" opacity="0.31"/>
<circle cx="488.2" cy="67.7" r="0.9" fill="rgb(247,247,247)" opacity="0.73"/>
<circle cx="494.8" cy="60.6" r="0.8" fill="rgb(242,242,242)" opacity="0.70"/>
<circle cx="467.4" cy="51.2" r="0.5" fill="rgb(199,199,199)" opacity="0.55"/>
<circle cx="501.5" cy="71.0" r="0.9" fill="rgb(135,135,135)" opacity="0.53"/>
<circle cx="468.7" cy="75.2" r="0.8" fill="rgb(149,149,149)" opacity="0.78"/>
<circle cx="478.9" cy="60.9" r="1.0" fill="rgb(197,197,197)" opacity="0.68"/>
<circle cx="518.1" cy="29.1" r="0.5" fill="rgb(191,191,191)" opacity="0.50"/>
<circle cx="519.3" cy="69.5" r="0.7" fill="rgb(138,138,138)" opacity="0.66"/>
<circle cx="455.5" cy="69.4" r="0.8" fill="rgb(239,239,239)" opacity="0.79"/>
<circle cx="442.7" cy="83.4" r="1.0" fill="rgb(137,137,137)" opacity="0.49"/>
<circle cx="470.0" cy="101.9" r="0.9" fill="rgb(188,188,188)" opacity="0.69"/>
<circle cx="521.2" cy="78.2" r="0.8" fill="rgb(117,117,117)" opacity="0.41"/>
<circle cx="512.5" cy="75.9" r="0.6" fill="rgb(246,246,246)" opacity="0.58"/>
<circle cx="489.4" cy="57.5" r="0.9" fill="rgb(141,141,141)" opacity="0.38"/>
<circle cx="512.7" cy="47.1" r="0.6" fill="rgb(170,170,170)" opacity="0.49"/>
<circle cx="424.9" cy="83.2" r="0.8" fill="rgb(126,126,126)" opacity="0.49"/>
<circle cx="475.2" cy="58.4" r="0.8" fill="rgb(174,174,174)" opacity="0.83"/>
<circle cx="537.6" cy="17.0" r="0.9" fill="rgb(209,209,209)" opacity="0.67"/>
<circle cx="525.2" cy="66.2" r="0.6" fill="rgb(172,172,172)" opacity="0.35"/>
<circle cx="536.6" cy="43.3" r="0.7" fill="rgb(253,253,253)" opacity="0.50"/>
<circle cx="484.5" cy="54.5" r="0.5" fill="rgb(213,213,213)" opacity="0.66"/>
<circle cx="486.9" cy="54.7" r="0.6" fill="rgb(229,229,229)" opacity="0.46"/>
<circle cx="424.0" cy="104.0" r="0.5" fill="rgb(171,171,171)" opacity="0.69"/>
<circle cx="444.4" cy="73.3" r="0.8" fill="rgb(142,142,142)" opacity="0.61"/>
<circle cx="507.0" cy="53.5" r="0.8" fill="rgb(163,163,163)" opacity="0.46"/>
<circle cx="505.1" cy="39.8" r="0.7" fill="rgb(222,222,222)" opacity="0.62"/>
<circle cx="484.6" cy="56.7" r="0.5" fill="rgb(240,240,240)" opacity="0.42"/>
<circle cx="506.5" cy="26.1" r="0.5" fill="rgb(113,113,113)" opacity="0.51"/>
<circle cx="527.1" cy="17.0" r="0.7" fill="rgb(202,202,202)" opacity="0.74"/>
<circle cx="443.9" cy="93.8" r="0.6" fill="rgb(132,132,132)" opacity="0.42"/>
<circle cx="518.2" cy="56.1" r="0.8" fill="rgb(201,201,201)" opacity="0.52"/>
<circle cx="523.5" cy="24.6" r="0.7" fill="rgb(180,180,180)" opacity="0.40"/>
<circle cx="501.9" cy="87.3" r="0.5" fill="rgb(199,199,199)" opacity="0.79"/>
<circle cx="499.4" cy="91.5" r="0.8" fill="rgb(173,173,173)" opacity="0.85"/>
<circle cx="462.9" cy="83.2" r="0.7" fill="rgb(156,156,156)" opacity="0.46"/>
<circle cx="458.0" cy="84.3" r="0.6" fill="rgb(155,155,155)" opacity="0.61"/>
<circle cx="488.8" cy="93.6" r="1.0" fill="rgb(175,175,175)" opacity="0.81"/>
<circle cx="502.4" cy="50.2" r="1.0" fill="rgb(110,110,110)" opacity="0.36"/>
<circle cx="522.6" cy="80.7" r="1.0" fill="rgb(122,122,122)" opacity="0.84"/>
<circle cx="434.2" cy="102.4" r="0.7" fill="rgb(163,163,163)" opacity="0.73"/>
<circle cx="503.7" cy="55.4" r="0.5" fill="rgb(166,166,166)" opacity="0.45"/>
<circle cx="473.7" cy="49.2" r="1.0" fill="rgb(238,238,238)" opacity="0.71"/>
<circle cx="495.5" cy="69.0" r="0.9" fill="rgb(162,162,162)" opacity="0.54"/>
<circle cx="440.5" cy="101.1" r="0.6" fill="rgb(170,170,170)" opacity="0.60"/>
<circle cx="535.7" cy="28.8" r="0.6" fill="rgb(198,198,198)" opacity="0.53"/>
<circle cx="502.7" cy="66.4" r="0.6" fill="rgb(233,233,233)" opacity="0.43"/>
<circle cx="421.7" cy="90.6" r="0.7" fill="rgb(144,144,144)" opacity="0.81"/>
<circle cx="505.2" cy="78.3" r="0.5" fill="rgb(171,171,171)" opacity="0.48"/>
<circle cx="486.2" cy="98.7" r="0.6" fill="rgb(153,153,153)" opacity="0.67"/>
<circle cx="492.2" cy="63.4" r="0.5" fill="rgb(213,213,213)" opacity="0.76"/>
<circle cx="527.6" cy="44.9" r="0.8" fill="rgb(138,138,138)" opacity="0.69"/>
<circle cx="535.6" cy="28.0" r="0.7" fill="rgb(223,223,223)" opacity="0.56"/>
<circle cx="455.5" cy="74.8" r="0.8" fill="rgb(121,121,121)" opacity="0.31"/>
<circle cx="431.0" cy="93.6" r="1.0" fill="rgb(254,254,254)" opacity="0.45"/>
<circle cx="479.2" cy="60.2" r="0.7" fill="rgb(158,158,158)" opacity="0.73"/>
<circle cx="497.7" cy="83.1" r="0.5" fill="rgb(174,174,174)" opacity="0.66"/>
<circle cx="531.3" cy="28.9" r="0.7" fill="rgb(189,189,189)" opacity="0.71"/>
<circle cx="466.1" cy="85.4" r="0.7" fill="rgb(201,201,201)" opacity="0.48"/>
<circle cx="520.7" cy="38.9" r="0.9" fill="rgb(124,124,124)" opacity="0.32"/>
<circle cx="540.0" cy="56.6" r="0.8" fill="rgb(122,122,122)" opacity="0.82"/>
<circle cx="471.3" cy="95.2" r="1.0" fill="rgb(186,186,186)" opacity="0.63"/>
<circle cx="430.5" cy="90.2" r="1.0" fill="rgb(151,151,151)" opacity="0.38"/>
<circle cx="536.4" cy="19.6" r="0.8" fill="rgb(120,120,120)" opacity="0.77"/>
<circle cx="443.7" cy="94.3" r="0.9" fill="rgb(110,110,110)" opacity="0.32"/>
<circle cx="499.7" cy="69.7" r="0.5" fill="rgb(217,217,217)" opacity="0.79"/>
<circle cx="473.2" cy="87.6" r="0.6" fill="rgb(155,155,155)" opacity="0.80"/>
<circle cx="488.5" cy="64.3" r="0.8" fill="rgb(248,248,248)" opacity="0.48"/>
<circle cx="472.0" cy="72.1" r="0.9" fill="rgb(149,149,149)" opacity="0.84"/>
<circle cx="428.1" cy="88.8" r="0.8" fill="rgb(186,186,186)" opacity="0.61"/>
<circle cx="534.4" cy="65.7" r="0.7" fill="rgb(145,145,145)" opacity="0.46"/>
<circle cx="484.1" cy="83.8" r="1.0" fill="rgb(158,158,158)" opacity="0.42"/>
<circle cx="499.6" cy="52.9" r="0.6" fill="rgb(216,216,216)" opacity="0.50"/>
<circle cx="488.2" cy="55.8" r="0.6" fill="rgb(139,139,139)" opacity="0.42"/>
<circle cx="523.6" cy="38.9" r="1.0" fill="rgb(134,134,134)" opacity="0.40"/>
<circle cx="450.9" cy="66.7" r="0.9" fill="rgb(251,251,251)" opacity="0.55"/>
<circle cx="482.1" cy="78.4" r="1.0" fill="rgb(130,130,130)" opacity="0.77"/>
<circle cx="523.8" cy="74.0" r="1.0" fill="rgb(139,139,139)" opacity="0.64"/>
<circle cx="482.3" cy="63.3" r="0.6" fill="rgb(210,210,210)" opacity="0.60"/>
<circle cx="488.0" cy="100.4" r="0.9" fill="rgb(145,145,145)" opacity="0.51"/>
<circle cx="456.7" cy="92.5" r="0.5" fill="rgb(219,219,219)" opacity="0.80"/>
<circle cx="524.6" cy="28.8" r="1.0" fill="rgb(197,197,197)" opacity="0.74"/>
<circle cx="486.3" cy="103.8" r="1.0" fill="rgb(138,138,138)" opacity="0.32"/>
<circle cx="538.7" cy="60.9" r="0.5" fill="rgb(115,115,115)" opacity="0.57"/>
<circle cx="516.3" cy="30.9" r="1.0" fill="rgb(251,251,251)" opacity="0.81"/>
<circle cx="453.0" cy="61.4" r="0.6" fill="rgb(116,116,116)" opacity="0.49"/>
<circle cx="479.0" cy="66.1" r="0.5" fill="rgb(118,118,118)" opacity="0.74"/>
<circle cx="429.9" cy="82.2" r="0.6" fill="rgb(210,210,210)" opacity="0.76"/>
<circle cx="503.5" cy="61.9" r="0.9" fill="rgb(168,168,168)" opacity="0.78"/>
<circle cx="482.5" cy="51.6" r="0.6" fill="rgb(245,245,245)" opacity="0.42"/>
<circle cx="476.7" cy="77.1" r="0.7" fill="rgb(209,209,209)" opacity="0.82"/>
<circle cx="421.7" cy="77.3" r="0.6" fill="rgb(195,195,195)" opacity="0.42"/>
<circle cx="500.8" cy="41.2" r="0.7" fill="rgb(179,179,179)" opacity="0.33"/>
<circle cx="463.5" cy="76.7" r="0.5" fill="rgb(145,145,145)" opacity="0.85"/>
<circle cx="471.7" cy="76.5" r="0.7" fill="rgb(135,135,135)" opacity="0.50"/>
<circle cx="515.4" cy="37.1" r="0.7" fill="rgb(146,146,146)" opacity="0.67"/>
<circle cx="535.6" cy="49.3" r="1.0" fill="rgb(202,202,202)" opacity="0.58"/>
<circle cx="506.2" cy="48.5" r="0.8" fill="rgb(196,196,196)" opacity="0.67"/>
<circle cx="469.2" cy="55.7" r="0.9" fill="rgb(187,187,187)" opacity="0.81"/>
<circle cx="457.7" cy="94.7" r="0.7" fill="rgb(251,251,251)" opacity="0.66"/>
<circle cx="531.0" cy="78.0" r="0.8" fill="rgb(187,187,187)" opacity="0.62"/>
<circle cx="463.5" cy="100.4" r="0.5" fill="rgb(219,219,219)" opacity="0.70"/>
<circle cx="520.8" cy="46.7" r="0.7" fill="rgb(154,154,154)" opacity="0.45"/>
<circle cx="486.0" cy="98.5" r="0.5" fill="rgb(178,178,178)" opacity="0.43"/>
<circle cx="444.8" cy="80.1" r="0.6" fill="rgb(238,238,238)" opacity="0.66"/>
<circle cx="489.5" cy="93.8" r="0.9" fill="rgb(111,111,111)" opacity="0.40"/>
<circle cx="424.2" cy="66.4" r="0.8" fill="rgb(196,196,196)" opacity="0.40"/>
<circle cx="515.8" cy="19.3" r="0.9" fill="rgb(195,195,195)" opacity="0.73"/>
<circle cx="524.9" cy="12.0" r="0.7" fill="rgb(191,191,191)" opacity="0.61"/>
<circle cx="427.7" cy="81.4" r="0.5" fill="rgb(194,194,194)" opacity="0.39"/>
<circle cx="517.9" cy="58.9" r="0.9" fill="rgb(247,247,247)" opacity="0.67"/>
<circle cx="498.0" cy="85.9" r="0.8" fill="rgb(250,250,250)" opacity="0.84"/>
<circle cx="487.6" cy="51.6" r="0.6" fill="rgb(245,245,245)" opacity="0.82"/>
<circle cx="451.1" cy="74.9" r="0.7" fill="rgb(135,135,135)" opacity="0.66"/>
<circle cx="438.9" cy="83.2" r="0.5" fill="rgb(212,212,212)" opacity="0.72"/>
<circle cx="532.5" cy="82.7" r="0.9" fill="rgb(141,141,141)" opacity="0.33"/>
<circle cx="445.4" cy="100.7" r="0.7" fill="rgb(176,176,176)" opacity="0.82"/>
<circle cx="513.7" cy="71.4" r="0.6" fill="rgb(199,199,199)" opacity="0.73"/>
<circle cx="528.2" cy="54.9" r="0.5" fill="rgb(164,164,164)" opacity="0.48"/>
<circle cx="433.8" cy="95.5" r="0.8" fill="rgb(126,126,126)" opacity="0.74"/>
<circle cx="501.2" cy="50.4" r="0.8" fill="rgb(168,168,168)" opacity="0.61"/>
<circle cx="528.9" cy="53.3" r="0.5" fill="rgb(167,167,167)" opacity="0.32"/>
<circle cx="452.2" cy="60.2" r="0.7" fill="rgb(169,169,169)" opacity="0.49"/>
<circle cx="511.3" cy="84.8" r="0.8" fill="rgb(186,186,186)" opacity="0.78"/>
<circle cx="446.8" cy="76.2" r="0.7" fill="rgb(150,150,150)" opacity="0.56"/>
<circle cx="534.6" cy="25.1" r="0.7" fill="rgb(186,186,186)" opacity="0.46"/>
<circle cx="513.1" cy="60.8" r="0.7" fill="rgb(221,221,221)" opacity="0.78"/>
<circle cx="480.8" cy="50.5" r="0.8" fill="rgb(153,153,153)" opacity="0.56"/>
<circle cx="425.5" cy="68.6" r="1.0" fill="rgb(169,169,169)" opacity="0.62"/>
<circle cx="538.9" cy="46.3" r="0.8" fill="rgb(138,138,138)" opacity="0.37"/>
<circle cx="536.5" cy="71.0" r="1.0" fill="rgb(110,110,110)" opacity="0.40"/>
<circle cx="485.3" cy="83.7" r="0.5" fill="rgb(249,249,249)" opacity="0.58"/>
<circle cx="534.9" cy="18.1" r="0.6" fill="rgb(165,165,165)" opacity="0.77"/>
<circle cx="508.0" cy="41.2" r="0.7" fill="rgb(155,155,155)" opacity="0.31"/>
<circle cx="481.5" cy="57.2" r="0.7" fill="rgb(252,252,252)" opacity="0.82"/>
<circle cx="422.3" cy="90.2" r="0.9" fill="rgb(226,226,226)" opacity="0.60"/>
<circle cx="460.4" cy="57.4" r="0.7" fill="rgb(178,178,178)" opacity="0.52"/>
<circle cx="485.3" cy="54.2" r="0.8" fill="rgb(148,148,148)" opacity="0.51"/>
<circle cx="449.5" cy="68.1" r="1.0" fill="rgb(175,175,175)" opacity="0.68"/>
<circle cx="529.1" cy="14.8" r="1.0" fill="rgb(252,252,252)" opacity="0.48"/>
<circle cx="473.6" cy="87.8" r="0.5" fill="rgb(226,226,226)" opacity="0.83"/>
<circle cx="477.3" cy="85.4" r="0.9" fill="rgb(230,230,230)" opacity="0.58"/>
<circle cx="486.0" cy="53.8" r="0.5" fill="rgb(206,206,206)" opacity="0.50"/>
<circle cx="467.8" cy="71.1" r="0.9" fill="rgb(192,192,192)" opacity="0.34"/>
<circle cx="512.1" cy="39.9" r="0.7" fill="rgb(231,231,231)" opacity="0.77"/>
<circle cx="483.1" cy="65.2" r="0.5" fill="rgb(166,166,166)" opacity="0.85"/>
<circle cx="531.4" cy="71.4" r="0.6" fill="rgb(244,244,244)" opacity="0.41"/>
<circle cx="517.8" cy="37.2" r="1.0" fill="rgb(154,154,154)" opacity="0.38"/>
<circle cx="475.8" cy="84.6" r="0.7" fill="rgb(121,121,121)" opacity="0.48"/>
<circle cx="463.4" cy="103.8" r="1.0" fill="rgb(243,243,243)" opacity="0.47"/>
<circle cx="474.5" cy="65.4" r="0.6" fill="rgb(154,154,154)" opacity="0.72"/>
<circle cx="479.2" cy="86.9" r="0.8" fill="rgb(204,204,204)" opacity="0.59"/>
<circle cx="451.1" cy="74.6" r="0.5" fill="rgb(110,110,110)" opacity="0.61"/>
<circle cx="491.3" cy="45.2" r="0.7" fill="rgb(249,249,249)" opacity="0.45"/>
<circle cx="473.1" cy="71.0" r="0.6" fill="rgb(236,236,236)" opacity="0.77"/>
<circle cx="455.6" cy="101.2" r="0.8" fill="rgb(121,121,121)" opacity="0.69"/>
<circle cx="464.7" cy="93.1" r="0.8" fill="rgb(185,185,185)" opacity="0.83"/>
<circle cx="462.9" cy="54.5" r="0.6" fill="rgb(143,143,143)" opacity="0.81"/>
<circle cx="467.8" cy="57.9" r="0.9" fill="rgb(116,116,116)" opacity="0.36"/>
<circle cx="476.0" cy="63.5" r="0.8" fill="rgb(221,221,221)" opacity="0.53"/>
<circle cx="467.1" cy="63.3" r="0.5" fill="rgb(133,133,133)" opacity="0.42"/>
<circle cx="446.7" cy="62.6" r="0.8" fill="rgb(161,161,161)" opacity="0.69"/>
<circle cx="523.7" cy="73.9" r="0.6" fill="rgb(216,216,216)" opacity="0.76"/>
<circle cx="524.8" cy="26.2" r="0.5" fill="rgb(195,195,195)" opacity="0.40"/>
<circle cx="443.2" cy="72.6" r="0.7" fill="rgb(243,243,243)" opacity="0.44"/>
<circle cx="466.7" cy="87.3" r="0.9" fill="rgb(186,186,186)" opacity="0.61"/>
<circle cx="466.2" cy="60.5" r="0.6" fill="rgb(248,248,248)" opacity="0.44"/>
<circle cx="499.1" cy="92.8" r="0.7" fill="rgb(146,146,146)" opacity="0.50"/>
<circle cx="458.4" cy="71.9" r="0.7" fill="rgb(214,214,214)" opacity="0.82"/>
<circle cx="493.7" cy="56.9" r="0.6" fill="rgb(223,223,223)" opacity="0.41"/>
<circle cx="523.7" cy="17.5" r="1.0" fill="rgb(237,237,237)" opacity="0.40"/>
<circle cx="487.8" cy="103.5" r="1.0" fill="rgb(237,237,237)" opacity="0.42"/>
<circle cx="501.3" cy="43.8" r="0.6" fill="rgb(164,164,164)" opacity="0.59"/>
<circle cx="432.3" cy="101.5" r="1.0" fill="rgb(122,122,122)" opacity="0.53"/>
<circle cx="473.6" cy="59.1" r="0.6" fill="rgb(124,124,124)" opacity="0.81"/>
<circle cx="490.3" cy="46.6" r="0.7" fill="rgb(253,253,253)" opacity="0.70"/>
<circle cx="529.5" cy="47.3" r="1.0" fill="rgb(164,164,164)" opacity="0.38"/>
<circle cx="537.6" cy="55.2" r="0.6" fill="rgb(118,118,118)" opacity="0.48"/>
<circle cx="497.3" cy="35.4" r="0.6" fill="rgb(249,249,249)" opacity="0.68"/>
<circle cx="476.3" cy="94.9" r="0.8" fill="rgb(220,220,220)" opacity="0.48"/>
<circle cx="483.6" cy="43.3" r="0.8" fill="rgb(199,199,199)" opacity="0.31"/>
<circle cx="457.1" cy="77.9" r="0.8" fill="rgb(132,132,132)" opacity="0.41"/>
<circle cx="521.6" cy="35.8" r="0.9" fill="rgb(186,186,186)" opacity="0.32"/>
<circle cx="462.7" cy="65.8" r="0.6" fill="rgb(194,194,194)" opacity="0.71"/>
<circle cx="475.1" cy="97.1" r="0.9" fill="rgb(138,138,138)" opacity="0.73"/>
<circle cx="425.7" cy="77.4" r="0.6" fill="rgb(215,215,215)" opacity="0.66"/>
<circle cx="430.1" cy="94.9" r="1.0" fill="rgb(151,151,151)" opacity="0.50"/>
<circle cx="533.0" cy="48.1" r="0.7" fill="rgb(232,232,232)" opacity="0.47"/>
<circle cx="434.9" cy="67.5" r="0.7" fill="rgb(247,247,247)" opacity="0.60"/>
<circle cx="484.7" cy="68.8" r="0.7" fill="rgb(203,203,203)" opacity="0.82"/>
<circle cx="524.7" cy="68.2" r="0.5" fill="rgb(134,134,134)" opacity="0.31"/>
<circle cx="479.1" cy="102.3" r="0.6" fill="rgb(163,163,163)" opacity="0.68"/>
<circle cx="471.5" cy="82.7" r="0.5" fill="rgb(138,138,138)" opacity="0.46"/>
<circle cx="431.0" cy="77.3" r="0.9" fill="rgb(169,169,169)" opacity="0.43"/>
<circle cx="450.2" cy="79.7" r="0.9" fill="rgb(135,135,135)" opacity="0.32"/>
<circle cx="513.0" cy="29.6" r="0.8" fill="rgb(187,187,187)" opacity="0.49"/>
<circle cx="514.8" cy="26.5" r="0.6" fill="rgb(240,240,240)" opacity="0.67"/>
<circle cx="525.8" cy="13.5" r="0.5" fill="rgb(244,244,244)" opacity="0.73"/>
<circle cx="510.4" cy="84.1" r="0.5" fill="rgb(160,160,160)" opacity="0.78"/>
<circle cx="432.0" cy="93.7" r="0.8" fill="rgb(199,199,199)" opacity="0.62"/>
<circle cx="516.5" cy="78.7" r="1.0" fill="rgb(221,221,221)" opacity="0.51"/>
<circle cx="514.7" cy="38.7" r="0.9" fill="rgb(169,169,169)" opacity="0.43"/>
<circle cx="467.6" cy="101.5" r="0.8" fill="rgb(197,197,197)" opacity="0.75"/>
<circle cx="533.8" cy="35.9" r="0.8" fill="rgb(196,196,196)" opacity="0.66"/>
<circle cx="470.8" cy="80.4" r="0.9" fill="rgb(227,227,227)" opacity="0.38"/>
<circle cx="521.5" cy="82.1" r="0.7" fill="rgb(184,184,184)" opacity="0.48"/>
<circle cx="469.5" cy="72.5" r="1.0" fill="rgb(171,171,171)" opacity="0.37"/>
<circle cx="495.6" cy="53.3" r="0.7" fill="rgb(157,157,157)" opacity="0.51"/>
<circle cx="535.0" cy="51.8" r="0.9" fill="rgb(167,167,167)" opacity="0.49"/>
<circle cx="536.2" cy="55.1" r="0.6" fill="rgb(112,112,112)" opacity="0.30"/>
<circle cx="488.3" cy="86.5" r="0.9" fill="rgb(200,200,200)" opacity="0.67"/>
<circle cx="510.6" cy="38.9" r="0.9" fill="rgb(216,216,216)" opacity="0.34"/>
<circle cx="505.4" cy="90.0" r="0.5" fill="rgb(243,243,243)" opacity="0.74"/>
<circle cx="529.0" cy="67.8" r="0.5" fill="rgb(203,203,203)" opacity="0.68"/>
<circle cx="502.3" cy="74.8" r="0.9" fill="rgb(224,224,224)" opacity="0.47"/>
<circle cx="438.2" cy="78.3" r="0.8" fill="rgb(240,240,240)" opacity="0.33"/>
<circle cx="441.7" cy="78.6" r="0.6" fill="rgb(181,181,181)" opacity="0.65"/>
<circle cx="455.6" cy="73.2" r="0.8" fill="rgb(217,217,217)" opacity="0.60"/>
<circle cx="501.5" cy="53.9" r="0.7" fill="rgb(202,202,202)" opacity="0.68"/>
<circle cx="444.9" cy="104.3" r="1.0" fill="rgb(125,125,125)" opacity="0.39"/>
<circle cx="482.9" cy="89.4" r="0.8" fill="rgb(123,123,123)" opacity="0.62"/>
<circle cx="513.5" cy="51.5" r="0.8" fill="rgb(157,157,157)" opacity="0.45"/>
<circle cx="529.1" cy="62.1" r="0.7" fill="rgb(214,214,214)" opacity="0.65"/>
<circle cx="484.7" cy="87.0" r="0.7" fill="rgb(215,215,215)" opacity="0.71"/>
<circle cx="467.6" cy="93.6" r="0.7" fill="rgb(211,211,211)" opacity="0.59"/>
<circle cx="522.3" cy="23.3" r="0.5" fill="rgb(225,225,225)" opacity="0.72"/>
<circle cx="484.3" cy="91.4" r="0.7" fill="rgb(188,188,188)" opacity="0.49"/>
<circle cx="429.3" cy="73.7" r="1.0" fill="rgb(215,215,215)" opacity="0.76"/>
<circle cx="496.4" cy="90.7" r="1.0" fill="rgb(213,213,213)" opacity="0.52"/>
<circle cx="520.9" cy="56.2" r="0.7" fill="rgb(237,237,237)" opacity="0.74"/>
<circle cx="438.1" cy="95.8" r="0.7" fill="rgb(215,215,215)" opacity="0.67"/>
<circle cx="500.5" cy="77.2" r="1.0" fill="rgb(213,213,213)" opacity="0.42"/>
<circle cx="439.0" cy="88.2" r="0.7" fill="rgb(171,171,171)" opacity="0.58"/>
<circle cx="525.6" cy="24.5" r="0.7" fill="rgb(208,208,208)" opacity="0.64"/>
<circle cx="493.0" cy="69.1" r="0.7" fill="rgb(164,164,164)" opacity="0.80"/>
<circle cx="432.2" cy="88.8" r="1.0" fill="rgb(130,130,130)" opacity="0.50"/>
<circle cx="534.5" cy="34.8" r="0.6" fill="rgb(227,227,227)" opacity="0.65"/>
<circle cx="474.2" cy="68.4" r="0.9" fill="rgb(224,224,224)" opacity="0.62"/>
<circle cx="519.5" cy="22.0" r="0.7" fill="rgb(167,167,167)" opacity="0.46"/>
<circle cx="535.8" cy="71.6" r="0.6" fill="rgb(168,168,168)" opacity="0.42"/>
<circle cx="489.7" cy="93.1" r="0.5" fill="rgb(167,167,167)" opacity="0.73"/>
<circle cx="517.5" cy="40.6" r="1.0" fill="rgb(205,205,205)" opacity="0.33"/>
<circle cx="534.6" cy="57.3" r="0.9" fill="rgb(124,124,124)" opacity="0.74"/>
<circle cx="429.5" cy="65.4" r="1.0" fill="rgb(144,144,144)" opacity="0.54"/>
<circle cx="525.8" cy="81.9" r="0.6" fill="rgb(158,158,158)" opacity="0.49"/>
<circle cx="527.8" cy="11.0" r="1.0" fill="rgb(160,160,160)" opacity="0.73"/>
<circle cx="487.7" cy="91.7" r="0.5" fill="rgb(185,185,185)" opacity="0.71"/>
<circle cx="496.0" cy="40.1" r="0.9" fill="rgb(200,200,200)" opacity="0.65"/>
<circle cx="513.5" cy="64.6" r="0.7" fill="rgb(131,131,131)" opacity="0.80"/>
<circle cx="488.0" cy="68.9" r="1.0" fill="rgb(163,163,163)" opacity="0.49"/>
<circle cx="537.7" cy="60.5" r="0.8" fill="rgb(208,208,208)" opacity="0.39"/>
<circle cx="446.5" cy="78.1" r="0.5" fill="rgb(207,207,207)" opacity="0.32"/>
<circle cx="526.8" cy="72.0" r="0.7" fill="rgb(128,128,128)" opacity="0.77"/>
<circle cx="478.7" cy="84.5" r="0.6" fill="rgb(162,162,162)" opacity="0.30"/>
<circle cx="528.8" cy="54.1" r="0.6" fill="rgb(136,136,136)" opacity="0.35"/>
<circle cx="533.4" cy="60.9" r="0.9" fill="rgb(222,222,222)" opacity="0.72"/>
<circle cx="477.0" cy="56.2" r="0.8" fill="rgb(171,171,171)" opacity="0.69"/>
<circle cx="503.4" cy="64.7" r="0.8" fill="rgb(146,146,146)" opacity="0.37"/>
<circle cx="496.4" cy="96.5" r="0.6" fill="rgb(119,119,119)" opacity="0.43"/>
<circle cx="531.8" cy="34.9" r="1.0" fill="rgb(121,121,121)" opacity="0.81"/>
<circle cx="489.8" cy="57.8" r="0.5" fill="rgb(120,120,120)" opacity="0.38"/>
<circle cx="484.0" cy="81.7" r="0.8" fill="rgb(192,192,192)" opacity="0.36"/>
<circle cx="530.0" cy="9.3" r="0.5" fill="rgb(117,117,117)" opacity="0.61"/>
<circle cx="480.8" cy="82.1" r="0.5" fill="rgb(247,247,247)" opacity="0.34"/>
<circle cx="499.7" cy="81.6" r="0.5" fill="rgb(227,227,227)" opacity="0.52"/>
<circle cx="443.3" cy="68.8" r="1.0" fill="rgb(227,227,227)" opacity="0.41"/>
<circle cx="537.2" cy="73.4" r="0.5" fill="rgb(200,200,200)" opacity="0.67"/>
<circle cx="522.0" cy="21.0" r="0.7" fill="rgb(204,204,204)" opacity="0.45"/>
<circle cx="511.7" cy="26.4" r="0.5" fill="rgb(195,195,195)" opacity="0.72"/>
<circle cx="428.0" cy="95.0" r="0.8" fill="rgb(144,144,144)" opacity="0.77"/>
<circle cx="494.6" cy="43.6" r="0.7" fill="rgb(175,175,175)" opacity="0.69"/>
<circle cx="477.3" cy="82.5" r="0.6" fill="rgb(193,193,193)" opacity="0.45"/>
<circle cx="422.6" cy="72.5" r="0.7" fill="rgb(197,197,197)" opacity="0.43"/>
<circle cx="530.6" cy="47.8" r="0.5" fill="rgb(171,171,171)" opacity="0.79"/>
<circle cx="519.2" cy="46.0" r="0.9" fill="rgb(196,196,196)" opacity="0.50"/>
<circle cx="435.5" cy="63.0" r="1.0" fill="rgb(164,164,164)" opacity="0.59"/>
<circle cx="500.0" cy="37.9" r="0.9" fill="rgb(214,214,214)" opacity="0.81"/>
<circle cx="442.0" cy="60.7" r="1.0" fill="rgb(152,152,152)" opacity="0.68"/>
<circle cx="454.8" cy="55.1" r="0.5" fill="rgb(197,197,197)" opacity="0.44"/>
<circle cx="497.3" cy="82.0" r="0.9" fill="rgb(146,146,146)" opacity="0.66"/>
<circle cx="430.3" cy="95.1" r="0.7" fill="rgb(247,247,247)" opacity="0.31"/>
<circle cx="429.9" cy="74.8" r="0.9" fill="rgb(236,236,236)" opacity="0.66"/>
<circle cx="502.8" cy="41.3" r="0.5" fill="rgb(225,225,225)" opacity="0.40"/>
<circle cx="503.9" cy="29.4" r="0.8" fill="rgb(134,134,134)" opacity="0.77"/>
<circle cx="439.8" cy="86.8" r="0.6" fill="rgb(189,189,189)" opacity="0.66"/>
<circle cx="426.4" cy="65.8" r="1.0" fill="rgb(124,124,124)" opacity="0.51"/>
<circle cx="431.6" cy="77.9" r="0.5" fill="rgb(125,125,125)" opacity="0.34"/>
<circle cx="532.4" cy="50.9" r="0.6" fill="rgb(248,248,248)" opacity="0.70"/>
<circle cx="465.0" cy="96.0" r="0.9" fill="rgb(204,204,204)" opacity="0.50"/>
<circle cx="529.2" cy="28.6" r="0.5" fill="rgb(207,207,207)" opacity="0.81"/>
<circle cx="464.5" cy="84.7" r="0.5" fill="rgb(230,230,230)" opacity="0.44"/>
<circle cx="427.0" cy="87.3" r="0.5" fill="rgb(204,204,204)" opacity="0.43"/>
<circle cx="477.2" cy="66.5" r="1.0" fill="rgb(138,138,138)" opacity="0.55"/>
<circle cx="479.6" cy="56.8" r="0.6" fill="rgb(234,234,234)" opacity="0.56"/>
<circle cx="529.3" cy="59.2" r="0.5" fill="rgb(125,125,125)" opacity="0.37"/>
<circle cx="452.7" cy="61.4" r="0.9" fill="rgb(171,171,171)" opacity="0.82"/>
<circle cx="427.8" cy="69.1" r="0.9" fill="rgb(233,233,233)" opacity="0.71"/>
<circle cx="531.5" cy="53.4" r="0.9" fill="rgb(125,125,125)" opacity="0.82"/>
<circle cx="427.7" cy="70.5" r="0.6" fill="rgb(240,240,240)" opacity="0.78"/>
<circle cx="433.1" cy="65.3" r="0.8" fill="rgb(229,229,229)" opacity="0.81"/>
<circle cx="514.4" cy="24.5" r="0.5" fill="rgb(225,225,225)" opacity="0.65"/>
<circle cx="445.4" cy="87.2" r="1.0" fill="rgb(202,202,202)" opacity="0.34"/>
<circle cx="538.1" cy="65.8" r="1.0" fill="rgb(156,156,156)" opacity="0.58"/>
<circle cx="498.7" cy="69.7" r="1.0" fill="rgb(116,116,116)" opacity="0.65"/>
<circle cx="509.1" cy="72.4" r="1.0" fill="rgb(169,169,169)" opacity="0.72"/>
<circle cx="493.0" cy="85.8" r="0.7" fill="rgb(147,147,147)" opacity="0.51"/>
<circle cx="510.1" cy="77.8" r="1.0" fill="rgb(126,126,126)" opacity="0.52"/>
<circle cx="443.9" cy="64.5" r="0.8" fill="rgb(189,189,189)" opacity="0.85"/>
<circle cx="505.4" cy="76.1" r="0.5" fill="rgb(151,151,151)" opacity="0.43"/>
<circle cx="493.2" cy="65.1" r="0.6" fill="rgb(250,250,250)" opacity="0.69"/>
<circle cx="452.1" cy="75.3" r="0.6" fill="rgb(180,180,180)" opacity="0.83"/>
<circle cx="510.6" cy="28.8" r="0.9" fill="rgb(218,218,218)" opacity="0.39"/>
<circle cx="451.1" cy="76.3" r="1.0" fill="rgb(167,167,167)" opacity="0.77"/>
<circle cx="529.9" cy="21.3" r="0.5" fill="rgb(114,114,114)" opacity="0.80"/>
<circle cx="524.6" cy="58.6" r="0.7" fill="rgb(245,245,245)" opacity="0.51"/>
<circle cx="450.0" cy="86.7" r="0.9" fill="rgb(204,204,204)" opacity="0.79"/>
<circle cx="527.8" cy="76.3" r="0.7" fill="rgb(156,156,156)" opacity="0.77"/>
<circle cx="497.6" cy="57.6" r="0.5" fill="rgb(244,244,244)" opacity="0.44"/>
<circle cx="502.2" cy="34.1" r="0.5" fill="rgb(193,193,193)" opacity="0.74"/>
<circle cx="473.9" cy="49.1" r="0.7" fill="rgb(156,156,156)" opacity="0.56"/>
<circle cx="514.5" cy="36.5" r="0.6" fill="rgb(220,220,220)" opacity="0.35"/>
<circle cx="485.6" cy="56.3" r="0.6" fill="rgb(144,144,144)" opacity="0.80"/>
<circle cx="465.1" cy="92.6" r="0.7" fill="rgb(207,207,207)" opacity="0.66"/>
<circle cx="469.3" cy="58.7" r="0.8" fill="rgb(129,129,129)" opacity="0.56"/>
<circle cx="533.1" cy="77.1" r="0.8" fill="rgb(201,201,201)" opacity="0.49"/>
<circle cx="458.4" cy="104.7" r="0.6" fill="rgb(114,114,114)" opacity="0.67"/>
<circle cx="495.9" cy="43.5" r="1.0" fill="rgb(250,250,250)" opacity="0.65"/>
<circle cx="450.6" cy="78.9" r="0.7" fill="rgb(160,160,160)" opacity="0.50"/>
<circle cx="491.9" cy="57.6" r="0.5" fill="rgb(253,253,253)" opacity="0.45"/>
<circle cx="444.6" cy="64.4" r="0.7" fill="rgb(128,128,128)" opacity="0.59"/>
<circle cx="455.7" cy="97.2" r="0.5" fill="rgb(176,176,176)" opacity="0.48"/>
<circle cx="536.9" cy="24.5" r="0.8" fill="rgb(194,194,194)" opacity="0.49"/>
<circle cx="437.8" cy="80.4" r="0.6" fill="rgb(253,253,253)" opacity="0.74"/>
<circle cx="520.8" cy="58.9" r="0.6" fill="rgb(185,185,185)" opacity="0.69"/>
<circle cx="439.1" cy="102.7" r="0.6" fill="rgb(225,225,225)" opacity="0.74"/>
<circle cx="477.2" cy="60.4" r="0.9" fill="rgb(113,113,113)" opacity="0.41"/>
<circle cx="475.4" cy="97.6" r="0.9" fill="rgb(238,238,238)" opacity="0.53"/>
<circle cx="506.4" cy="62.6" r="0.6" fill="rgb(159,159,159)" opacity="0.80"/>
<circle cx="527.9" cy="24.5" r="0.7" fill="rgb(125,125,125)" opacity="0.42"/>
<circle cx="426.8" cy="69.6" r="1.0" fill="rgb(148,148,148)" opacity="0.40"/>
<circle cx="525.4" cy="63.5" r="0.9" fill="rgb(160,160,160)" opacity="0.48"/>
<circle cx="502.6" cy="65.2" r="0.5" fill="rgb(189,189,189)" opacity="0.73"/>
<circle cx="499.4" cy="82.6" r="0.7" fill="rgb(221,221,221)" opacity="0.57"/>
<circle cx="516.6" cy="69.6" r="0.8" fill="rgb(225,225,225)" opacity="0.48"/>
<circle cx="532.6" cy="58.4" r="1.0" fill="rgb(205,205,205)" opacity="0.59"/>
<circle cx="532.1" cy="82.0" r="0.5" fill="rgb(136,136,136)" opacity="0.72"/>
<circle cx="496.8" cy="41.9" r="0.9" fill="rgb(119,119,119)" opacity="0.77"/>
<circle cx="436.3" cy="64.0" r="0.5" fill="rgb(118,118,118)" opacity="0.46"/>
<circle cx="461.6" cy="70.3" r="0.5" fill="rgb(147,147,147)" opacity="0.52"/>
<circle cx="500.8" cy="71.5" r="0.9" fill="rgb(128,128,128)" opacity="0.47"/>
<circle cx="492.8" cy="56.9" r="0.8" fill="rgb(171,171,171)" opacity="0.40"/>
<circle cx="505.2" cy="51.8" r="0.9" fill="rgb(172,172,172)" opacity="0.55"/>
<circle cx="528.6" cy="64.8" r="0.7" fill="rgb(157,157,157)" opacity="0.63"/>
<circle cx="511.3" cy="55.4" r="0.6" fill="rgb(161,161,161)" opacity="0.70"/>
<circle cx="482.1" cy="103.7" r="0.8" fill="rgb(117,117,117)" opacity="0.44"/>
<circle cx="537.2" cy="81.6" r="1.0" fill="rgb(190,190,190)" opacity="0.40"/>
<circle cx="461.9" cy="101.9" r="0.5" fill="rgb(175,175,175)" opacity="0.63"/>
<circle cx="534.3" cy="47.6" r="0.7" fill="rgb(191,191,191)" opacity="0.75"/>
<circle cx="534.0" cy="44.6" r="0.7" fill="rgb(200,200,200)" opacity="0.52"/>
<circle cx="529.2" cy="57.4" r="0.6" fill="rgb(255,255,255)" opacity="0.72"/>
<circle cx="518.2" cy="85.0" r="1.0" fill="rgb(123,123,123)" opacity="0.84"/>
<circle cx="457.5" cy="68.5" r="0.7" fill="rgb(193,193,193)" opacity="0.51"/>
<circle cx="436.9" cy="72.6" r="0.5" fill="rgb(196,196,196)" opacity="0.67"/>
<circle cx="524.5" cy="73.6" r="0.8" fill="rgb(226,226,226)" opacity="0.82"/>
<circle cx="524.5" cy="34.3" r="0.5" fill="rgb(197,197,197)" opacity="0.50"/>
<circle cx="424.1" cy="103.0" r="0.9" fill="rgb(168,168,168)" opacity="0.50"/>
<circle cx="429.1" cy="96.5" r="1.0" fill="rgb(160,160,160)" opacity="0.77"/>
<circle cx="468.8" cy="103.7" r="1.0" fill="rgb(206,206,206)" opacity="0.47"/>
<circle cx="526.6" cy="77.1" r="1.0" fill="rgb(191,191,191)" opacity="0.79"/>
<circle cx="527.6" cy="17.1" r="1.0" fill="rgb(224,224,224)" opacity="0.53"/>
<circle cx="498.9" cy="76.1" r="0.8" fill="rgb(228,228,228)" opacity="0.62"/>
<circle cx="539.8" cy="30.7" r="1.0" fill="rgb(184,184,184)" opacity="0.75"/>
<circle cx="539.1" cy="60.1" r="0.5" fill="rgb(207,207,207)" opacity="0.65"/>
<circle cx="531.6" cy="32.8" r="0.9" fill="rgb(187,187,187)" opacity="0.85"/>
<circle cx="508.1" cy="31.0" r="0.5" fill="rgb(249,249,249)" opacity="0.71"/>
<circle cx="487.8" cy="102.8" r="1.0" fill="rgb(156,156,156)" opacity="0.31"/>
<circle cx="486.6" cy="98.6" r="0.5" fill="rgb(255,255,255)" opacity="0.50"/>
</g>
</g>
<rect x="421.5" y="9.0" width="0.8" height="118.0" fill="#9a9a9a" opacity="0.6"/>
<text x="425.5" y="28.5" font-size="17.5" text-anchor="start" fill="#f2e524" stroke="#f2e524" stroke-width="0.7" letter-spacing="0.8">Ir</text>
<circle cx="499.5" cy="32.2" r="2.7" fill="#1e1e1e" stroke="#dcd43a" stroke-width="1.3"/>
<circle cx="499.5" cy="32.2" r="0.7" fill="#bbb"/>
<circle cx="491.5" cy="39.6" r="2.7" fill="#1e1e1e" stroke="#dcd43a" stroke-width="1.3"/>
<circle cx="491.5" cy="39.6" r="0.7" fill="#bbb"/>
<circle cx="491.5" cy="50" r="2.7" fill="#1e1e1e" stroke="#dcd43a" stroke-width="1.3"/>
<circle cx="491.5" cy="50" r="0.7" fill="#bbb"/>
<circle cx="499.5" cy="56" r="2.7" fill="#1e1e1e" stroke="#dcd43a" stroke-width="1.3"/>
<circle cx="499.5" cy="56" r="0.7" fill="#bbb"/>
<circle cx="496.7" cy="61.8" r="2.7" fill="#1e1e1e" stroke="#dcd43a" stroke-width="1.3"/>
<circle cx="496.7" cy="61.8" r="0.7" fill="#bbb"/>
<circle cx="491.5" cy="66.4" r="2.7" fill="#1e1e1e" stroke="#dcd43a" stroke-width="1.3"/>
<circle cx="491.5" cy="66.4" r="0.7" fill="#bbb"/>
<circle cx="470" cy="72.2" r="2.7" fill="#1e1e1e" stroke="#dcd43a" stroke-width="1.3"/>
<circle cx="470" cy="72.2" r="0.7" fill="#bbb"/>
<circle cx="481.2" cy="70.2" r="2.7" fill="#1e1e1e" stroke="#dcd43a" stroke-width="1.3"/>
<circle cx="481.2" cy="70.2" r="0.7" fill="#bbb"/>
<circle cx="476" cy="79.6" r="2.7" fill="#1e1e1e" stroke="#dcd43a" stroke-width="1.3"/>
<circle cx="476" cy="79.6" r="0.7" fill="#bbb"/>
<rect x="429.0" y="119.8" width="30.0" height="3.6" fill="#fff" />
<text x="431.5" y="118.0" font-size="8.5" text-anchor="start" fill="#fff" stroke="#fff" stroke-width="0.3">5nm</text>
<rect x="64.4" y="174.5" width="183.4" height="121.89999999999998" fill="none" stroke="#000" stroke-width="1.5"/>
<line x1="61.8" y1="180.0" x2="64.4" y2="180.0" stroke="#000" stroke-width="1.2" />
<text transform="translate(60.00,182.60) scale(1,0.82)" font-size="8.5" text-anchor="end" fill="#000"  stroke="#000" stroke-width="0.36">0</text>
<line x1="61.8" y1="214.8" x2="64.4" y2="214.8" stroke="#000" stroke-width="1.2" />
<text transform="translate(60.00,217.40) scale(1,0.82)" font-size="8.5" text-anchor="end" fill="#000"  stroke="#000" stroke-width="0.36">-30</text>
<line x1="61.8" y1="249.6" x2="64.4" y2="249.6" stroke="#000" stroke-width="1.2" />
<text transform="translate(60.00,252.20) scale(1,0.82)" font-size="8.5" text-anchor="end" fill="#000"  stroke="#000" stroke-width="0.36">-60</text>
<line x1="61.8" y1="284.4" x2="64.4" y2="284.4" stroke="#000" stroke-width="1.2" />
<text transform="translate(60.00,287.00) scale(1,0.82)" font-size="8.5" text-anchor="end" fill="#000"  stroke="#000" stroke-width="0.36">-90</text>
<line x1="96.4" y1="296.4" x2="96.4" y2="299.0" stroke="#000" stroke-width="1.2" />
<text transform="translate(96.38,306.20) scale(1,0.82)" font-size="8.5" text-anchor="middle" fill="#000"  stroke="#000" stroke-width="0.36">-1.2</text>
<line x1="139.4" y1="296.4" x2="139.4" y2="299.0" stroke="#000" stroke-width="1.2" />
<text transform="translate(139.42,306.20) scale(1,0.82)" font-size="8.5" text-anchor="middle" fill="#000"  stroke="#000" stroke-width="0.36">-0.8</text>
<line x1="182.5" y1="296.4" x2="182.5" y2="299.0" stroke="#000" stroke-width="1.2" />
<text transform="translate(182.46,306.20) scale(1,0.82)" font-size="8.5" text-anchor="middle" fill="#000"  stroke="#000" stroke-width="0.36">-0.4</text>
<line x1="225.5" y1="296.4" x2="225.5" y2="299.0" stroke="#000" stroke-width="1.2" />
<text transform="translate(225.50,306.20) scale(1,0.82)" font-size="8.5" text-anchor="middle" fill="#000"  stroke="#000" stroke-width="0.36">0.0</text>
<text x="159.6" y="323.5" font-size="12.5" text-anchor="middle" fill="#000"  stroke="#000" stroke-width="0.36">E (V vs.RHE)</text>
<text transform="translate(35.8,238.4) rotate(-90)" font-size="10.2" letter-spacing="0.26" text-anchor="middle" stroke="#000" stroke-width="0.34">Current density (mA cm<tspan font-size="6.5" dy="-4">-2</tspan><tspan dy="4">)</tspan></text>
<line x1="70.5" y1="183.1" x2="84.5" y2="183.1" stroke="#000" stroke-width="1.5" />
<text x="88.0" y="186.0" font-size="8.1" text-anchor="start" fill="#000"  stroke="#000" stroke-width="0.36">PBN-300</text>
<line x1="70.5" y1="196.9" x2="84.5" y2="196.9" stroke="#a3a332" stroke-width="1.5" />
<text x="88.0" y="199.8" font-size="8.1" text-anchor="start" fill="#000"  stroke="#000" stroke-width="0.36">Pt/C</text>
<line x1="70.5" y1="210.0" x2="84.5" y2="210.0" stroke="#262690" stroke-width="1.5" />
<text x="88.0" y="212.9" font-size="8.1" text-anchor="start" fill="#000"  stroke="#000" stroke-width="0.36">Ir/C</text>
<line x1="70.5" y1="223.6" x2="84.5" y2="223.6" stroke="#e8202e" stroke-width="1.5" />
<text x="88.0" y="226.5" font-size="8.1" text-anchor="start" fill="#000"  stroke="#000" stroke-width="0.36">PBN-300-Ir</text>
<g clip-path="url(#cclip)">
<defs><clipPath id="cclip"><rect x="64.4" y="174.5" width="183.4" height="121.89999999999998"/></clipPath></defs>
<path d="M142.50,297.30 C143.02,293.42 144.65,280.93 145.60,274.00 C146.55,267.07 147.13,262.20 148.20,255.70 C149.27,249.20 150.70,241.12 152.00,235.00 C153.30,228.88 154.50,224.17 156.00,219.00 C157.50,213.83 159.27,208.58 161.00,204.00 C162.73,199.42 164.48,194.90 166.40,191.50 C168.32,188.10 170.32,185.48 172.50,183.60 C174.68,181.72 176.63,180.92 179.50,180.20 C182.37,179.48 182.15,179.47 189.70,179.30 C197.25,179.13 215.12,179.28 224.80,179.20 C234.48,179.12 243.97,178.87 247.80,178.80" fill="none" stroke="#000" stroke-width="1.6" stroke-linejoin="round" />
<path d="M197.00,298.00 C197.95,293.12 200.87,277.03 202.70,268.70 C204.53,260.37 205.83,256.65 208.00,248.00 C210.17,239.35 213.53,225.47 215.70,216.80 C217.87,208.13 219.52,201.72 221.00,196.00 C222.48,190.28 223.60,185.13 224.60,182.50 C225.60,179.87 225.77,180.63 227.00,180.20 C228.23,179.77 228.53,179.93 232.00,179.90 C235.47,179.87 245.17,179.98 247.80,180.00" fill="none" stroke="#a3a332" stroke-width="1.6" stroke-linejoin="round" />
<path d="M207.00,298.00 C208.00,292.25 210.90,276.17 213.00,263.50 C215.10,250.83 217.85,233.25 219.60,222.00 C221.35,210.75 222.47,202.67 223.50,196.00 C224.53,189.33 225.05,184.62 225.80,182.00 C226.55,179.38 226.80,180.53 228.00,180.30 C229.20,180.07 231.00,180.72 233.00,180.60 C235.00,180.48 237.53,179.70 240.00,179.60 C242.47,179.50 246.50,179.93 247.80,180.00" fill="none" stroke="#262690" stroke-width="1.6" stroke-linejoin="round" />
<path d="M215.70,298.00 C216.25,292.00 217.87,274.67 219.00,262.00 C220.13,249.33 221.47,234.83 222.50,222.00 C223.53,209.17 224.45,191.97 225.20,185.00 C225.95,178.03 226.03,181.07 227.00,180.20 C227.97,179.33 229.50,179.73 231.00,179.80 C232.50,179.87 234.33,180.58 236.00,180.60 C237.67,180.62 239.03,179.97 241.00,179.90 C242.97,179.83 246.67,180.15 247.80,180.20" fill="none" stroke="#e8202e" stroke-width="1.6" stroke-linejoin="round" />
</g>
<rect x="334" y="179" width="179.39999999999998" height="119" fill="none" stroke="#000" stroke-width="1.5"/>
<line x1="431.3" y1="180.0" x2="431.3" y2="297.0" stroke="#ccc" stroke-width="0.6" />
<line x1="331.5" y1="192.0" x2="334.0" y2="192.0" stroke="#000" stroke-width="1.2" />
<text transform="translate(330.50,195.20) scale(1,0.85)" font-size="10" text-anchor="end" fill="#000"  stroke="#000" stroke-width="0.36">54</text>
<line x1="331.5" y1="218.0" x2="334.0" y2="218.0" stroke="#000" stroke-width="1.2" />
<text transform="translate(330.50,221.20) scale(1,0.85)" font-size="10" text-anchor="end" fill="#000"  stroke="#000" stroke-width="0.36">52</text>
<line x1="331.5" y1="244.2" x2="334.0" y2="244.2" stroke="#000" stroke-width="1.2" />
<text transform="translate(330.50,247.40) scale(1,0.85)" font-size="10" text-anchor="end" fill="#000"  stroke="#000" stroke-width="0.36">50</text>
<text transform="translate(330.50,272.20) scale(1,0.85)" font-size="10" text-anchor="end" fill="#000"  stroke="#000" stroke-width="0.36">48</text>
<line x1="331.5" y1="285.0" x2="334.0" y2="285.0" stroke="#000" stroke-width="1.2" />
<text transform="translate(330.50,288.20) scale(1,0.85)" font-size="10" text-anchor="end" fill="#000"  stroke="#000" stroke-width="0.36">1</text>
<line x1="331.5" y1="297.6" x2="334.0" y2="297.6" stroke="#000" stroke-width="1.2" />
<text transform="translate(330.50,300.80) scale(1,0.85)" font-size="10" text-anchor="end" fill="#000"  stroke="#000" stroke-width="0.36">0</text>
<path d="M332.3,271.6 q2.5,-0.2 5.2,-2.6 M332.3,274.4 q2.5,-0.2 5.2,-2.6" stroke="#000" stroke-width="1.2" fill="none"/>
<line x1="513.4" y1="186.2" x2="515.9" y2="186.2" stroke="#000" stroke-width="1.2" />
<text transform="translate(518.50,189.40) scale(1,0.85)" font-size="10" text-anchor="start" fill="#000"  stroke="#000" stroke-width="0.36">45</text>
<line x1="513.4" y1="209.2" x2="515.9" y2="209.2" stroke="#000" stroke-width="1.2" />
<text transform="translate(518.50,212.40) scale(1,0.85)" font-size="10" text-anchor="start" fill="#000"  stroke="#000" stroke-width="0.36">36</text>
<line x1="513.4" y1="231.0" x2="515.9" y2="231.0" stroke="#000" stroke-width="1.2" />
<text transform="translate(518.50,234.20) scale(1,0.85)" font-size="10" text-anchor="start" fill="#000"  stroke="#000" stroke-width="0.36">27</text>
<line x1="513.4" y1="253.4" x2="515.9" y2="253.4" stroke="#000" stroke-width="1.2" />
<text transform="translate(518.50,256.60) scale(1,0.85)" font-size="10" text-anchor="start" fill="#000"  stroke="#000" stroke-width="0.36">18</text>
<line x1="513.4" y1="275.2" x2="515.9" y2="275.2" stroke="#000" stroke-width="1.2" />
<text transform="translate(518.50,278.40) scale(1,0.85)" font-size="10" text-anchor="start" fill="#000"  stroke="#000" stroke-width="0.36">9</text>
<line x1="513.4" y1="297.5" x2="515.9" y2="297.5" stroke="#000" stroke-width="1.2" />
<text transform="translate(518.50,300.70) scale(1,0.85)" font-size="10" text-anchor="start" fill="#000"  stroke="#000" stroke-width="0.36">0</text>
<text transform="translate(306.8,245) rotate(-90)" font-size="11" letter-spacing="0.23" text-anchor="middle" stroke="#000" stroke-width="0.34">Mass activity (A mg<tspan font-size="7" dy="-4">-1</tspan><tspan dy="4">)</tspan></text>
<text transform="translate(543,238) rotate(-90)" font-size="12" letter-spacing="0.26" text-anchor="middle" stroke="#000" stroke-width="0.34">Overpotential (mV)</text>
<rect x="337.8" y="183.5" width="13.2" height="6.4" fill="#848433" />
<text x="354.6" y="189.7" font-size="8.6" text-anchor="start" fill="#000"  stroke="#000" stroke-width="0.36">Pt/C</text>
<rect x="337.8" y="195.7" width="13.2" height="6.4" fill="#28288a" />
<text x="354.6" y="201.9" font-size="8.6" text-anchor="start" fill="#000"  stroke="#000" stroke-width="0.36">Ir/C</text>
<rect x="337.8" y="208.0" width="13.2" height="6.4" fill="#ec2028" />
<text x="354.6" y="214.2" font-size="8.6" text-anchor="start" fill="#000"  stroke="#000" stroke-width="0.36">PBN-300-Ir</text>
<text x="401.3" y="190.2" font-size="8.6" text-anchor="start" fill="#000"  stroke="#000" stroke-width="0.36">70 mV</text>
<text x="464.0" y="190.2" font-size="8.6" text-anchor="start" fill="#000"  stroke="#000" stroke-width="0.36">10 mA/cm<tspan font-size="5.5" dy="-3">-2</tspan></text>
<rect x="351.8" y="293.0" width="7.6" height="5.0" fill="#848433" />
<rect x="386.5" y="288.0" width="7.3" height="10.0" fill="#28288a" />
<rect x="414.5" y="223.1" width="7.2" height="74.9" fill="#ec2028" />
<rect x="414.3" y="269.3" width="7.6" height="2.8" fill="#fff" />
<rect x="441.9" y="191.0" width="7.3" height="107.0" fill="#848433" />
<rect x="469.2" y="248.3" width="7.1" height="49.7" fill="#28288a" />
<rect x="496.6" y="258.4" width="7.5" height="39.6" fill="#ec2028" />
<rect x="334" y="179" width="179.39999999999998" height="119" fill="none" stroke="#000" stroke-width="1.5"/>
<rect x="67.2" y="342.4" width="180.8" height="119.20000000000005" fill="none" stroke="#000" stroke-width="1.5"/>
<line x1="64.8" y1="356.4" x2="67.2" y2="356.4" stroke="#000" stroke-width="1.2" />
<text transform="translate(63.60,359.60) scale(1,0.85)" font-size="10" text-anchor="end" fill="#000"  stroke="#000" stroke-width="0.36">0.04</text>
<line x1="64.8" y1="398.6" x2="67.2" y2="398.6" stroke="#000" stroke-width="1.2" />
<text transform="translate(63.60,401.80) scale(1,0.85)" font-size="10" text-anchor="end" fill="#000"  stroke="#000" stroke-width="0.36">0.02</text>
<line x1="64.8" y1="439.4" x2="67.2" y2="439.4" stroke="#000" stroke-width="1.2" />
<text transform="translate(63.60,442.60) scale(1,0.85)" font-size="10" text-anchor="end" fill="#000"  stroke="#000" stroke-width="0.36">0.00</text>
<line x1="109.8" y1="461.6" x2="109.8" y2="464.2" stroke="#000" stroke-width="1.2" />
<text transform="translate(109.80,470.50) scale(1,0.82)" font-size="8.6" text-anchor="middle" fill="#000"  stroke="#000" stroke-width="0.36">0.3</text>
<line x1="153.8" y1="461.6" x2="153.8" y2="464.2" stroke="#000" stroke-width="1.2" />
<text transform="translate(153.80,470.50) scale(1,0.82)" font-size="8.6" text-anchor="middle" fill="#000"  stroke="#000" stroke-width="0.36">0.6</text>
<line x1="197.5" y1="461.6" x2="197.5" y2="464.2" stroke="#000" stroke-width="1.2" />
<text transform="translate(197.50,470.50) scale(1,0.82)" font-size="8.6" text-anchor="middle" fill="#000"  stroke="#000" stroke-width="0.36">0.9</text>
<line x1="240.7" y1="461.6" x2="240.7" y2="464.2" stroke="#000" stroke-width="1.2" />
<text transform="translate(240.70,470.50) scale(1,0.82)" font-size="8.6" text-anchor="middle" fill="#000"  stroke="#000" stroke-width="0.36">1.2</text>
<text x="157.6" y="488.0" font-size="12" text-anchor="middle" fill="#000"  stroke="#000" stroke-width="0.36">Log (|J| (mA cm<tspan font-size="7.5" dy="-4.5">-2</tspan><tspan dy="4.5">))</tspan></text>
<text transform="translate(38,402) rotate(-90)" font-size="11.5" letter-spacing="0.5" text-anchor="middle" stroke="#000" stroke-width="0.34">Overpotential (V)</text>
<polygon points="72,348 75.4,348 73.7,351" fill="#8e9a30"/>
<circle cx="73.7" cy="362.7" r="1.0" fill="#28288a"/>
<path d="M73.7,373 l0.5,1.1 1.2,0.1 -0.9,0.8 0.3,1.2 -1.1,-0.6 -1.1,0.6 0.3,-1.2 -0.9,-0.8 1.2,-0.1z" fill="#ec2028"/>
<text x="83.6" y="352.2" font-size="9.0" text-anchor="start" fill="#000"  stroke="#000" stroke-width="0.36">Pt/C</text>
<text x="84.2" y="364.9" font-size="9.0" text-anchor="start" fill="#000"  stroke="#000" stroke-width="0.36">Ir/C</text>
<text x="82.5" y="377.6" font-size="9.0" text-anchor="start" fill="#000"  stroke="#000" stroke-width="0.36">PBN-300-Ir</text>
<line x1="101.8" y1="423.4" x2="196.4" y2="373.2" stroke="#8e9a30" stroke-width="2.4" />
<line x1="124.2" y1="434.7" x2="211.5" y2="402.7" stroke="#28288a" stroke-width="2.4" />
<line x1="118.7" y1="442.4" x2="212.6" y2="406.4" stroke="#ec2028" stroke-width="2.4" />
<polygon points="100.2,418.0 103.4,418.0 101.8,420.6" fill="#8e9a30"/>
<polygon points="106.1,415.5 109.3,415.5 107.7,418.1" fill="#8e9a30"/>
<polygon points="112.0,413.1 115.2,413.1 113.6,415.7" fill="#8e9a30"/>
<polygon points="117.9,410.0 121.1,410.0 119.5,412.6" fill="#8e9a30"/>
<polygon points="123.9,407.3 127.0,407.3 125.5,409.9" fill="#8e9a30"/>
<polygon points="129.8,404.4 133.0,404.4 131.4,407.0" fill="#8e9a30"/>
<polygon points="135.7,401.2 138.9,401.2 137.3,403.8" fill="#8e9a30"/>
<polygon points="141.6,398.4 144.8,398.4 143.2,401.0" fill="#8e9a30"/>
<polygon points="147.5,395.4 150.7,395.4 149.1,398.0" fill="#8e9a30"/>
<polygon points="153.4,392.4 156.6,392.4 155.0,395.0" fill="#8e9a30"/>
<polygon points="159.3,388.6 162.5,388.6 160.9,391.2" fill="#8e9a30"/>
<polygon points="165.2,385.4 168.4,385.4 166.8,388.0" fill="#8e9a30"/>
<polygon points="171.2,381.8 174.3,381.8 172.8,384.4" fill="#8e9a30"/>
<polygon points="177.1,378.9 180.3,378.9 178.7,381.5" fill="#8e9a30"/>
<polygon points="183.0,375.3 186.2,375.3 184.6,377.9" fill="#8e9a30"/>
<polygon points="188.9,371.1 192.1,371.1 190.5,373.7" fill="#8e9a30"/>
<polygon points="194.8,368.2 198.0,368.2 196.4,370.8" fill="#8e9a30"/>
<rect x="123.0" y="432.2" width="2.0" height="2.0" fill="#28288a"/>
<rect x="128.2" y="430.1" width="2.0" height="2.0" fill="#28288a"/>
<rect x="133.3" y="428.2" width="2.0" height="2.0" fill="#28288a"/>
<rect x="138.5" y="425.9" width="2.0" height="2.0" fill="#28288a"/>
<rect x="143.7" y="423.9" width="2.0" height="2.0" fill="#28288a"/>
<rect x="148.8" y="422.4" width="2.0" height="2.0" fill="#28288a"/>
<rect x="154.0" y="420.2" width="2.0" height="2.0" fill="#28288a"/>
<rect x="159.2" y="418.4" width="2.0" height="2.0" fill="#28288a"/>
<rect x="164.3" y="416.5" width="2.0" height="2.0" fill="#28288a"/>
<rect x="169.5" y="414.5" width="2.0" height="2.0" fill="#28288a"/>
<rect x="174.7" y="412.9" width="2.0" height="2.0" fill="#28288a"/>
<rect x="179.8" y="411.0" width="2.0" height="2.0" fill="#28288a"/>
<rect x="185.0" y="409.4" width="2.0" height="2.0" fill="#28288a"/>
<rect x="190.2" y="407.3" width="2.0" height="2.0" fill="#28288a"/>
<rect x="195.3" y="405.5" width="2.0" height="2.0" fill="#28288a"/>
<rect x="200.5" y="402.8" width="2.0" height="2.0" fill="#28288a"/>
<rect x="205.7" y="399.8" width="2.0" height="2.0" fill="#28288a"/>
<rect x="210.8" y="396.6" width="2.0" height="2.0" fill="#28288a"/>
<rect x="216.0" y="393.4" width="2.0" height="2.0" fill="#28288a"/>
<path d="M114.0,441.2 l0.6,1.2 1.35,0.12 -1.0,0.85 0.37,1.35 -1.32,-0.72 -1.32,0.72 0.37,-1.35 -1.0,-0.85 1.35,-0.12z" fill="#ec2028"/>
<path d="M119.0,439.3 l0.6,1.2 1.35,0.12 -1.0,0.85 0.37,1.35 -1.32,-0.72 -1.32,0.72 0.37,-1.35 -1.0,-0.85 1.35,-0.12z" fill="#ec2028"/>
<path d="M124.0,437.3 l0.6,1.2 1.35,0.12 -1.0,0.85 0.37,1.35 -1.32,-0.72 -1.32,0.72 0.37,-1.35 -1.0,-0.85 1.35,-0.12z" fill="#ec2028"/>
<path d="M128.9,435.2 l0.6,1.2 1.35,0.12 -1.0,0.85 0.37,1.35 -1.32,-0.72 -1.32,0.72 0.37,-1.35 -1.0,-0.85 1.35,-0.12z" fill="#ec2028"/>
<path d="M133.9,433.0 l0.6,1.2 1.35,0.12 -1.0,0.85 0.37,1.35 -1.32,-0.72 -1.32,0.72 0.37,-1.35 -1.0,-0.85 1.35,-0.12z" fill="#ec2028"/>
<path d="M138.9,431.0 l0.6,1.2 1.35,0.12 -1.0,0.85 0.37,1.35 -1.32,-0.72 -1.32,0.72 0.37,-1.35 -1.0,-0.85 1.35,-0.12z" fill="#ec2028"/>
<path d="M143.8,429.2 l0.6,1.2 1.35,0.12 -1.0,0.85 0.37,1.35 -1.32,-0.72 -1.32,0.72 0.37,-1.35 -1.0,-0.85 1.35,-0.12z" fill="#ec2028"/>
<path d="M148.8,427.1 l0.6,1.2 1.35,0.12 -1.0,0.85 0.37,1.35 -1.32,-0.72 -1.32,0.72 0.37,-1.35 -1.0,-0.85 1.35,-0.12z" fill="#ec2028"/>
<path d="M153.8,425.8 l0.6,1.2 1.35,0.12 -1.0,0.85 0.37,1.35 -1.32,-0.72 -1.32,0.72 0.37,-1.35 -1.0,-0.85 1.35,-0.12z" fill="#ec2028"/>
<path d="M158.8,423.6 l0.6,1.2 1.35,0.12 -1.0,0.85 0.37,1.35 -1.32,-0.72 -1.32,0.72 0.37,-1.35 -1.0,-0.85 1.35,-0.12z" fill="#ec2028"/>
<path d="M163.8,422.0 l0.6,1.2 1.35,0.12 -1.0,0.85 0.37,1.35 -1.32,-0.72 -1.32,0.72 0.37,-1.35 -1.0,-0.85 1.35,-0.12z" fill="#ec2028"/>
<path d="M168.7,419.7 l0.6,1.2 1.35,0.12 -1.0,0.85 0.37,1.35 -1.32,-0.72 -1.32,0.72 0.37,-1.35 -1.0,-0.85 1.35,-0.12z" fill="#ec2028"/>
<path d="M173.7,418.3 l0.6,1.2 1.35,0.12 -1.0,0.85 0.37,1.35 -1.32,-0.72 -1.32,0.72 0.37,-1.35 -1.0,-0.85 1.35,-0.12z" fill="#ec2028"/>
<path d="M178.7,416.3 l0.6,1.2 1.35,0.12 -1.0,0.85 0.37,1.35 -1.32,-0.72 -1.32,0.72 0.37,-1.35 -1.0,-0.85 1.35,-0.12z" fill="#ec2028"/>
<path d="M183.6,413.7 l0.6,1.2 1.35,0.12 -1.0,0.85 0.37,1.35 -1.32,-0.72 -1.32,0.72 0.37,-1.35 -1.0,-0.85 1.35,-0.12z" fill="#ec2028"/>
<path d="M188.6,412.0 l0.6,1.2 1.35,0.12 -1.0,0.85 0.37,1.35 -1.32,-0.72 -1.32,0.72 0.37,-1.35 -1.0,-0.85 1.35,-0.12z" fill="#ec2028"/>
<path d="M193.6,410.6 l0.6,1.2 1.35,0.12 -1.0,0.85 0.37,1.35 -1.32,-0.72 -1.32,0.72 0.37,-1.35 -1.0,-0.85 1.35,-0.12z" fill="#ec2028"/>
<path d="M198.6,408.4 l0.6,1.2 1.35,0.12 -1.0,0.85 0.37,1.35 -1.32,-0.72 -1.32,0.72 0.37,-1.35 -1.0,-0.85 1.35,-0.12z" fill="#ec2028"/>
<path d="M203.6,406.9 l0.6,1.2 1.35,0.12 -1.0,0.85 0.37,1.35 -1.32,-0.72 -1.32,0.72 0.37,-1.35 -1.0,-0.85 1.35,-0.12z" fill="#ec2028"/>
<path d="M208.5,404.5 l0.6,1.2 1.35,0.12 -1.0,0.85 0.37,1.35 -1.32,-0.72 -1.32,0.72 0.37,-1.35 -1.0,-0.85 1.35,-0.12z" fill="#ec2028"/>
<path d="M213.5,402.3 l0.6,1.2 1.35,0.12 -1.0,0.85 0.37,1.35 -1.32,-0.72 -1.32,0.72 0.37,-1.35 -1.0,-0.85 1.35,-0.12z" fill="#ec2028"/>
<text x="71.0" y="404.2" font-size="8.8" text-anchor="start" fill="#8e9a30"  stroke="#8e9a30" stroke-width="0.36">37 mV dec<tspan font-size="6" dy="-3.5">-1</tspan></text>
<text x="176.4" y="395.0" font-size="8.8" text-anchor="start" fill="#28288a"  stroke="#28288a" stroke-width="0.36">26 mV dec<tspan font-size="6" dy="-3.5">-1</tspan></text>
<text x="152.0" y="447.3" font-size="8.8" text-anchor="start" fill="#ec2028"  stroke="#ec2028" stroke-width="0.36">25 mV dec<tspan font-size="6" dy="-3.5">-1</tspan></text>
<defs><clipPath id="fclip"><rect x="334.4" y="340.2" width="189.80000000000007" height="126.40000000000003"/></clipPath></defs>
<line x1="331.8" y1="365.0" x2="334.4" y2="365.0" stroke="#000" stroke-width="1.2" />
<text transform="translate(330.00,367.60) scale(1,0.82)" font-size="10.3" text-anchor="end" fill="#000"  stroke="#000" stroke-width="0.36">0</text>
<line x1="331.8" y1="403.0" x2="334.4" y2="403.0" stroke="#000" stroke-width="1.2" />
<text transform="translate(330.00,405.60) scale(1,0.82)" font-size="10.3" text-anchor="end" fill="#000"  stroke="#000" stroke-width="0.36">-30</text>
<line x1="331.8" y1="441.0" x2="334.4" y2="441.0" stroke="#000" stroke-width="1.2" />
<text transform="translate(330.00,443.60) scale(1,0.82)" font-size="10.3" text-anchor="end" fill="#000"  stroke="#000" stroke-width="0.36">-60</text>
<line x1="380.0" y1="466.6" x2="380.0" y2="469.2" stroke="#000" stroke-width="1.2" />
<text transform="translate(380.00,477.40) scale(1,0.82)" font-size="10.3" text-anchor="middle" fill="#000"  stroke="#000" stroke-width="0.36">-0.6</text>
<line x1="424.5" y1="466.6" x2="424.5" y2="469.2" stroke="#000" stroke-width="1.2" />
<text transform="translate(424.50,477.40) scale(1,0.82)" font-size="10.3" text-anchor="middle" fill="#000"  stroke="#000" stroke-width="0.36">-0.4</text>
<line x1="468.9" y1="466.6" x2="468.9" y2="469.2" stroke="#000" stroke-width="1.2" />
<text transform="translate(468.90,477.40) scale(1,0.82)" font-size="10.3" text-anchor="middle" fill="#000"  stroke="#000" stroke-width="0.36">-0.2</text>
<line x1="513.0" y1="466.6" x2="513.0" y2="469.2" stroke="#000" stroke-width="1.2" />
<text transform="translate(513.00,477.40) scale(1,0.82)" font-size="10.3" text-anchor="middle" fill="#000"  stroke="#000" stroke-width="0.36">0.0</text>
<text x="429.7" y="490.7" font-size="12.8" text-anchor="middle" fill="#000"  stroke="#000" stroke-width="0.36">E (V vs.RHE)</text>
<text transform="translate(311.5,406.5) rotate(-90)" font-size="10" letter-spacing="0.1" text-anchor="middle" stroke="#000" stroke-width="0.34">Current density (mA cm<tspan font-size="6.8" dy="-4">-2</tspan><tspan dy="4">)</tspan></text>
<line x1="336.5" y1="350.4" x2="352.3" y2="350.4" stroke="#000" stroke-width="1.6" />
<text x="355.5" y="353.8" font-size="9.5" text-anchor="start" fill="#000"  stroke="#000" stroke-width="0.36">Initial</text>
<line x1="336.5" y1="364.5" x2="352.3" y2="364.5" stroke="#e8202e" stroke-width="1.6" />
<text x="354.5" y="368.0" font-size="9.5" text-anchor="start" fill="#000"  stroke="#000" stroke-width="0.36">After 38 h Chronoamperometry</text>
<g clip-path="url(#fclip)">
<path d="M475.1,467.4 L499.8,399.8 C505.3,384.8 511,370.8 524.5,370.3" fill="none" stroke="#000" stroke-width="1.9"/>
<path d="M478.5,467.4 L500.5,395.9 C504.4,383.2 507.5,366.5 516,366.1 L524.5,366.2" fill="none" stroke="#e8202e" stroke-width="1.9"/>
</g>
<rect x="334.4" y="340.2" width="189.80000000000007" height="126.40000000000003" fill="none" stroke="#000" stroke-width="1.5"/>
<rect x="354.8" y="371.5" width="112.0" height="75.0" fill="#fff" stroke="#000" stroke-width="1"/>
<line x1="353.3" y1="387.0" x2="354.8" y2="387.0" stroke="#000" stroke-width="0.8" />
<text x="352.3" y="389.0" font-size="5.5" text-anchor="end" fill="#000"  stroke="#000" stroke-width="0.36">60</text>
<line x1="353.3" y1="409.0" x2="354.8" y2="409.0" stroke="#000" stroke-width="0.8" />
<text x="352.3" y="411.0" font-size="5.5" text-anchor="end" fill="#000"  stroke="#000" stroke-width="0.36">0</text>
<line x1="353.3" y1="431.0" x2="354.8" y2="431.0" stroke="#000" stroke-width="0.8" />
<text x="352.3" y="433.0" font-size="5.5" text-anchor="end" fill="#000"  stroke="#000" stroke-width="0.36">-60</text>
<line x1="354.3" y1="446.5" x2="354.3" y2="448.0" stroke="#000" stroke-width="0.8" />
<text x="354.3" y="453.3" font-size="5.5" text-anchor="middle" fill="#000"  stroke="#000" stroke-width="0.36">0</text>
<line x1="380.7" y1="446.5" x2="380.7" y2="448.0" stroke="#000" stroke-width="0.8" />
<text x="380.7" y="453.3" font-size="5.5" text-anchor="middle" fill="#000"  stroke="#000" stroke-width="0.36">9</text>
<line x1="407.6" y1="446.5" x2="407.6" y2="448.0" stroke="#000" stroke-width="0.8" />
<text x="407.6" y="453.3" font-size="5.5" text-anchor="middle" fill="#000"  stroke="#000" stroke-width="0.36">18</text>
<line x1="434.0" y1="446.5" x2="434.0" y2="448.0" stroke="#000" stroke-width="0.8" />
<text x="434.0" y="453.3" font-size="5.5" text-anchor="middle" fill="#000"  stroke="#000" stroke-width="0.36">27</text>
<line x1="460.3" y1="446.5" x2="460.3" y2="448.0" stroke="#000" stroke-width="0.8" />
<text x="460.3" y="453.3" font-size="5.5" text-anchor="middle" fill="#000"  stroke="#000" stroke-width="0.36">36</text>
<text x="411.2" y="462.5" font-size="7.8" text-anchor="middle" fill="#000"  stroke="#000" stroke-width="0.36">Time (h)</text>
<text transform="translate(341.8,408.5) rotate(-90)" font-size="5.4" text-anchor="middle" stroke="#000" stroke-width="0.12">Current density (mA cm<tspan font-size="3.6" dy="-2">-2</tspan><tspan dy="2">)</tspan></text>
<polyline points="355.8,412.8 357.7,412.9 359.5,413.1 361.4,413.2 363.3,413.2 365.1,413.2 367.0,413.1 368.9,412.9 370.7,412.7 372.6,412.5 374.4,412.3 376.3,412.2 378.2,412.1 380.0,412.1 381.9,412.1 383.8,412.2 385.6,412.2 387.5,412.3 389.4,412.4 391.2,412.5 393.1,412.6 395.0,412.6 396.8,412.6 398.7,412.6 400.5,412.7 402.4,412.8 404.3,413.0 406.1,413.1 408.0,413.1 409.9,413.1 411.7,413.0 413.6,412.9 415.5,412.7 417.3,412.6 419.2,412.5 421.1,412.4 422.9,412.3 424.8,412.3 426.6,412.3 428.5,412.4 430.4,412.5 432.2,412.7 434.1,412.8 436.0,413.0 437.8,413.1 439.7,413.2 441.6,413.3 443.4,413.3 445.3,413.3 447.2,413.2 449.0,413.1 450.9,413.0 452.7,412.9 454.6,412.7 456.5,412.6 458.3,412.4 460.2,412.4 462.1,412.3 463.9,412.3 465.8,412.3" fill="none" stroke="#e8202e" stroke-width="1.7" stroke-linejoin="round" stroke-dasharray="1.1,0.9"/>
</svg>
</body></html>
